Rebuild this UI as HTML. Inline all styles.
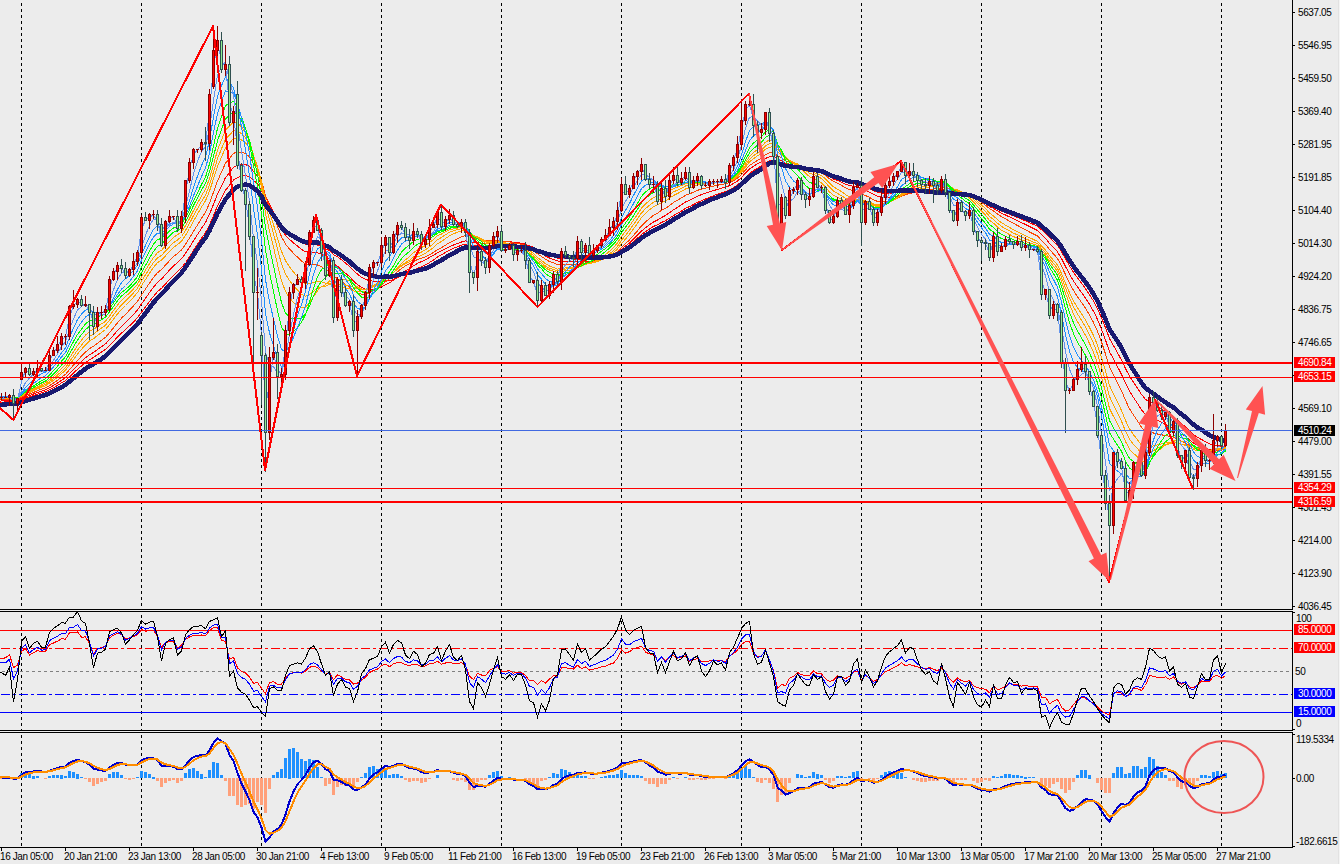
<!DOCTYPE html><html><head><meta charset="utf-8"><style>html,body{margin:0;padding:0;width:1340px;height:864px;overflow:hidden;background:#ECECEC}</style></head><body><svg width="1340" height="864" viewBox="0 0 1340 864" style="position:absolute;left:0;top:0"><rect width="1340" height="864" fill="#ECECEC"/><rect x="1338" y="0" width="1" height="864" fill="#E2E2E2"/><rect x="1339" y="0" width="1" height="864" fill="#F4F4F4"/><g stroke="#000" stroke-width="1" stroke-dasharray="3 3" shape-rendering="crispEdges"><line x1="21.5" y1="3" x2="21.5" y2="847"/><line x1="141.5" y1="3" x2="141.5" y2="847"/><line x1="261.5" y1="3" x2="261.5" y2="847"/><line x1="381.5" y1="3" x2="381.5" y2="847"/><line x1="501.5" y1="3" x2="501.5" y2="847"/><line x1="621.5" y1="3" x2="621.5" y2="847"/><line x1="741.5" y1="3" x2="741.5" y2="847"/><line x1="861.5" y1="3" x2="861.5" y2="847"/><line x1="981.5" y1="3" x2="981.5" y2="847"/><line x1="1101.5" y1="3" x2="1101.5" y2="847"/><line x1="1221.5" y1="3" x2="1221.5" y2="847"/></g><rect x="0" y="610" width="1293" height="1" fill="#ECECEC" shape-rendering="crispEdges"/><rect x="0" y="731" width="1293" height="1" fill="#ECECEC" shape-rendering="crispEdges"/><defs><clipPath id="cm"><rect x="0" y="0" width="1292" height="609"/></clipPath><clipPath id="c2"><rect x="0" y="612" width="1292" height="118"/></clipPath><clipPath id="c3"><rect x="0" y="733" width="1292" height="114"/></clipPath></defs><g clip-path="url(#cm)"><path d="M-2.5,402.8 L1.5,402.3 L5.5,401.9 L9.5,401.5 L13.5,401.4 L17.5,401.1 L21.5,399.6 L25.5,398.1 L29.5,396.8 L33.5,395.5 L37.5,394.1 L41.5,392.8 L45.5,391.6 L49.5,389.7 L53.5,387.7 L57.5,385.5 L61.5,382.9 L65.5,380.5 L69.5,376.8 L73.5,373.1 L77.5,369.3 L81.5,365.9 L85.5,362.6 L89.5,359.7 L93.5,357.5 L97.5,354.7 L101.5,352.1 L105.5,349.4 L109.5,345.5 L113.5,341.4 L117.5,337.1 L121.5,333.1 L125.5,329.6 L129.5,325.8 L133.5,321.9 L137.5,317.7 L141.5,312.1 L145.5,306.9 L149.5,301.5 L153.5,296.3 L157.5,291.7 L161.5,288.3 L165.5,283.9 L169.5,279.5 L173.5,275.2 L177.5,271.7 L181.5,267.8 L185.5,262.5 L189.5,256.6 L193.5,250.4 L197.5,244.4 L201.5,238.4 L205.5,232.6 L209.5,224.9 L213.5,215.5 L217.5,206.0 L221.5,198.1 L225.5,190.2 L229.5,185.3 L233.5,180.1 L237.5,177.5 L241.5,176.2 L245.5,175.7 L249.5,176.7 L253.5,180.3 L257.5,183.8 L261.5,190.2 L265.5,200.0 L269.5,206.3 L273.5,212.3 L277.5,219.4 L281.5,226.3 L285.5,231.2 L289.5,234.4 L293.5,237.1 L297.5,239.7 L301.5,242.3 L305.5,244.2 L309.5,244.6 L313.5,244.6 L317.5,245.0 L321.5,246.4 L325.5,248.7 L329.5,250.4 L333.5,254.5 L337.5,256.8 L341.5,259.7 L345.5,263.1 L349.5,266.2 L353.5,270.5 L357.5,274.1 L361.5,277.2 L365.5,279.5 L369.5,280.5 L373.5,281.2 L377.5,281.9 L381.5,281.6 L385.5,280.9 L389.5,280.7 L393.5,279.4 L397.5,277.6 L401.5,275.8 L405.5,274.2 L409.5,272.6 L413.5,270.5 L417.5,268.4 L421.5,266.8 L425.5,264.9 L429.5,262.5 L433.5,260.0 L437.5,257.0 L441.5,254.8 L445.5,252.5 L449.5,250.1 L453.5,248.3 L457.5,246.8 L461.5,245.2 L465.5,244.1 L469.5,244.9 L473.5,245.9 L477.5,245.8 L481.5,246.1 L485.5,246.8 L489.5,246.4 L493.5,245.6 L497.5,244.5 L501.5,244.3 L505.5,244.1 L509.5,243.8 L513.5,243.9 L517.5,243.9 L521.5,243.9 L525.5,244.4 L529.5,245.9 L533.5,247.4 L537.5,249.8 L541.5,251.5 L545.5,253.7 L549.5,255.4 L553.5,256.6 L557.5,258.1 L561.5,258.2 L565.5,258.5 L569.5,258.9 L573.5,259.3 L577.5,259.0 L581.5,259.1 L585.5,258.8 L589.5,259.0 L593.5,259.0 L597.5,258.7 L601.5,258.2 L605.5,257.5 L609.5,256.4 L613.5,255.0 L617.5,253.2 L621.5,250.2 L625.5,247.7 L629.5,244.9 L633.5,241.7 L637.5,238.2 L641.5,234.6 L645.5,231.6 L649.5,229.0 L653.5,226.4 L657.5,224.7 L661.5,222.5 L665.5,220.7 L669.5,218.2 L673.5,215.6 L677.5,213.3 L681.5,211.0 L685.5,208.4 L689.5,206.6 L693.5,204.5 L697.5,202.4 L701.5,200.7 L705.5,199.0 L709.5,197.3 L713.5,195.7 L717.5,194.2 L721.5,192.8 L725.5,191.6 L729.5,189.7 L733.5,187.6 L737.5,185.0 L741.5,181.5 L745.5,177.4 L749.5,173.5 L753.5,170.6 L757.5,168.2 L761.5,165.7 L765.5,162.7 L769.5,160.7 L773.5,159.8 L777.5,162.0 L781.5,163.1 L785.5,165.0 L789.5,165.8 L793.5,166.6 L797.5,167.0 L801.5,168.1 L805.5,169.3 L809.5,170.5 L813.5,170.7 L817.5,171.4 L821.5,172.0 L825.5,173.7 L829.5,175.9 L833.5,177.8 L837.5,179.0 L841.5,180.3 L845.5,182.1 L849.5,183.4 L853.5,183.9 L857.5,184.3 L861.5,186.4 L865.5,187.4 L869.5,188.8 L873.5,190.8 L877.5,192.2 L881.5,193.0 L885.5,193.2 L889.5,193.2 L893.5,193.0 L897.5,192.6 L901.5,191.8 L905.5,191.6 L909.5,191.3 L913.5,191.0 L917.5,191.0 L921.5,191.1 L925.5,191.1 L929.5,190.9 L933.5,190.8 L937.5,190.9 L941.5,190.4 L945.5,190.5 L949.5,191.3 L953.5,192.4 L957.5,192.8 L961.5,193.6 L965.5,194.5 L969.5,195.2 L973.5,196.8 L977.5,198.8 L981.5,200.8 L985.5,202.8 L989.5,205.4 L993.5,206.9 L997.5,209.1 L1001.5,211.0 L1005.5,212.6 L1009.5,214.2 L1013.5,215.9 L1017.5,217.5 L1021.5,219.3 L1025.5,220.9 L1029.5,222.7 L1033.5,224.4 L1037.5,226.2 L1041.5,229.8 L1045.5,233.2 L1049.5,237.6 L1053.5,241.4 L1057.5,245.5 L1061.5,251.6 L1065.5,258.9 L1069.5,265.9 L1073.5,272.3 L1077.5,277.9 L1081.5,283.2 L1085.5,288.6 L1089.5,294.6 L1093.5,301.1 L1097.5,308.7 L1101.5,317.8 L1105.5,327.8 L1109.5,338.5 L1113.5,345.6 L1117.5,352.8 L1121.5,360.1 L1125.5,368.5 L1129.5,376.2 L1133.5,382.3 L1137.5,388.2 L1141.5,394.4 L1145.5,399.4 L1149.5,401.6 L1153.5,403.9 L1157.5,406.4 L1161.5,409.0 L1165.5,411.2 L1169.5,414.2 L1173.5,416.5 L1177.5,420.1 L1181.5,423.8 L1185.5,426.8 L1189.5,430.7 L1193.5,434.5 L1197.5,437.4 L1201.5,439.5 L1205.5,441.8 L1209.5,443.8 L1213.5,444.8 L1217.5,445.4 L1221.5,446.3 L1225.5,446.3" fill="none" stroke="#FF0000" stroke-width="1" shape-rendering="crispEdges"/><path d="M-2.5,401.4 L1.5,401.0 L5.5,400.6 L9.5,400.2 L13.5,400.2 L17.5,400.0 L21.5,398.4 L25.5,396.7 L29.5,395.4 L33.5,394.0 L37.5,392.4 L41.5,391.1 L45.5,389.8 L49.5,387.7 L53.5,385.5 L57.5,383.1 L61.5,380.3 L65.5,377.7 L69.5,373.5 L73.5,369.5 L77.5,365.3 L81.5,361.5 L85.5,357.8 L89.5,354.7 L93.5,352.4 L97.5,349.5 L101.5,346.7 L105.5,343.9 L109.5,339.7 L113.5,335.2 L117.5,330.5 L121.5,326.3 L125.5,322.5 L129.5,318.6 L133.5,314.4 L137.5,310.0 L141.5,303.9 L145.5,298.3 L149.5,292.6 L153.5,287.1 L157.5,282.4 L161.5,279.0 L165.5,274.6 L169.5,270.1 L173.5,266.0 L177.5,262.6 L181.5,258.8 L185.5,253.4 L189.5,247.3 L193.5,240.8 L197.5,234.6 L201.5,228.4 L205.5,222.5 L209.5,214.3 L213.5,204.3 L217.5,194.1 L221.5,185.8 L225.5,177.6 L229.5,172.6 L233.5,167.4 L237.5,165.2 L241.5,164.4 L245.5,164.5 L249.5,166.5 L253.5,171.4 L257.5,176.3 L261.5,184.5 L265.5,196.5 L269.5,204.5 L273.5,212.1 L277.5,220.8 L281.5,229.2 L285.5,235.3 L289.5,239.3 L293.5,242.9 L297.5,246.1 L301.5,249.4 L305.5,251.7 L309.5,252.2 L313.5,252.2 L317.5,252.7 L321.5,254.3 L325.5,257.0 L329.5,258.9 L333.5,263.6 L337.5,266.3 L341.5,269.5 L345.5,273.2 L349.5,276.5 L353.5,281.1 L357.5,284.7 L361.5,287.5 L365.5,289.3 L369.5,289.6 L373.5,289.2 L377.5,288.7 L381.5,286.9 L385.5,284.6 L389.5,282.9 L393.5,280.2 L397.5,276.9 L401.5,273.8 L405.5,271.1 L409.5,268.7 L413.5,265.8 L417.5,263.3 L421.5,261.6 L425.5,259.8 L429.5,257.5 L433.5,255.3 L437.5,252.6 L441.5,250.8 L445.5,248.8 L449.5,246.6 L453.5,245.0 L457.5,243.5 L461.5,242.0 L465.5,240.9 L469.5,241.9 L473.5,243.0 L477.5,242.8 L481.5,243.1 L485.5,243.8 L489.5,243.4 L493.5,242.6 L497.5,241.6 L501.5,241.6 L505.5,241.7 L509.5,241.7 L513.5,242.3 L517.5,242.7 L521.5,243.2 L525.5,244.2 L529.5,246.3 L533.5,248.3 L537.5,251.3 L541.5,253.4 L545.5,256.0 L549.5,258.0 L553.5,259.4 L557.5,261.0 L561.5,261.1 L565.5,261.3 L569.5,261.7 L573.5,262.0 L577.5,261.4 L581.5,261.5 L585.5,261.1 L589.5,261.2 L593.5,261.0 L597.5,260.5 L601.5,259.6 L605.5,258.5 L609.5,257.0 L613.5,255.2 L617.5,252.9 L621.5,249.2 L625.5,246.1 L629.5,242.9 L633.5,239.1 L637.5,235.2 L641.5,231.0 L645.5,227.8 L649.5,224.8 L653.5,222.0 L657.5,220.1 L661.5,217.5 L665.5,215.5 L669.5,212.7 L673.5,209.8 L677.5,207.3 L681.5,204.8 L685.5,202.0 L689.5,200.2 L693.5,198.2 L697.5,196.1 L701.5,194.6 L705.5,193.3 L709.5,191.9 L713.5,190.6 L717.5,189.4 L721.5,188.2 L725.5,187.3 L729.5,185.6 L733.5,183.5 L737.5,181.0 L741.5,177.4 L745.5,173.1 L749.5,169.0 L753.5,166.2 L757.5,163.9 L761.5,161.5 L765.5,158.5 L769.5,156.6 L773.5,156.1 L777.5,159.1 L781.5,160.6 L785.5,163.1 L789.5,164.2 L793.5,165.2 L797.5,165.8 L801.5,167.0 L805.5,168.6 L809.5,169.9 L813.5,170.2 L817.5,171.1 L821.5,172.0 L825.5,174.1 L829.5,176.7 L833.5,179.0 L837.5,180.4 L841.5,182.1 L845.5,184.1 L849.5,185.7 L853.5,186.3 L857.5,186.8 L861.5,189.2 L865.5,190.5 L869.5,192.1 L873.5,194.4 L877.5,196.1 L881.5,197.0 L885.5,197.2 L889.5,197.2 L893.5,196.9 L897.5,196.2 L901.5,195.0 L905.5,194.4 L909.5,193.5 L913.5,192.8 L917.5,192.3 L921.5,191.8 L925.5,191.4 L929.5,190.7 L933.5,190.3 L937.5,190.1 L941.5,189.5 L945.5,189.5 L949.5,190.4 L953.5,191.8 L957.5,192.2 L961.5,193.1 L965.5,194.2 L969.5,195.0 L973.5,196.8 L977.5,199.0 L981.5,201.3 L985.5,203.6 L989.5,206.5 L993.5,208.4 L997.5,210.9 L1001.5,213.2 L1005.5,215.0 L1009.5,216.9 L1013.5,218.8 L1017.5,220.6 L1021.5,222.6 L1025.5,224.5 L1029.5,226.5 L1033.5,228.5 L1037.5,230.5 L1041.5,234.7 L1045.5,238.4 L1049.5,243.3 L1053.5,247.4 L1057.5,251.8 L1061.5,258.6 L1065.5,266.5 L1069.5,274.1 L1073.5,280.9 L1077.5,286.9 L1081.5,292.4 L1085.5,298.1 L1089.5,304.4 L1093.5,311.3 L1097.5,319.4 L1101.5,329.2 L1105.5,340.1 L1109.5,351.7 L1113.5,359.1 L1117.5,366.7 L1121.5,374.3 L1125.5,383.2 L1129.5,391.2 L1133.5,397.5 L1137.5,403.4 L1141.5,409.8 L1145.5,414.6 L1149.5,416.4 L1153.5,418.1 L1157.5,420.1 L1161.5,422.2 L1165.5,423.9 L1169.5,426.3 L1173.5,427.9 L1177.5,431.0 L1181.5,434.2 L1185.5,436.5 L1189.5,439.9 L1193.5,443.0 L1197.5,445.3 L1201.5,446.5 L1205.5,448.1 L1209.5,449.4 L1213.5,449.5 L1217.5,449.3 L1221.5,449.6 L1225.5,448.9" fill="none" stroke="#FF0000" stroke-width="1" shape-rendering="crispEdges"/><path d="M-2.5,400.0 L1.5,399.7 L5.5,399.4 L9.5,399.0 L13.5,399.2 L17.5,399.0 L21.5,397.3 L25.5,395.4 L29.5,394.0 L33.5,392.4 L37.5,390.7 L41.5,389.2 L45.5,387.8 L49.5,385.6 L53.5,383.1 L57.5,380.4 L61.5,377.3 L65.5,374.3 L69.5,369.7 L73.5,365.1 L77.5,360.3 L81.5,356.2 L85.5,352.1 L89.5,348.7 L93.5,346.3 L97.5,343.2 L101.5,340.3 L105.5,337.3 L109.5,332.7 L113.5,327.8 L117.5,322.8 L121.5,318.2 L125.5,314.3 L129.5,310.2 L133.5,305.9 L137.5,301.3 L141.5,294.9 L145.5,289.0 L149.5,283.1 L153.5,277.4 L157.5,272.7 L161.5,269.5 L165.5,265.1 L169.5,260.7 L173.5,256.6 L177.5,253.5 L181.5,249.9 L185.5,244.3 L189.5,238.0 L193.5,231.3 L197.5,224.9 L201.5,218.3 L205.5,212.2 L209.5,203.3 L213.5,192.2 L217.5,181.0 L221.5,172.0 L225.5,163.3 L229.5,158.5 L233.5,153.4 L237.5,151.9 L241.5,152.2 L245.5,153.5 L249.5,156.8 L253.5,163.6 L257.5,170.4 L261.5,180.9 L265.5,195.9 L269.5,206.1 L273.5,215.6 L277.5,226.4 L281.5,236.7 L285.5,244.1 L289.5,249.0 L293.5,253.3 L297.5,257.2 L301.5,261.1 L305.5,263.8 L309.5,264.5 L313.5,264.5 L317.5,265.0 L321.5,266.7 L325.5,269.6 L329.5,271.3 L333.5,276.3 L337.5,278.6 L341.5,281.4 L345.5,284.5 L349.5,286.9 L353.5,290.5 L357.5,292.9 L361.5,294.2 L365.5,294.3 L369.5,292.7 L373.5,290.6 L377.5,288.5 L381.5,285.2 L385.5,281.6 L389.5,278.9 L393.5,275.4 L397.5,271.7 L401.5,268.4 L405.5,265.9 L409.5,263.8 L413.5,261.5 L417.5,259.5 L421.5,258.3 L425.5,256.8 L429.5,254.7 L433.5,252.5 L437.5,249.6 L441.5,247.6 L445.5,245.2 L449.5,242.6 L453.5,240.6 L457.5,238.8 L461.5,236.8 L465.5,235.6 L469.5,236.9 L473.5,238.6 L477.5,238.8 L481.5,239.5 L485.5,240.9 L489.5,241.0 L493.5,240.6 L497.5,240.1 L501.5,240.8 L505.5,241.5 L509.5,241.9 L513.5,242.9 L517.5,243.6 L521.5,244.3 L525.5,245.6 L529.5,248.1 L533.5,250.5 L537.5,253.9 L541.5,256.4 L545.5,259.3 L549.5,261.5 L553.5,262.9 L557.5,264.8 L561.5,264.7 L565.5,264.8 L569.5,264.9 L573.5,265.1 L577.5,264.1 L581.5,263.8 L585.5,263.0 L589.5,262.7 L593.5,262.1 L597.5,261.1 L601.5,259.9 L605.5,258.4 L609.5,256.6 L613.5,254.4 L617.5,251.6 L621.5,247.3 L625.5,243.7 L629.5,239.9 L633.5,235.4 L637.5,230.8 L641.5,225.8 L645.5,222.0 L649.5,218.6 L653.5,215.3 L657.5,213.2 L661.5,210.4 L665.5,208.4 L669.5,205.5 L673.5,202.5 L677.5,200.2 L681.5,197.9 L685.5,195.3 L689.5,193.9 L693.5,192.2 L697.5,190.3 L701.5,189.2 L705.5,188.2 L709.5,187.1 L713.5,186.1 L717.5,185.2 L721.5,184.4 L725.5,183.8 L729.5,182.4 L733.5,180.6 L737.5,178.1 L741.5,174.4 L745.5,169.9 L749.5,165.6 L753.5,162.7 L757.5,160.4 L761.5,158.0 L765.5,154.6 L769.5,152.7 L773.5,152.2 L777.5,155.8 L781.5,157.8 L785.5,160.8 L789.5,162.2 L793.5,163.6 L797.5,164.5 L801.5,166.2 L805.5,168.2 L809.5,170.0 L813.5,170.5 L817.5,171.7 L821.5,172.9 L825.5,175.5 L829.5,178.7 L833.5,181.5 L837.5,183.2 L841.5,185.3 L845.5,187.8 L849.5,189.7 L853.5,190.5 L857.5,191.2 L861.5,194.0 L865.5,195.5 L869.5,197.3 L873.5,199.8 L877.5,201.4 L881.5,202.0 L885.5,201.6 L889.5,200.9 L893.5,199.8 L897.5,198.3 L901.5,196.2 L905.5,194.8 L909.5,193.3 L913.5,192.1 L917.5,191.3 L921.5,190.7 L925.5,190.2 L929.5,189.4 L933.5,188.9 L937.5,188.8 L941.5,188.0 L945.5,187.9 L949.5,189.0 L953.5,190.6 L957.5,191.1 L961.5,192.2 L965.5,193.5 L969.5,194.5 L973.5,196.8 L977.5,199.6 L981.5,202.4 L985.5,205.2 L989.5,208.7 L993.5,210.9 L997.5,214.0 L1001.5,216.6 L1005.5,218.8 L1009.5,221.1 L1013.5,223.4 L1017.5,225.5 L1021.5,227.8 L1025.5,229.8 L1029.5,232.0 L1033.5,234.0 L1037.5,236.0 L1041.5,240.4 L1045.5,244.3 L1049.5,249.5 L1053.5,253.9 L1057.5,258.5 L1061.5,265.9 L1065.5,274.7 L1069.5,283.0 L1073.5,290.4 L1077.5,296.7 L1081.5,302.4 L1085.5,308.3 L1089.5,315.1 L1093.5,322.5 L1097.5,331.2 L1101.5,342.0 L1105.5,354.0 L1109.5,366.8 L1113.5,374.7 L1117.5,382.7 L1121.5,390.7 L1125.5,400.3 L1129.5,408.8 L1133.5,415.1 L1137.5,421.0 L1141.5,427.2 L1145.5,431.6 L1149.5,432.3 L1153.5,433.0 L1157.5,434.0 L1161.5,434.9 L1165.5,435.3 L1169.5,436.6 L1173.5,437.0 L1177.5,439.2 L1181.5,441.5 L1185.5,442.9 L1189.5,445.6 L1193.5,448.1 L1197.5,449.7 L1201.5,450.2 L1205.5,451.2 L1209.5,452.1 L1213.5,451.5 L1217.5,450.6 L1221.5,450.1 L1225.5,448.7" fill="none" stroke="#FF4500" stroke-width="1" shape-rendering="crispEdges"/><path d="M-2.5,398.8 L1.5,398.5 L5.5,398.3 L9.5,398.0 L13.5,398.3 L17.5,398.2 L21.5,396.2 L25.5,394.1 L29.5,392.5 L33.5,390.7 L37.5,388.8 L41.5,387.2 L45.5,385.7 L49.5,383.1 L53.5,380.3 L57.5,377.1 L61.5,373.6 L65.5,370.2 L69.5,364.8 L73.5,359.5 L77.5,354.0 L81.5,349.3 L85.5,344.8 L89.5,341.1 L93.5,338.7 L97.5,335.5 L101.5,332.5 L105.5,329.5 L109.5,324.5 L113.5,319.3 L117.5,314.0 L121.5,309.3 L125.5,305.5 L129.5,301.5 L133.5,297.2 L137.5,292.6 L141.5,285.7 L145.5,279.5 L149.5,273.2 L153.5,267.4 L157.5,262.7 L161.5,260.0 L165.5,255.8 L169.5,251.5 L173.5,247.5 L177.5,244.7 L181.5,241.3 L185.5,235.4 L189.5,228.5 L193.5,221.1 L197.5,214.1 L201.5,207.1 L205.5,200.7 L209.5,191.1 L213.5,178.9 L217.5,166.6 L221.5,157.1 L225.5,147.7 L229.5,143.3 L233.5,138.5 L237.5,138.1 L241.5,139.9 L245.5,142.8 L249.5,148.2 L253.5,157.7 L257.5,167.0 L261.5,180.7 L265.5,199.7 L269.5,212.6 L273.5,224.8 L277.5,238.4 L281.5,251.4 L285.5,260.7 L289.5,266.8 L293.5,272.1 L297.5,276.6 L301.5,281.0 L305.5,283.7 L309.5,283.6 L313.5,282.4 L317.5,281.6 L321.5,281.9 L325.5,283.3 L329.5,283.1 L333.5,286.4 L337.5,286.4 L341.5,286.9 L345.5,288.0 L349.5,288.5 L353.5,290.8 L357.5,291.8 L361.5,292.0 L365.5,291.1 L369.5,288.6 L373.5,286.2 L377.5,284.0 L381.5,280.9 L385.5,277.5 L389.5,275.6 L393.5,272.6 L397.5,269.1 L401.5,266.0 L405.5,263.7 L409.5,261.8 L413.5,259.2 L417.5,256.9 L421.5,255.3 L425.5,253.3 L429.5,250.4 L433.5,247.5 L437.5,243.8 L441.5,241.4 L445.5,238.6 L449.5,235.7 L453.5,233.8 L457.5,232.2 L461.5,230.7 L465.5,230.1 L469.5,232.7 L473.5,235.8 L477.5,236.8 L481.5,238.6 L485.5,240.9 L489.5,241.5 L493.5,241.5 L497.5,241.1 L501.5,242.1 L505.5,243.0 L509.5,243.5 L513.5,244.6 L517.5,245.5 L521.5,246.2 L525.5,247.7 L529.5,250.7 L533.5,253.5 L537.5,257.6 L541.5,260.4 L545.5,263.7 L549.5,266.0 L553.5,267.4 L557.5,269.1 L561.5,268.4 L565.5,268.0 L569.5,267.6 L573.5,267.2 L577.5,265.6 L581.5,265.0 L585.5,263.7 L589.5,263.3 L593.5,262.6 L597.5,261.4 L601.5,259.8 L605.5,257.9 L609.5,255.4 L613.5,252.6 L617.5,249.0 L621.5,243.5 L625.5,239.1 L629.5,234.3 L633.5,228.9 L637.5,223.3 L641.5,217.6 L645.5,213.4 L649.5,209.8 L653.5,206.6 L657.5,204.9 L661.5,202.5 L665.5,200.9 L669.5,198.3 L673.5,195.5 L677.5,193.5 L681.5,191.4 L685.5,189.0 L689.5,188.0 L693.5,186.6 L697.5,185.1 L701.5,184.5 L705.5,184.1 L709.5,183.5 L713.5,183.1 L717.5,182.9 L721.5,182.6 L725.5,182.6 L729.5,181.3 L733.5,179.6 L737.5,176.9 L741.5,172.6 L745.5,167.2 L749.5,162.0 L753.5,158.6 L757.5,155.9 L761.5,153.1 L765.5,149.2 L769.5,147.1 L773.5,146.9 L777.5,151.8 L781.5,154.6 L785.5,158.6 L789.5,160.7 L793.5,162.7 L797.5,164.0 L801.5,166.3 L805.5,169.0 L809.5,171.3 L813.5,172.2 L817.5,173.9 L821.5,175.6 L825.5,179.0 L829.5,183.2 L833.5,186.8 L837.5,189.1 L841.5,191.6 L845.5,194.6 L849.5,196.7 L853.5,197.2 L857.5,197.3 L861.5,199.9 L865.5,200.8 L869.5,202.0 L873.5,203.9 L877.5,204.8 L881.5,204.5 L885.5,203.3 L889.5,201.9 L893.5,200.2 L897.5,198.2 L901.5,195.5 L905.5,193.9 L909.5,192.0 L913.5,190.5 L917.5,189.5 L921.5,188.7 L925.5,188.0 L929.5,187.0 L933.5,186.4 L937.5,186.3 L941.5,185.4 L945.5,185.6 L949.5,187.1 L953.5,189.4 L957.5,190.3 L961.5,191.8 L965.5,193.5 L969.5,194.9 L973.5,197.8 L977.5,201.4 L981.5,205.0 L985.5,208.6 L989.5,213.1 L993.5,215.9 L997.5,219.6 L1001.5,222.7 L1005.5,225.1 L1009.5,227.4 L1013.5,229.8 L1017.5,231.7 L1021.5,233.9 L1025.5,235.8 L1029.5,237.7 L1033.5,239.5 L1037.5,241.3 L1041.5,246.0 L1045.5,250.1 L1049.5,255.7 L1053.5,260.3 L1057.5,265.1 L1061.5,273.4 L1065.5,283.3 L1069.5,292.7 L1073.5,300.8 L1077.5,307.6 L1081.5,313.7 L1085.5,320.0 L1089.5,327.4 L1093.5,335.4 L1097.5,345.2 L1101.5,357.4 L1105.5,371.0 L1109.5,385.5 L1113.5,393.8 L1117.5,402.2 L1121.5,410.4 L1125.5,420.4 L1129.5,428.9 L1133.5,434.7 L1137.5,439.8 L1141.5,445.3 L1145.5,448.5 L1149.5,447.1 L1153.5,445.8 L1157.5,444.9 L1161.5,444.0 L1165.5,442.6 L1169.5,442.6 L1173.5,441.5 L1177.5,443.0 L1181.5,444.7 L1185.5,445.3 L1189.5,447.6 L1193.5,449.7 L1197.5,450.6 L1201.5,450.2 L1205.5,450.5 L1209.5,450.9 L1213.5,449.8 L1217.5,448.8 L1221.5,448.4 L1225.5,447.0" fill="none" stroke="#FFA500" stroke-width="1" shape-rendering="crispEdges"/><path d="M-2.5,398.1 L1.5,398.0 L5.5,397.8 L9.5,397.5 L13.5,397.9 L17.5,397.9 L21.5,395.8 L25.5,393.4 L29.5,391.7 L33.5,389.8 L37.5,387.8 L41.5,386.0 L45.5,384.4 L49.5,381.6 L53.5,378.5 L57.5,375.2 L61.5,371.3 L65.5,367.7 L69.5,361.7 L73.5,356.0 L77.5,350.1 L81.5,345.1 L85.5,340.3 L89.5,336.5 L93.5,334.2 L97.5,331.0 L101.5,328.1 L105.5,325.2 L109.5,320.2 L113.5,315.0 L117.5,309.6 L121.5,304.8 L125.5,301.0 L129.5,297.1 L133.5,292.8 L137.5,288.2 L141.5,281.1 L145.5,274.8 L149.5,268.4 L153.5,262.5 L157.5,257.9 L161.5,255.4 L165.5,251.1 L169.5,246.8 L173.5,242.7 L177.5,240.0 L181.5,236.5 L185.5,230.4 L189.5,223.3 L193.5,215.6 L197.5,208.6 L201.5,201.5 L205.5,195.1 L209.5,185.0 L213.5,171.9 L217.5,158.7 L221.5,148.8 L225.5,139.2 L229.5,135.1 L233.5,130.6 L237.5,131.0 L241.5,133.7 L245.5,137.6 L249.5,144.2 L253.5,155.5 L257.5,166.5 L261.5,182.6 L265.5,204.6 L269.5,219.5 L273.5,233.6 L277.5,249.2 L281.5,263.9 L285.5,274.1 L289.5,280.6 L293.5,285.8 L297.5,290.1 L301.5,294.2 L305.5,296.1 L309.5,294.6 L313.5,291.3 L317.5,288.4 L321.5,286.7 L325.5,286.4 L329.5,284.3 L333.5,286.6 L337.5,285.2 L341.5,284.7 L345.5,285.0 L349.5,285.0 L353.5,287.4 L357.5,288.6 L361.5,289.4 L365.5,289.3 L369.5,287.3 L373.5,285.3 L377.5,283.7 L381.5,281.0 L385.5,277.7 L389.5,275.9 L393.5,272.6 L397.5,268.8 L401.5,265.3 L405.5,262.6 L409.5,260.2 L413.5,256.9 L417.5,254.0 L421.5,252.0 L425.5,249.7 L429.5,246.7 L433.5,243.6 L437.5,239.8 L441.5,237.4 L445.5,234.8 L449.5,232.2 L453.5,230.7 L457.5,229.7 L461.5,228.6 L465.5,228.5 L469.5,231.9 L473.5,235.6 L477.5,237.0 L481.5,239.2 L485.5,241.9 L489.5,242.6 L493.5,242.5 L497.5,242.0 L501.5,243.1 L505.5,244.0 L509.5,244.6 L513.5,245.8 L517.5,246.7 L521.5,247.6 L525.5,249.2 L529.5,252.5 L533.5,255.4 L537.5,259.7 L541.5,262.6 L545.5,266.0 L549.5,268.2 L553.5,269.4 L557.5,270.9 L561.5,269.8 L565.5,269.1 L569.5,268.7 L573.5,268.3 L577.5,266.5 L581.5,265.7 L585.5,264.3 L589.5,263.7 L593.5,262.6 L597.5,261.1 L601.5,259.1 L605.5,256.8 L609.5,253.9 L613.5,250.6 L617.5,246.4 L621.5,240.3 L625.5,235.4 L629.5,230.2 L633.5,224.5 L637.5,218.8 L641.5,212.9 L645.5,208.7 L649.5,205.3 L653.5,202.2 L657.5,200.8 L661.5,198.5 L665.5,197.1 L669.5,194.6 L673.5,191.9 L677.5,190.1 L681.5,188.2 L685.5,186.0 L689.5,185.4 L693.5,184.4 L697.5,183.3 L701.5,183.1 L705.5,183.1 L709.5,182.9 L713.5,182.8 L717.5,182.7 L721.5,182.5 L725.5,182.6 L729.5,181.2 L733.5,179.2 L737.5,176.2 L741.5,171.2 L745.5,165.2 L749.5,159.4 L753.5,155.8 L757.5,152.9 L761.5,150.1 L765.5,146.0 L769.5,143.9 L773.5,143.9 L777.5,149.6 L781.5,152.9 L785.5,157.7 L789.5,160.2 L793.5,162.6 L797.5,164.3 L801.5,167.1 L805.5,170.3 L809.5,173.2 L813.5,174.4 L817.5,176.5 L821.5,178.5 L825.5,182.4 L829.5,187.2 L833.5,191.1 L837.5,193.4 L841.5,195.7 L845.5,198.4 L849.5,200.0 L853.5,199.9 L857.5,199.4 L861.5,201.7 L865.5,202.0 L869.5,202.7 L873.5,204.6 L877.5,205.6 L881.5,205.3 L885.5,204.0 L889.5,202.3 L893.5,200.3 L897.5,197.9 L901.5,194.9 L905.5,193.0 L909.5,190.9 L913.5,189.1 L917.5,187.8 L921.5,186.9 L925.5,186.2 L929.5,185.4 L933.5,184.9 L937.5,184.9 L941.5,184.1 L945.5,184.5 L949.5,186.3 L953.5,188.9 L957.5,190.0 L961.5,191.9 L965.5,194.0 L969.5,195.8 L973.5,199.3 L977.5,203.5 L981.5,207.6 L985.5,211.6 L989.5,216.5 L993.5,219.4 L997.5,223.2 L1001.5,226.4 L1005.5,228.7 L1009.5,230.9 L1013.5,233.1 L1017.5,234.9 L1021.5,237.0 L1025.5,238.7 L1029.5,240.5 L1033.5,242.1 L1037.5,243.6 L1041.5,248.4 L1045.5,252.6 L1049.5,258.6 L1053.5,263.4 L1057.5,268.4 L1061.5,277.3 L1065.5,287.9 L1069.5,298.0 L1073.5,306.7 L1077.5,313.9 L1081.5,320.4 L1085.5,327.0 L1089.5,334.8 L1093.5,343.3 L1097.5,353.7 L1101.5,366.7 L1105.5,381.2 L1109.5,396.5 L1113.5,404.8 L1117.5,413.1 L1121.5,421.2 L1125.5,431.1 L1129.5,439.3 L1133.5,444.3 L1137.5,448.7 L1141.5,453.6 L1145.5,455.9 L1149.5,453.1 L1153.5,450.5 L1157.5,448.4 L1161.5,446.6 L1165.5,444.5 L1169.5,443.9 L1173.5,442.2 L1177.5,443.1 L1181.5,444.3 L1185.5,444.2 L1189.5,446.2 L1193.5,448.1 L1197.5,449.0 L1201.5,448.7 L1205.5,449.5 L1209.5,450.3 L1213.5,449.5 L1217.5,448.4 L1221.5,448.3 L1225.5,447.1" fill="none" stroke="#FFA500" stroke-width="1" shape-rendering="crispEdges"/><path d="M-2.5,397.6 L1.5,397.5 L5.5,397.4 L9.5,397.1 L13.5,397.7 L17.5,397.8 L21.5,395.4 L25.5,392.8 L29.5,390.9 L33.5,388.8 L37.5,386.6 L41.5,384.7 L45.5,382.9 L49.5,379.8 L53.5,376.5 L57.5,372.8 L61.5,368.6 L65.5,364.6 L69.5,358.1 L73.5,351.8 L77.5,345.4 L81.5,340.1 L85.5,335.2 L89.5,331.4 L93.5,329.4 L97.5,326.4 L101.5,323.8 L105.5,321.3 L109.5,316.1 L113.5,310.6 L117.5,305.1 L121.5,300.3 L125.5,296.7 L129.5,292.9 L133.5,288.8 L137.5,284.3 L141.5,276.8 L145.5,270.2 L149.5,263.6 L153.5,257.5 L157.5,252.7 L161.5,250.3 L165.5,245.9 L169.5,241.4 L173.5,237.3 L177.5,234.9 L181.5,231.8 L185.5,225.7 L189.5,218.5 L193.5,210.6 L197.5,203.3 L201.5,195.9 L205.5,189.2 L209.5,178.5 L213.5,164.4 L217.5,150.3 L221.5,140.0 L225.5,130.0 L229.5,126.2 L233.5,121.8 L237.5,123.0 L241.5,126.9 L245.5,132.4 L249.5,141.0 L253.5,154.9 L257.5,168.4 L261.5,187.5 L265.5,213.4 L269.5,230.9 L273.5,247.0 L277.5,264.5 L281.5,280.6 L285.5,291.5 L289.5,297.9 L293.5,302.5 L297.5,305.6 L301.5,307.8 L305.5,307.3 L309.5,302.7 L313.5,296.6 L317.5,290.8 L321.5,286.8 L325.5,284.8 L329.5,280.9 L333.5,282.4 L337.5,280.1 L341.5,279.2 L345.5,279.8 L349.5,280.6 L353.5,284.4 L357.5,287.0 L361.5,288.8 L365.5,289.8 L369.5,288.5 L373.5,286.9 L377.5,285.3 L381.5,282.3 L385.5,278.6 L389.5,276.5 L393.5,272.6 L397.5,267.8 L401.5,263.2 L405.5,259.7 L409.5,256.6 L413.5,252.8 L417.5,249.6 L421.5,247.6 L425.5,245.4 L429.5,242.4 L433.5,239.4 L437.5,235.8 L441.5,234.0 L445.5,231.9 L449.5,229.8 L453.5,228.8 L457.5,228.1 L461.5,227.3 L465.5,227.5 L469.5,231.6 L473.5,236.0 L477.5,237.7 L481.5,240.2 L485.5,243.2 L489.5,244.0 L493.5,243.8 L497.5,243.2 L501.5,244.4 L505.5,245.5 L509.5,246.1 L513.5,247.5 L517.5,248.4 L521.5,249.1 L525.5,250.7 L529.5,254.1 L533.5,257.1 L537.5,261.6 L541.5,264.4 L545.5,267.9 L549.5,270.0 L553.5,271.1 L557.5,272.8 L561.5,271.6 L565.5,270.8 L569.5,270.2 L573.5,269.7 L577.5,267.5 L581.5,266.2 L585.5,264.3 L589.5,263.4 L593.5,261.9 L597.5,260.0 L601.5,257.5 L605.5,254.7 L609.5,251.2 L613.5,247.5 L617.5,243.0 L621.5,236.4 L625.5,231.3 L629.5,226.0 L633.5,220.1 L637.5,214.2 L641.5,208.1 L645.5,203.9 L649.5,200.5 L653.5,197.5 L657.5,196.4 L661.5,194.3 L665.5,193.2 L669.5,190.9 L673.5,188.5 L677.5,187.0 L681.5,185.5 L685.5,183.7 L689.5,183.6 L693.5,183.1 L697.5,182.4 L701.5,182.7 L705.5,182.9 L709.5,182.9 L713.5,182.9 L717.5,182.8 L721.5,182.6 L725.5,182.5 L729.5,180.8 L733.5,178.4 L737.5,174.9 L741.5,169.4 L745.5,162.7 L749.5,156.5 L753.5,152.6 L757.5,149.6 L761.5,146.6 L765.5,142.1 L769.5,140.0 L773.5,140.3 L777.5,147.2 L781.5,151.3 L785.5,157.1 L789.5,160.3 L793.5,163.4 L797.5,165.6 L801.5,169.1 L805.5,173.1 L809.5,176.7 L813.5,178.2 L817.5,180.7 L821.5,182.9 L825.5,187.1 L829.5,191.9 L833.5,195.5 L837.5,197.2 L841.5,199.1 L845.5,201.4 L849.5,202.4 L853.5,201.3 L857.5,200.0 L861.5,202.3 L865.5,202.5 L869.5,203.5 L873.5,205.7 L877.5,206.7 L881.5,206.2 L885.5,204.5 L889.5,202.5 L893.5,200.1 L897.5,197.3 L901.5,193.6 L905.5,191.3 L909.5,188.8 L913.5,186.9 L917.5,185.7 L921.5,185.0 L925.5,184.4 L929.5,183.6 L933.5,183.4 L937.5,183.5 L941.5,182.7 L945.5,183.2 L949.5,185.6 L953.5,188.8 L957.5,190.4 L961.5,192.9 L965.5,195.7 L969.5,197.8 L973.5,201.9 L977.5,206.5 L981.5,211.0 L985.5,215.2 L989.5,220.4 L993.5,223.2 L997.5,227.1 L1001.5,230.2 L1005.5,232.4 L1009.5,234.5 L1013.5,236.6 L1017.5,238.1 L1021.5,240.0 L1025.5,241.3 L1029.5,242.8 L1033.5,244.1 L1037.5,245.4 L1041.5,250.6 L1045.5,254.9 L1049.5,261.4 L1053.5,266.3 L1057.5,271.6 L1061.5,281.4 L1065.5,293.2 L1069.5,304.3 L1073.5,313.8 L1077.5,321.6 L1081.5,328.4 L1085.5,335.3 L1089.5,343.4 L1093.5,352.3 L1097.5,363.2 L1101.5,376.9 L1105.5,392.2 L1109.5,408.4 L1113.5,416.4 L1117.5,424.2 L1121.5,431.7 L1125.5,441.4 L1129.5,449.2 L1133.5,453.4 L1137.5,456.9 L1141.5,460.9 L1145.5,462.2 L1149.5,458.0 L1153.5,454.2 L1157.5,451.1 L1161.5,448.3 L1165.5,444.9 L1169.5,443.2 L1173.5,440.3 L1177.5,440.5 L1181.5,441.3 L1185.5,441.1 L1189.5,443.6 L1193.5,446.5 L1197.5,448.0 L1201.5,448.1 L1205.5,449.2 L1209.5,450.5 L1213.5,450.0 L1217.5,449.3 L1221.5,449.5 L1225.5,448.4" fill="none" stroke="#FFA500" stroke-width="1" shape-rendering="crispEdges"/><path d="M-2.5,397.1 L1.5,397.0 L5.5,397.0 L9.5,396.9 L13.5,397.6 L17.5,397.7 L21.5,395.0 L25.5,392.0 L29.5,389.9 L33.5,387.6 L37.5,385.1 L41.5,383.0 L45.5,381.1 L49.5,377.7 L53.5,374.0 L57.5,369.9 L61.5,365.2 L65.5,360.9 L69.5,353.7 L73.5,346.9 L77.5,340.1 L81.5,334.6 L85.5,329.7 L89.5,326.2 L93.5,324.7 L97.5,321.9 L101.5,319.6 L105.5,317.2 L109.5,312.0 L113.5,306.4 L117.5,300.8 L121.5,296.1 L125.5,292.8 L129.5,289.2 L133.5,285.2 L137.5,280.7 L141.5,272.6 L145.5,265.4 L149.5,258.1 L153.5,251.4 L157.5,246.4 L161.5,244.3 L165.5,240.0 L169.5,235.8 L173.5,232.2 L177.5,230.6 L181.5,228.0 L185.5,221.7 L189.5,214.0 L193.5,205.5 L197.5,197.8 L201.5,190.2 L205.5,183.4 L209.5,171.9 L213.5,156.4 L217.5,140.8 L221.5,129.6 L225.5,118.7 L229.5,115.4 L233.5,111.7 L237.5,114.6 L241.5,120.7 L245.5,128.5 L249.5,140.0 L253.5,157.6 L257.5,174.5 L261.5,197.5 L265.5,227.8 L269.5,247.8 L273.5,265.9 L277.5,285.3 L281.5,302.6 L285.5,312.9 L289.5,317.2 L293.5,319.0 L297.5,318.9 L301.5,318.0 L305.5,314.1 L309.5,305.9 L313.5,296.2 L317.5,287.4 L321.5,281.2 L325.5,277.7 L329.5,272.7 L333.5,274.7 L337.5,273.1 L341.5,273.6 L345.5,275.8 L349.5,278.1 L353.5,284.1 L357.5,288.5 L361.5,291.6 L365.5,293.1 L369.5,291.7 L373.5,289.8 L377.5,288.0 L381.5,284.1 L385.5,279.1 L389.5,275.7 L393.5,270.4 L397.5,264.3 L401.5,258.7 L405.5,254.7 L409.5,251.4 L413.5,247.4 L417.5,244.2 L421.5,242.6 L425.5,241.0 L429.5,238.6 L433.5,236.3 L437.5,233.1 L441.5,231.9 L445.5,230.1 L449.5,228.2 L453.5,227.4 L457.5,227.0 L461.5,226.2 L465.5,226.7 L469.5,231.6 L473.5,236.7 L477.5,238.7 L481.5,241.6 L485.5,245.1 L489.5,245.9 L493.5,245.8 L497.5,245.1 L501.5,246.4 L505.5,247.5 L509.5,248.0 L513.5,249.2 L517.5,249.9 L521.5,250.2 L525.5,251.6 L529.5,255.1 L533.5,258.1 L537.5,262.9 L541.5,265.9 L545.5,269.9 L549.5,272.5 L553.5,273.8 L557.5,275.8 L561.5,274.2 L565.5,273.0 L569.5,271.8 L573.5,270.8 L577.5,267.7 L581.5,265.9 L585.5,263.4 L589.5,262.0 L593.5,260.0 L597.5,257.5 L601.5,254.6 L605.5,251.5 L609.5,248.0 L613.5,244.1 L617.5,239.5 L621.5,232.6 L625.5,227.3 L629.5,221.9 L633.5,215.6 L637.5,209.3 L641.5,202.7 L645.5,198.4 L649.5,195.1 L653.5,192.3 L657.5,191.7 L661.5,190.0 L665.5,189.6 L669.5,187.8 L673.5,185.8 L677.5,184.9 L681.5,184.0 L685.5,182.6 L689.5,183.1 L693.5,182.9 L697.5,182.3 L701.5,182.7 L705.5,183.1 L709.5,183.0 L713.5,182.8 L717.5,182.5 L721.5,182.1 L725.5,182.0 L729.5,180.2 L733.5,177.6 L737.5,173.8 L741.5,167.6 L745.5,159.9 L749.5,152.8 L753.5,148.5 L757.5,145.3 L761.5,142.1 L765.5,137.4 L769.5,135.4 L773.5,136.3 L777.5,144.9 L781.5,150.3 L785.5,157.6 L789.5,161.8 L793.5,165.9 L797.5,168.9 L801.5,173.4 L805.5,178.2 L809.5,182.3 L813.5,183.7 L817.5,185.9 L821.5,187.5 L825.5,191.2 L829.5,195.8 L833.5,199.1 L837.5,199.9 L841.5,200.9 L845.5,202.5 L849.5,203.3 L853.5,201.9 L857.5,200.5 L861.5,203.3 L865.5,203.5 L869.5,204.5 L873.5,206.8 L877.5,207.8 L881.5,207.1 L885.5,204.9 L889.5,202.3 L893.5,199.1 L897.5,195.6 L901.5,191.5 L905.5,189.1 L909.5,186.5 L913.5,184.6 L917.5,183.4 L921.5,182.9 L925.5,182.5 L929.5,181.6 L933.5,181.5 L937.5,182.0 L941.5,181.4 L945.5,182.5 L949.5,185.8 L953.5,190.1 L957.5,192.2 L961.5,195.1 L965.5,198.3 L969.5,200.6 L973.5,204.9 L977.5,209.9 L981.5,214.6 L985.5,219.0 L989.5,224.5 L993.5,227.3 L997.5,231.4 L1001.5,234.4 L1005.5,236.3 L1009.5,238.1 L1013.5,239.8 L1017.5,240.8 L1021.5,242.3 L1025.5,243.4 L1029.5,244.7 L1033.5,245.7 L1037.5,246.7 L1041.5,252.3 L1045.5,256.8 L1049.5,264.0 L1053.5,269.4 L1057.5,275.3 L1061.5,286.4 L1065.5,299.8 L1069.5,312.3 L1073.5,322.7 L1077.5,331.0 L1081.5,337.9 L1085.5,344.8 L1089.5,353.1 L1093.5,362.1 L1097.5,373.3 L1101.5,387.7 L1105.5,403.7 L1109.5,420.5 L1113.5,427.8 L1117.5,434.9 L1121.5,441.9 L1125.5,451.3 L1129.5,458.5 L1133.5,461.6 L1137.5,464.3 L1141.5,468.0 L1145.5,468.5 L1149.5,462.3 L1153.5,456.5 L1157.5,451.4 L1161.5,446.8 L1165.5,441.7 L1169.5,438.9 L1173.5,435.3 L1177.5,435.9 L1181.5,437.8 L1185.5,438.3 L1189.5,441.8 L1193.5,445.4 L1197.5,447.7 L1201.5,448.5 L1205.5,450.5 L1209.5,452.5 L1213.5,452.4 L1217.5,451.9 L1221.5,452.1 L1225.5,450.4" fill="none" stroke="#00FF00" stroke-width="1" shape-rendering="crispEdges"/><path d="M-2.5,396.6 L1.5,396.7 L5.5,396.8 L9.5,396.7 L13.5,397.7 L17.5,397.9 L21.5,394.7 L25.5,391.1 L29.5,388.7 L33.5,386.0 L37.5,383.2 L41.5,380.8 L45.5,378.7 L49.5,374.9 L53.5,370.7 L57.5,366.2 L61.5,361.2 L65.5,356.7 L69.5,348.8 L73.5,341.5 L77.5,334.5 L81.5,329.0 L85.5,323.9 L89.5,320.6 L93.5,319.7 L97.5,317.3 L101.5,315.5 L105.5,313.8 L109.5,308.6 L113.5,303.0 L117.5,297.2 L121.5,292.6 L125.5,289.5 L129.5,286.0 L133.5,281.6 L137.5,276.5 L141.5,267.2 L145.5,259.1 L149.5,251.1 L153.5,244.2 L157.5,239.5 L161.5,238.5 L165.5,234.9 L169.5,231.1 L173.5,227.9 L177.5,226.8 L181.5,224.4 L185.5,217.8 L189.5,209.7 L193.5,200.7 L197.5,192.8 L201.5,184.5 L205.5,177.2 L209.5,163.9 L213.5,146.0 L217.5,128.3 L221.5,116.5 L225.5,105.5 L229.5,103.7 L233.5,101.2 L237.5,107.1 L241.5,116.8 L245.5,128.3 L249.5,143.7 L253.5,165.7 L257.5,186.3 L261.5,213.9 L265.5,249.8 L269.5,272.4 L273.5,291.4 L277.5,310.7 L281.5,326.8 L285.5,334.0 L289.5,334.2 L293.5,331.6 L297.5,327.3 L301.5,322.4 L305.5,314.5 L309.5,302.0 L313.5,288.4 L317.5,276.9 L321.5,269.5 L325.5,266.9 L329.5,263.1 L333.5,267.7 L337.5,267.9 L341.5,270.7 L345.5,275.5 L349.5,279.8 L353.5,287.7 L357.5,293.2 L361.5,297.0 L365.5,298.7 L369.5,296.4 L373.5,293.1 L377.5,289.4 L381.5,283.4 L385.5,276.6 L389.5,272.0 L393.5,265.6 L397.5,258.5 L401.5,252.2 L405.5,248.1 L409.5,244.9 L413.5,241.4 L417.5,239.1 L421.5,238.9 L425.5,238.4 L429.5,236.6 L433.5,234.7 L437.5,231.5 L441.5,230.6 L445.5,228.8 L449.5,226.8 L453.5,226.2 L457.5,225.9 L461.5,225.0 L465.5,225.7 L469.5,231.7 L473.5,238.0 L477.5,240.4 L481.5,244.0 L485.5,248.3 L489.5,249.3 L493.5,248.8 L497.5,247.5 L501.5,248.7 L505.5,249.4 L509.5,249.3 L513.5,250.2 L517.5,250.3 L521.5,250.1 L525.5,251.1 L529.5,255.1 L533.5,258.8 L537.5,264.9 L541.5,268.7 L545.5,273.6 L549.5,276.5 L553.5,277.6 L557.5,279.3 L561.5,276.7 L565.5,274.6 L569.5,272.7 L573.5,270.8 L577.5,266.7 L581.5,264.0 L585.5,260.6 L589.5,258.8 L593.5,256.6 L597.5,254.2 L601.5,251.3 L605.5,248.5 L609.5,245.1 L613.5,241.3 L617.5,236.6 L621.5,228.9 L625.5,223.1 L629.5,217.2 L633.5,210.3 L637.5,203.4 L641.5,196.3 L645.5,192.0 L649.5,189.0 L653.5,186.8 L657.5,187.3 L661.5,186.5 L665.5,187.2 L669.5,186.0 L673.5,184.6 L677.5,184.5 L681.5,183.8 L685.5,182.5 L689.5,183.3 L693.5,183.1 L697.5,182.3 L701.5,182.6 L705.5,182.8 L709.5,182.4 L713.5,182.1 L717.5,182.0 L721.5,181.7 L725.5,182.0 L729.5,179.9 L733.5,176.9 L737.5,172.4 L741.5,165.0 L745.5,156.0 L749.5,147.8 L753.5,143.1 L757.5,139.8 L761.5,136.6 L765.5,131.7 L769.5,130.2 L773.5,132.3 L777.5,143.7 L781.5,151.0 L785.5,160.6 L789.5,166.4 L793.5,171.8 L797.5,175.5 L801.5,180.5 L805.5,185.3 L809.5,188.8 L813.5,189.0 L817.5,190.2 L821.5,190.9 L825.5,193.9 L829.5,197.8 L833.5,200.2 L837.5,200.6 L841.5,201.7 L845.5,204.0 L849.5,204.9 L853.5,203.3 L857.5,201.3 L861.5,204.3 L865.5,204.3 L869.5,205.4 L873.5,207.8 L877.5,208.6 L881.5,207.2 L885.5,204.2 L889.5,201.1 L893.5,197.7 L897.5,193.8 L901.5,189.1 L905.5,186.6 L909.5,183.8 L913.5,181.7 L917.5,180.4 L921.5,180.0 L925.5,179.9 L929.5,179.5 L933.5,180.0 L937.5,181.5 L941.5,181.5 L945.5,183.3 L949.5,187.5 L953.5,192.6 L957.5,194.9 L961.5,198.0 L965.5,201.3 L969.5,203.5 L973.5,208.1 L977.5,213.5 L981.5,218.6 L985.5,223.3 L989.5,229.3 L993.5,231.8 L997.5,235.9 L1001.5,238.6 L1005.5,239.8 L1009.5,241.1 L1013.5,242.5 L1017.5,243.2 L1021.5,244.3 L1025.5,244.9 L1029.5,245.7 L1033.5,246.3 L1037.5,247.1 L1041.5,253.6 L1045.5,258.9 L1049.5,267.3 L1053.5,273.6 L1057.5,280.4 L1061.5,293.2 L1065.5,308.6 L1069.5,322.6 L1073.5,333.7 L1077.5,342.2 L1081.5,348.8 L1085.5,355.3 L1089.5,363.2 L1093.5,371.8 L1097.5,382.8 L1101.5,397.8 L1105.5,414.8 L1109.5,432.8 L1113.5,439.1 L1117.5,445.2 L1121.5,451.3 L1125.5,460.9 L1129.5,468.2 L1133.5,470.6 L1137.5,472.2 L1141.5,474.6 L1145.5,472.9 L1149.5,463.3 L1153.5,454.5 L1157.5,447.0 L1161.5,440.9 L1165.5,435.2 L1169.5,433.2 L1173.5,429.9 L1177.5,431.5 L1181.5,434.2 L1185.5,435.7 L1189.5,441.1 L1193.5,446.5 L1197.5,450.0 L1201.5,451.7 L1205.5,454.6 L1209.5,457.0 L1213.5,456.2 L1217.5,454.5 L1221.5,453.9 L1225.5,450.9" fill="none" stroke="#00FF00" stroke-width="1" shape-rendering="crispEdges"/><path d="M-2.5,396.4 L1.5,396.6 L5.5,396.8 L9.5,396.7 L13.5,398.0 L17.5,398.3 L21.5,394.3 L25.5,389.9 L29.5,386.9 L33.5,383.7 L37.5,380.4 L41.5,377.8 L45.5,375.6 L49.5,371.3 L53.5,366.9 L57.5,362.1 L61.5,356.9 L65.5,352.6 L69.5,343.9 L73.5,335.8 L77.5,327.9 L81.5,322.1 L85.5,317.1 L89.5,314.4 L93.5,314.9 L97.5,313.6 L101.5,312.8 L105.5,312.0 L109.5,306.6 L113.5,300.7 L117.5,294.4 L121.5,289.1 L125.5,285.5 L129.5,281.4 L133.5,276.4 L137.5,270.7 L141.5,260.3 L145.5,251.9 L149.5,243.8 L153.5,237.2 L157.5,233.2 L161.5,233.5 L165.5,230.0 L169.5,226.5 L173.5,223.8 L177.5,223.9 L181.5,222.5 L185.5,215.7 L189.5,206.4 L193.5,195.8 L197.5,186.3 L201.5,176.5 L205.5,168.2 L209.5,153.2 L213.5,132.8 L217.5,113.3 L221.5,101.3 L225.5,90.8 L229.5,92.3 L233.5,92.9 L237.5,103.2 L241.5,117.5 L245.5,133.4 L249.5,153.8 L253.5,182.1 L257.5,207.4 L261.5,239.5 L265.5,279.7 L269.5,301.9 L273.5,318.8 L277.5,336.2 L281.5,349.3 L285.5,351.8 L289.5,346.0 L293.5,337.4 L297.5,327.3 L301.5,317.9 L305.5,305.7 L309.5,289.4 L313.5,274.3 L317.5,262.8 L321.5,256.9 L325.5,256.7 L329.5,255.5 L333.5,264.8 L337.5,267.5 L341.5,272.3 L345.5,279.2 L349.5,285.0 L353.5,295.1 L357.5,301.4 L361.5,304.4 L365.5,304.1 L369.5,299.0 L373.5,293.2 L377.5,287.4 L381.5,279.6 L385.5,271.0 L389.5,265.7 L393.5,258.2 L397.5,250.2 L401.5,244.1 L405.5,241.1 L409.5,239.6 L413.5,237.3 L417.5,236.2 L421.5,237.1 L425.5,237.4 L429.5,235.8 L433.5,233.9 L437.5,230.5 L441.5,229.6 L445.5,227.6 L449.5,225.1 L453.5,224.4 L457.5,224.2 L461.5,223.5 L465.5,224.6 L469.5,232.6 L473.5,240.9 L477.5,244.1 L481.5,248.4 L485.5,253.2 L489.5,253.6 L493.5,252.2 L497.5,249.6 L501.5,250.1 L505.5,250.0 L509.5,248.9 L513.5,249.0 L517.5,248.8 L521.5,249.0 L525.5,250.8 L529.5,256.4 L533.5,261.3 L537.5,269.1 L541.5,273.4 L545.5,278.6 L549.5,281.2 L553.5,281.7 L557.5,282.8 L561.5,278.6 L565.5,275.0 L569.5,271.7 L573.5,268.5 L577.5,262.9 L581.5,259.8 L585.5,256.2 L589.5,254.8 L593.5,253.3 L597.5,251.4 L601.5,249.0 L605.5,246.5 L609.5,242.9 L613.5,238.8 L617.5,233.4 L621.5,224.3 L625.5,217.8 L629.5,211.2 L633.5,203.5 L637.5,196.1 L641.5,188.7 L645.5,185.1 L649.5,183.2 L653.5,182.0 L657.5,184.4 L661.5,184.9 L665.5,187.1 L669.5,186.4 L673.5,185.1 L677.5,185.2 L681.5,184.5 L685.5,182.7 L689.5,183.2 L693.5,182.5 L697.5,181.2 L701.5,181.5 L705.5,182.0 L709.5,182.0 L713.5,182.1 L717.5,182.3 L721.5,182.0 L725.5,182.2 L729.5,179.6 L733.5,175.7 L737.5,170.2 L741.5,161.1 L745.5,150.3 L749.5,140.7 L753.5,135.8 L757.5,132.9 L761.5,130.2 L765.5,125.6 L769.5,125.4 L773.5,129.8 L777.5,145.7 L781.5,156.0 L785.5,168.6 L789.5,175.6 L793.5,181.0 L797.5,183.7 L801.5,187.9 L805.5,192.0 L809.5,194.6 L813.5,192.5 L817.5,191.6 L821.5,190.2 L825.5,193.3 L829.5,198.1 L833.5,201.8 L837.5,202.5 L841.5,203.8 L845.5,206.3 L849.5,206.9 L853.5,204.5 L857.5,201.8 L861.5,205.2 L865.5,204.6 L869.5,205.1 L873.5,207.8 L877.5,208.8 L881.5,207.3 L885.5,203.9 L889.5,200.2 L893.5,196.1 L897.5,191.6 L901.5,185.8 L905.5,182.6 L909.5,179.4 L913.5,177.4 L917.5,176.7 L921.5,177.3 L925.5,178.4 L929.5,179.1 L933.5,180.6 L937.5,182.8 L941.5,182.9 L945.5,185.1 L949.5,189.8 L953.5,195.7 L957.5,197.9 L961.5,201.1 L965.5,204.5 L969.5,206.6 L973.5,211.9 L977.5,217.9 L981.5,223.3 L985.5,228.2 L989.5,234.4 L993.5,236.2 L997.5,240.0 L1001.5,242.6 L1005.5,243.3 L1009.5,243.9 L1013.5,244.6 L1017.5,244.3 L1021.5,244.9 L1025.5,245.0 L1029.5,245.8 L1033.5,246.4 L1037.5,247.5 L1041.5,255.6 L1045.5,262.1 L1049.5,272.4 L1053.5,279.6 L1057.5,287.3 L1061.5,302.2 L1065.5,320.0 L1069.5,335.6 L1073.5,347.2 L1077.5,355.1 L1081.5,360.4 L1085.5,365.1 L1089.5,372.0 L1093.5,379.9 L1097.5,391.2 L1101.5,407.2 L1105.5,425.4 L1109.5,445.2 L1113.5,450.7 L1117.5,456.7 L1121.5,462.7 L1125.5,472.6 L1129.5,478.7 L1133.5,478.3 L1137.5,476.9 L1141.5,476.8 L1145.5,472.2 L1149.5,458.8 L1153.5,447.9 L1157.5,440.1 L1161.5,434.0 L1165.5,427.9 L1169.5,426.0 L1173.5,423.3 L1177.5,427.3 L1181.5,432.6 L1185.5,435.9 L1189.5,444.0 L1193.5,452.0 L1197.5,456.5 L1201.5,457.6 L1205.5,459.7 L1209.5,461.2 L1213.5,458.7 L1217.5,455.3 L1221.5,453.2 L1225.5,448.8" fill="none" stroke="#1E90FF" stroke-width="1" shape-rendering="crispEdges"/><path d="M-2.5,396.3 L1.5,396.7 L5.5,397.1 L9.5,397.0 L13.5,398.6 L17.5,398.9 L21.5,393.3 L25.5,387.5 L29.5,383.7 L33.5,379.9 L37.5,376.2 L41.5,373.8 L45.5,372.0 L49.5,367.8 L53.5,363.7 L57.5,358.8 L61.5,352.9 L65.5,348.0 L69.5,337.4 L73.5,328.1 L77.5,319.5 L81.5,314.2 L85.5,310.1 L89.5,309.1 L93.5,312.0 L97.5,312.1 L101.5,312.9 L105.5,312.9 L109.5,306.0 L113.5,297.9 L117.5,289.4 L121.5,282.7 L125.5,278.8 L129.5,274.9 L133.5,270.5 L137.5,265.4 L141.5,254.2 L145.5,245.4 L149.5,236.6 L153.5,229.3 L157.5,225.7 L161.5,228.2 L165.5,226.0 L169.5,223.8 L173.5,222.6 L177.5,224.1 L181.5,222.7 L185.5,213.2 L189.5,200.8 L193.5,187.1 L197.5,176.1 L201.5,165.5 L205.5,157.2 L209.5,140.1 L213.5,116.9 L217.5,96.1 L221.5,85.6 L225.5,76.6 L229.5,82.9 L233.5,87.4 L237.5,104.9 L241.5,127.2 L245.5,150.0 L249.5,175.7 L253.5,208.3 L257.5,234.8 L261.5,268.9 L265.5,313.6 L269.5,332.8 L273.5,345.5 L277.5,359.1 L281.5,367.4 L285.5,362.1 L289.5,347.3 L293.5,330.8 L297.5,315.1 L301.5,304.3 L305.5,291.6 L309.5,274.2 L313.5,258.2 L317.5,248.7 L321.5,246.8 L325.5,251.2 L329.5,252.5 L333.5,266.9 L337.5,272.0 L341.5,279.5 L345.5,288.3 L349.5,293.8 L353.5,303.8 L357.5,308.4 L361.5,309.6 L365.5,306.5 L369.5,298.6 L373.5,290.0 L377.5,282.1 L381.5,271.7 L385.5,261.1 L389.5,256.4 L393.5,249.4 L397.5,242.4 L401.5,237.8 L405.5,236.4 L409.5,236.5 L413.5,235.1 L417.5,234.8 L421.5,236.8 L425.5,237.9 L429.5,236.2 L433.5,233.8 L437.5,228.8 L441.5,227.6 L445.5,225.2 L449.5,222.3 L453.5,221.9 L457.5,222.6 L461.5,222.6 L465.5,225.1 L469.5,236.2 L473.5,246.8 L477.5,250.1 L481.5,254.6 L485.5,259.4 L489.5,258.1 L493.5,254.2 L497.5,248.9 L501.5,247.8 L505.5,247.1 L509.5,246.3 L513.5,247.7 L517.5,248.3 L521.5,249.4 L525.5,252.6 L529.5,260.0 L533.5,265.6 L537.5,274.8 L541.5,279.2 L545.5,284.7 L549.5,286.6 L553.5,285.4 L557.5,285.1 L561.5,277.5 L565.5,271.7 L569.5,267.0 L573.5,263.7 L577.5,257.4 L581.5,255.0 L585.5,252.0 L589.5,252.0 L593.5,251.6 L597.5,250.1 L601.5,247.6 L605.5,244.7 L609.5,240.6 L613.5,235.6 L617.5,229.1 L621.5,217.7 L625.5,210.5 L629.5,203.5 L633.5,195.4 L637.5,188.0 L641.5,180.8 L645.5,178.7 L649.5,178.9 L653.5,179.8 L657.5,184.4 L661.5,186.0 L665.5,189.4 L669.5,188.6 L673.5,186.5 L677.5,185.7 L681.5,183.8 L685.5,180.8 L689.5,181.5 L693.5,181.0 L697.5,179.8 L701.5,181.2 L705.5,182.5 L709.5,182.6 L713.5,182.7 L717.5,182.7 L721.5,182.0 L725.5,182.2 L729.5,178.6 L733.5,173.6 L737.5,166.4 L741.5,155.0 L745.5,141.7 L749.5,130.6 L753.5,126.3 L757.5,125.1 L761.5,124.5 L765.5,121.2 L769.5,123.8 L773.5,131.9 L777.5,154.0 L781.5,166.8 L785.5,181.0 L789.5,187.2 L793.5,191.5 L797.5,192.2 L801.5,194.1 L805.5,195.4 L809.5,194.8 L813.5,190.6 L817.5,189.4 L821.5,189.0 L825.5,193.8 L829.5,200.6 L833.5,205.0 L837.5,205.2 L841.5,206.5 L845.5,209.5 L849.5,209.5 L853.5,204.9 L857.5,200.0 L861.5,203.9 L865.5,203.2 L869.5,204.7 L873.5,208.8 L877.5,210.2 L881.5,208.3 L885.5,204.0 L889.5,198.9 L893.5,192.8 L897.5,186.8 L901.5,179.6 L905.5,176.7 L909.5,174.2 L913.5,173.7 L917.5,174.9 L921.5,177.1 L925.5,179.5 L929.5,180.8 L933.5,182.6 L937.5,185.0 L941.5,184.4 L945.5,186.6 L949.5,192.2 L953.5,199.3 L957.5,201.4 L961.5,204.9 L965.5,208.6 L969.5,210.3 L973.5,216.1 L977.5,222.4 L981.5,227.9 L985.5,232.7 L989.5,240.0 L993.5,241.1 L997.5,244.8 L1001.5,246.4 L1005.5,245.5 L1009.5,244.8 L1013.5,244.7 L1017.5,243.9 L1021.5,244.4 L1025.5,244.9 L1029.5,245.9 L1033.5,247.0 L1037.5,248.5 L1041.5,259.2 L1045.5,267.3 L1049.5,279.9 L1053.5,288.1 L1057.5,296.4 L1061.5,314.0 L1065.5,334.7 L1069.5,351.4 L1073.5,361.9 L1077.5,367.7 L1081.5,370.2 L1085.5,373.0 L1089.5,378.3 L1093.5,384.7 L1097.5,396.4 L1101.5,415.7 L1105.5,438.9 L1109.5,463.5 L1113.5,467.5 L1117.5,471.1 L1121.5,473.8 L1125.5,481.4 L1129.5,484.2 L1133.5,479.3 L1137.5,474.7 L1141.5,474.2 L1145.5,469.9 L1149.5,453.4 L1153.5,439.8 L1157.5,429.8 L1161.5,423.6 L1165.5,418.6 L1169.5,419.4 L1173.5,418.7 L1177.5,426.9 L1181.5,436.7 L1185.5,442.0 L1189.5,451.9 L1193.5,460.2 L1197.5,463.9 L1201.5,462.8 L1205.5,463.4 L1209.5,462.9 L1213.5,457.9 L1217.5,452.6 L1221.5,449.6 L1225.5,444.2" fill="none" stroke="#1E90FF" stroke-width="1" shape-rendering="crispEdges"/><path d="M-2.5,396.7 L1.5,397.2 L5.5,397.7 L9.5,397.2 L13.5,399.5 L17.5,399.5 L21.5,390.9 L25.5,382.5 L29.5,378.1 L33.5,374.1 L37.5,371.3 L41.5,371.1 L45.5,371.0 L49.5,365.8 L53.5,360.2 L57.5,354.0 L61.5,346.7 L65.5,341.7 L69.5,329.0 L73.5,318.9 L77.5,310.1 L81.5,306.4 L85.5,304.4 L89.5,307.2 L93.5,314.3 L97.5,315.2 L101.5,315.3 L105.5,313.9 L109.5,302.1 L113.5,289.9 L117.5,279.4 L121.5,273.0 L125.5,271.9 L129.5,271.0 L133.5,268.1 L137.5,262.9 L141.5,246.9 L145.5,235.3 L149.5,225.4 L153.5,219.1 L157.5,219.3 L161.5,228.4 L165.5,227.6 L169.5,225.1 L173.5,222.4 L177.5,223.6 L181.5,220.5 L185.5,207.4 L189.5,191.0 L193.5,173.9 L197.5,161.2 L201.5,151.5 L205.5,147.0 L209.5,128.7 L213.5,100.2 L217.5,75.0 L221.5,66.7 L225.5,61.7 L229.5,81.2 L233.5,95.2 L237.5,123.1 L241.5,151.1 L245.5,175.6 L249.5,201.5 L253.5,238.4 L257.5,263.3 L261.5,300.7 L265.5,352.7 L269.5,364.6 L273.5,366.7 L277.5,372.9 L281.5,372.7 L285.5,356.7 L289.5,334.7 L293.5,314.5 L297.5,297.1 L301.5,287.1 L305.5,277.3 L309.5,261.3 L313.5,245.2 L317.5,236.7 L321.5,238.9 L325.5,250.7 L329.5,256.7 L333.5,279.9 L337.5,284.0 L341.5,289.1 L345.5,295.9 L349.5,299.4 L353.5,309.8 L357.5,314.7 L361.5,313.4 L365.5,306.9 L369.5,293.0 L373.5,279.7 L377.5,270.9 L381.5,260.0 L385.5,250.5 L389.5,249.6 L393.5,243.7 L397.5,236.7 L401.5,232.9 L405.5,233.5 L409.5,235.2 L413.5,234.7 L417.5,235.3 L421.5,238.7 L425.5,239.3 L429.5,235.8 L433.5,232.1 L437.5,224.9 L441.5,223.9 L445.5,221.7 L449.5,219.5 L453.5,221.1 L457.5,223.3 L461.5,223.3 L465.5,226.9 L469.5,243.0 L473.5,256.9 L477.5,258.7 L481.5,261.7 L485.5,264.6 L489.5,257.8 L493.5,249.8 L497.5,242.9 L501.5,243.6 L505.5,244.7 L509.5,245.6 L513.5,249.5 L517.5,250.9 L521.5,251.1 L525.5,254.5 L529.5,264.6 L533.5,271.5 L537.5,283.4 L541.5,286.9 L545.5,291.5 L549.5,290.0 L553.5,285.1 L557.5,282.9 L561.5,271.9 L565.5,264.6 L569.5,260.6 L573.5,258.7 L577.5,252.3 L581.5,252.1 L585.5,249.6 L589.5,251.1 L593.5,251.0 L597.5,249.8 L601.5,246.3 L605.5,242.4 L609.5,236.5 L613.5,230.4 L617.5,222.6 L621.5,208.5 L625.5,201.3 L629.5,194.9 L633.5,187.1 L637.5,180.7 L641.5,174.5 L645.5,174.6 L649.5,177.4 L653.5,180.5 L657.5,188.7 L661.5,190.5 L665.5,193.5 L669.5,189.9 L673.5,185.0 L677.5,183.0 L681.5,180.9 L685.5,177.5 L689.5,180.7 L693.5,181.1 L697.5,179.9 L701.5,182.0 L705.5,183.7 L709.5,183.1 L713.5,183.0 L717.5,182.8 L721.5,181.6 L725.5,181.8 L729.5,176.5 L733.5,169.7 L737.5,160.1 L741.5,144.9 L745.5,128.4 L749.5,117.1 L753.5,116.8 L757.5,121.0 L761.5,125.0 L765.5,122.7 L769.5,126.9 L773.5,136.9 L777.5,167.4 L781.5,182.8 L785.5,199.7 L789.5,201.3 L793.5,198.9 L797.5,191.2 L801.5,191.1 L805.5,192.9 L809.5,194.8 L813.5,189.6 L817.5,188.9 L821.5,187.8 L825.5,194.8 L829.5,205.1 L833.5,211.6 L837.5,210.1 L841.5,209.5 L845.5,210.6 L849.5,208.5 L853.5,201.5 L857.5,195.7 L861.5,203.3 L865.5,202.8 L869.5,205.8 L873.5,212.9 L877.5,214.3 L881.5,208.9 L885.5,201.1 L889.5,193.1 L893.5,185.3 L897.5,178.9 L901.5,172.3 L905.5,172.3 L909.5,171.6 L913.5,172.9 L917.5,176.0 L921.5,179.8 L925.5,182.5 L929.5,183.1 L933.5,184.5 L937.5,186.8 L941.5,184.8 L945.5,187.5 L949.5,195.7 L953.5,205.3 L957.5,206.5 L961.5,210.0 L965.5,212.7 L969.5,212.1 L973.5,218.6 L977.5,227.3 L981.5,234.2 L985.5,239.3 L989.5,247.3 L993.5,245.1 L997.5,247.5 L1001.5,247.6 L1005.5,245.1 L1009.5,243.5 L1013.5,243.9 L1017.5,242.9 L1021.5,244.5 L1025.5,245.3 L1029.5,247.1 L1033.5,248.4 L1037.5,250.0 L1041.5,265.3 L1045.5,275.7 L1049.5,291.9 L1053.5,300.1 L1057.5,307.2 L1061.5,326.9 L1065.5,351.5 L1069.5,369.3 L1073.5,378.4 L1077.5,379.2 L1081.5,374.5 L1085.5,372.1 L1089.5,377.5 L1093.5,387.9 L1097.5,406.2 L1101.5,433.4 L1105.5,462.5 L1109.5,490.2 L1113.5,484.6 L1117.5,478.9 L1121.5,473.9 L1125.5,479.9 L1129.5,482.9 L1133.5,478.8 L1137.5,474.1 L1141.5,473.6 L1145.5,465.0 L1149.5,441.3 L1153.5,425.4 L1157.5,416.2 L1161.5,412.5 L1165.5,411.3 L1169.5,419.5 L1173.5,421.7 L1177.5,434.0 L1181.5,445.6 L1185.5,450.1 L1189.5,461.1 L1193.5,469.5 L1197.5,469.7 L1201.5,464.2 L1205.5,462.9 L1209.5,460.9 L1213.5,453.3 L1217.5,447.0 L1221.5,445.6 L1225.5,439.5" fill="none" stroke="#6495ED" stroke-width="1" shape-rendering="crispEdges"/><path d="M-2.5,397.4 L1.5,398.1 L5.5,398.0 L9.5,396.7 L13.5,401.3 L17.5,400.7 L21.5,381.7 L25.5,370.3 L29.5,373.0 L33.5,373.0 L37.5,370.0 L41.5,370.3 L45.5,371.0 L49.5,361.0 L53.5,352.7 L57.5,347.0 L61.5,339.7 L65.5,337.0 L69.5,317.0 L73.5,305.7 L77.5,301.7 L81.5,304.0 L85.5,305.3 L89.5,310.3 L93.5,322.3 L97.5,317.7 L101.5,313.0 L105.5,311.0 L109.5,290.0 L113.5,274.7 L117.5,268.0 L121.5,268.0 L125.5,273.7 L129.5,272.0 L133.5,264.7 L137.5,256.0 L141.5,229.7 L145.5,220.0 L149.5,217.0 L153.5,215.0 L157.5,221.7 L161.5,239.0 L165.5,230.0 L169.5,218.7 L173.5,217.0 L177.5,225.0 L181.5,221.0 L185.5,193.0 L189.5,169.0 L193.5,154.3 L197.5,150.0 L201.5,145.3 L205.5,143.7 L209.5,111.3 L213.5,65.7 L217.5,44.3 L221.5,60.3 L225.5,66.7 L229.5,103.7 L233.5,115.7 L237.5,148.0 L241.5,182.7 L245.5,200.3 L249.5,226.3 L253.5,274.3 L257.5,293.0 L261.5,335.0 L265.5,407.3 L269.5,383.0 L273.5,354.7 L277.5,369.0 L281.5,375.7 L285.5,345.7 L289.5,305.7 L293.5,287.7 L297.5,281.7 L301.5,282.0 L305.5,271.0 L309.5,243.7 L313.5,225.0 L317.5,227.7 L321.5,245.7 L325.5,268.3 L329.5,266.0 L333.5,299.0 L337.5,292.7 L341.5,288.7 L345.5,301.7 L349.5,303.3 L353.5,321.3 L357.5,321.7 L361.5,309.7 L365.5,297.3 L369.5,276.3 L373.5,264.7 L377.5,263.0 L381.5,251.7 L385.5,240.7 L389.5,248.0 L393.5,241.0 L397.5,229.0 L401.5,227.3 L405.5,234.7 L409.5,240.0 L413.5,235.0 L417.5,234.0 L421.5,241.7 L425.5,241.7 L429.5,232.0 L433.5,226.0 L437.5,217.0 L441.5,222.3 L445.5,222.3 L449.5,217.3 L453.5,222.0 L457.5,226.3 L461.5,224.3 L465.5,229.7 L469.5,259.7 L473.5,276.3 L477.5,260.7 L481.5,258.0 L485.5,265.7 L489.5,253.3 L493.5,240.0 L497.5,233.7 L501.5,244.7 L505.5,250.3 L509.5,247.3 L513.5,252.0 L517.5,252.3 L521.5,251.0 L525.5,257.7 L529.5,275.7 L533.5,281.7 L537.5,294.3 L541.5,291.0 L545.5,292.7 L549.5,288.7 L553.5,278.3 L557.5,279.7 L561.5,262.0 L565.5,254.7 L569.5,257.3 L573.5,258.7 L577.5,247.7 L581.5,249.3 L585.5,248.3 L589.5,252.7 L593.5,252.7 L597.5,247.7 L601.5,242.0 L605.5,237.3 L609.5,230.7 L613.5,224.0 L617.5,214.7 L621.5,193.7 L625.5,191.7 L629.5,191.0 L633.5,181.0 L637.5,173.7 L641.5,167.3 L645.5,175.0 L649.5,183.3 L653.5,185.0 L657.5,196.3 L661.5,193.3 L665.5,194.3 L669.5,186.3 L673.5,177.7 L677.5,180.7 L681.5,180.3 L685.5,175.0 L689.5,183.0 L693.5,183.3 L697.5,178.3 L701.5,183.0 L705.5,186.0 L709.5,183.3 L713.5,182.0 L717.5,182.0 L721.5,180.7 L725.5,182.0 L729.5,171.7 L733.5,160.7 L737.5,149.3 L741.5,129.0 L745.5,110.3 L749.5,105.0 L753.5,119.0 L757.5,130.7 L761.5,131.0 L765.5,118.7 L769.5,127.0 L773.5,149.3 L777.5,202.3 L781.5,207.0 L785.5,210.0 L789.5,199.3 L793.5,190.3 L797.5,184.0 L801.5,190.3 L805.5,198.3 L809.5,198.0 L813.5,183.7 L817.5,184.3 L821.5,188.0 L825.5,203.3 L829.5,219.0 L833.5,219.0 L837.5,206.3 L841.5,204.3 L845.5,212.0 L849.5,209.0 L853.5,194.0 L857.5,186.7 L861.5,210.7 L865.5,209.0 L869.5,207.3 L873.5,218.7 L877.5,216.3 L881.5,203.0 L885.5,190.0 L889.5,183.3 L893.5,178.7 L897.5,173.7 L901.5,166.0 L905.5,171.7 L909.5,173.3 L913.5,174.7 L917.5,179.3 L921.5,183.7 L925.5,185.7 L929.5,183.3 L933.5,184.7 L937.5,189.3 L941.5,183.7 L945.5,188.7 L949.5,205.0 L953.5,217.7 L957.5,209.0 L961.5,209.0 L965.5,214.7 L969.5,212.7 L973.5,225.0 L977.5,238.0 L981.5,242.3 L985.5,243.7 L989.5,253.3 L993.5,244.0 L997.5,247.0 L1001.5,248.7 L1005.5,242.3 L1009.5,241.3 L1013.5,244.0 L1017.5,243.0 L1021.5,246.0 L1025.5,246.7 L1029.5,248.7 L1033.5,250.0 L1037.5,251.3 L1041.5,280.7 L1045.5,291.7 L1049.5,307.3 L1053.5,308.7 L1057.5,310.3 L1061.5,346.3 L1065.5,381.7 L1069.5,391.0 L1073.5,383.7 L1077.5,373.3 L1081.5,366.7 L1085.5,369.7 L1089.5,385.3 L1093.5,402.0 L1097.5,426.3 L1101.5,462.7 L1105.5,494.7 L1109.5,518.7 L1113.5,477.3 L1117.5,459.0 L1121.5,466.7 L1125.5,490.3 L1129.5,494.3 L1133.5,472.3 L1137.5,463.0 L1141.5,471.7 L1145.5,460.7 L1149.5,416.3 L1153.5,401.3 L1157.5,408.3 L1161.5,415.0 L1165.5,414.3 L1169.5,426.3 L1173.5,425.7 L1177.5,444.7 L1181.5,460.7 L1185.5,455.0 L1189.5,469.0 L1193.5,478.7 L1197.5,470.3 L1201.5,456.0 L1205.5,457.7 L1209.5,461.0 L1213.5,447.7 L1217.5,438.3 L1221.5,443.0 L1225.5,436.0" fill="none" stroke="#6495ED" stroke-width="1" shape-rendering="crispEdges"/><path d="M-2.5,405.3 L1.5,404.8 L5.5,404.4 L9.5,404.0 L13.5,403.9 L17.5,403.6 L21.5,402.3 L25.5,400.9 L29.5,399.7 L33.5,398.5 L37.5,397.2 L41.5,396.1 L45.5,394.9 L49.5,393.3 L53.5,391.4 L57.5,389.4 L61.5,387.1 L65.5,384.9 L69.5,381.6 L73.5,378.3 L77.5,374.9 L81.5,371.8 L85.5,368.7 L89.5,366.1 L93.5,364.0 L97.5,361.5 L101.5,359.0 L105.5,356.1 L109.5,352.2 L113.5,348.0 L117.5,343.7 L121.5,339.7 L125.5,336.0 L129.5,332.2 L133.5,328.2 L137.5,323.9 L141.5,318.4 L145.5,313.2 L149.5,307.8 L153.5,302.6 L157.5,298.0 L161.5,294.3 L165.5,289.7 L169.5,285.2 L173.5,280.7 L177.5,276.9 L181.5,272.7 L185.5,267.3 L189.5,261.3 L193.5,255.0 L197.5,248.9 L201.5,242.9 L205.5,237.6 L209.5,230.6 L213.5,222.0 L217.5,213.4 L221.5,206.2 L225.5,199.0 L229.5,194.3 L233.5,189.4 L237.5,186.8 L241.5,185.4 L245.5,184.6 L249.5,185.2 L253.5,188.1 L257.5,190.9 L261.5,196.4 L265.5,204.8 L269.5,210.1 L273.5,215.3 L277.5,221.4 L281.5,227.3 L285.5,231.4 L289.5,234.1 L293.5,236.4 L297.5,238.6 L301.5,240.8 L305.5,242.2 L309.5,242.5 L313.5,242.3 L317.5,242.5 L321.5,243.6 L325.5,245.6 L329.5,247.1 L333.5,250.8 L337.5,252.9 L341.5,255.6 L345.5,258.6 L349.5,261.5 L353.5,265.4 L357.5,268.7 L361.5,271.5 L365.5,273.8 L369.5,275.0 L373.5,275.9 L377.5,276.9 L381.5,277.0 L385.5,276.6 L389.5,276.8 L393.5,276.2 L397.5,275.1 L401.5,274.1 L405.5,273.4 L409.5,272.8 L413.5,271.7 L417.5,270.6 L421.5,269.7 L425.5,268.5 L429.5,266.7 L433.5,264.7 L437.5,262.1 L441.5,260.1 L445.5,257.7 L449.5,255.2 L453.5,253.1 L457.5,251.0 L461.5,248.9 L465.5,247.3 L469.5,247.6 L473.5,248.1 L477.5,247.7 L481.5,247.7 L485.5,248.1 L489.5,247.7 L493.5,247.0 L497.5,246.1 L501.5,246.1 L505.5,246.2 L509.5,246.3 L513.5,246.6 L517.5,246.8 L521.5,247.0 L525.5,247.5 L529.5,248.5 L533.5,249.3 L537.5,251.0 L541.5,252.0 L545.5,253.5 L549.5,254.5 L553.5,255.1 L557.5,256.1 L561.5,256.0 L565.5,256.3 L569.5,256.8 L573.5,257.2 L577.5,257.0 L581.5,257.3 L585.5,257.2 L589.5,257.6 L593.5,257.7 L597.5,257.7 L601.5,257.4 L605.5,257.1 L609.5,256.5 L613.5,255.6 L617.5,254.3 L621.5,252.0 L625.5,249.7 L629.5,247.3 L633.5,244.4 L637.5,241.4 L641.5,238.1 L645.5,235.4 L649.5,233.0 L653.5,230.6 L657.5,228.9 L661.5,226.6 L665.5,224.7 L669.5,222.2 L673.5,219.5 L677.5,217.2 L681.5,214.8 L685.5,212.2 L689.5,210.3 L693.5,208.1 L697.5,205.8 L701.5,204.0 L705.5,202.2 L709.5,200.2 L713.5,198.7 L717.5,197.2 L721.5,195.7 L725.5,194.3 L729.5,192.4 L733.5,190.2 L737.5,187.7 L741.5,184.3 L745.5,180.4 L749.5,176.6 L753.5,173.9 L757.5,171.5 L761.5,169.0 L765.5,165.7 L769.5,163.3 L773.5,162.1 L777.5,163.8 L781.5,164.5 L785.5,165.9 L789.5,166.3 L793.5,166.8 L797.5,167.0 L801.5,167.7 L805.5,168.7 L809.5,169.6 L813.5,169.8 L817.5,170.4 L821.5,171.1 L825.5,172.6 L829.5,174.7 L833.5,176.4 L837.5,177.5 L841.5,178.8 L845.5,180.4 L849.5,181.6 L853.5,182.1 L857.5,182.5 L861.5,184.3 L865.5,185.3 L869.5,186.5 L873.5,188.3 L877.5,189.6 L881.5,190.3 L885.5,190.7 L889.5,191.0 L893.5,191.0 L897.5,190.9 L901.5,190.4 L905.5,190.4 L909.5,190.3 L913.5,190.3 L917.5,190.6 L921.5,191.0 L925.5,191.4 L929.5,191.7 L933.5,192.1 L937.5,192.7 L941.5,192.6 L945.5,192.5 L949.5,193.0 L953.5,193.8 L957.5,193.9 L961.5,194.3 L965.5,194.7 L969.5,194.9 L973.5,196.3 L977.5,198.0 L981.5,199.8 L985.5,201.6 L989.5,203.9 L993.5,205.3 L997.5,207.3 L1001.5,209.1 L1005.5,210.5 L1009.5,212.0 L1013.5,213.5 L1017.5,214.9 L1021.5,216.5 L1025.5,217.9 L1029.5,219.5 L1033.5,221.1 L1037.5,222.7 L1041.5,226.2 L1045.5,229.4 L1049.5,233.6 L1053.5,237.3 L1057.5,241.2 L1061.5,246.9 L1065.5,253.7 L1069.5,260.2 L1073.5,266.3 L1077.5,271.8 L1081.5,276.9 L1085.5,282.0 L1089.5,287.8 L1093.5,294.0 L1097.5,301.2 L1101.5,309.8 L1105.5,319.1 L1109.5,329.1 L1113.5,335.2 L1117.5,341.2 L1121.5,347.7 L1125.5,356.1 L1129.5,363.8 L1133.5,370.2 L1137.5,376.4 L1141.5,382.8 L1145.5,388.1 L1149.5,390.9 L1153.5,393.6 L1157.5,396.6 L1161.5,399.6 L1165.5,402.3 L1169.5,405.3 L1173.5,407.5 L1177.5,410.9 L1181.5,414.4 L1185.5,417.2 L1189.5,421.0 L1193.5,424.6 L1197.5,427.5 L1201.5,429.7 L1205.5,432.5 L1209.5,435.2 L1213.5,437.0 L1217.5,438.4 L1221.5,440.1 L1225.5,441.0" fill="none" stroke="#191970" stroke-width="4.5" stroke-linejoin="round" shape-rendering="crispEdges"/><g shape-rendering="crispEdges"><rect x="1" y="393" width="1" height="7" fill="#8B0000"/><rect x="0" y="397" width="3" height="1" fill="#8B0000"/><rect x="5" y="392" width="1" height="6" fill="#8B0000"/><rect x="4" y="397" width="3" height="1" fill="#8B0000"/><rect x="9" y="394" width="1" height="12" fill="#8B0000"/><rect x="8" y="395" width="3" height="3" fill="#8B0000"/><rect x="9" y="396" width="1" height="1" fill="#FF0000"/><rect x="13" y="389" width="1" height="30" fill="#2F4F4F"/><rect x="12" y="395" width="3" height="9" fill="#2F4F4F"/><rect x="13" y="396" width="1" height="7" fill="#90EE90"/><rect x="17" y="398" width="1" height="14" fill="#8B0000"/><rect x="16" y="398" width="3" height="6" fill="#8B0000"/><rect x="17" y="399" width="1" height="4" fill="#FF0000"/><rect x="21" y="364" width="1" height="16" fill="#8B0000"/><rect x="20" y="372" width="3" height="8" fill="#8B0000"/><rect x="21" y="373" width="1" height="6" fill="#FF0000"/><rect x="25" y="367" width="1" height="11" fill="#8B0000"/><rect x="24" y="368" width="3" height="5" fill="#8B0000"/><rect x="25" y="369" width="1" height="3" fill="#FF0000"/><rect x="29" y="363" width="1" height="13" fill="#2F4F4F"/><rect x="28" y="368" width="3" height="7" fill="#2F4F4F"/><rect x="29" y="369" width="1" height="5" fill="#90EE90"/><rect x="33" y="368" width="1" height="8" fill="#8B0000"/><rect x="32" y="371" width="3" height="4" fill="#8B0000"/><rect x="33" y="372" width="1" height="2" fill="#FF0000"/><rect x="37" y="360" width="1" height="17" fill="#8B0000"/><rect x="36" y="368" width="3" height="4" fill="#8B0000"/><rect x="37" y="369" width="1" height="2" fill="#FF0000"/><rect x="41" y="368" width="1" height="4" fill="#2F4F4F"/><rect x="40" y="368" width="3" height="3" fill="#2F4F4F"/><rect x="41" y="369" width="1" height="1" fill="#90EE90"/><rect x="45" y="367" width="1" height="4" fill="#8B0000"/><rect x="44" y="370" width="3" height="1" fill="#8B0000"/><rect x="49" y="350" width="1" height="21" fill="#8B0000"/><rect x="48" y="355" width="3" height="16" fill="#8B0000"/><rect x="49" y="356" width="1" height="14" fill="#FF0000"/><rect x="53" y="347" width="1" height="9" fill="#8B0000"/><rect x="52" y="350" width="3" height="6" fill="#8B0000"/><rect x="53" y="351" width="1" height="4" fill="#FF0000"/><rect x="57" y="336" width="1" height="17" fill="#8B0000"/><rect x="56" y="344" width="3" height="7" fill="#8B0000"/><rect x="57" y="345" width="1" height="5" fill="#FF0000"/><rect x="61" y="333" width="1" height="17" fill="#8B0000"/><rect x="60" y="336" width="3" height="9" fill="#8B0000"/><rect x="61" y="337" width="1" height="7" fill="#FF0000"/><rect x="65" y="334" width="1" height="11" fill="#8B0000"/><rect x="64" y="336" width="3" height="1" fill="#8B0000"/><rect x="69" y="305" width="1" height="35" fill="#8B0000"/><rect x="68" y="306" width="3" height="31" fill="#8B0000"/><rect x="69" y="307" width="1" height="29" fill="#FF0000"/><rect x="73" y="290" width="1" height="19" fill="#8B0000"/><rect x="72" y="304" width="3" height="3" fill="#8B0000"/><rect x="73" y="305" width="1" height="1" fill="#FF0000"/><rect x="77" y="298" width="1" height="10" fill="#8B0000"/><rect x="76" y="299" width="3" height="6" fill="#8B0000"/><rect x="77" y="300" width="1" height="4" fill="#FF0000"/><rect x="81" y="295" width="1" height="12" fill="#2F4F4F"/><rect x="80" y="299" width="3" height="7" fill="#2F4F4F"/><rect x="81" y="300" width="1" height="5" fill="#90EE90"/><rect x="85" y="296" width="1" height="11" fill="#8B0000"/><rect x="84" y="304" width="3" height="2" fill="#8B0000"/><rect x="89" y="304" width="1" height="36" fill="#2F4F4F"/><rect x="88" y="304" width="3" height="9" fill="#2F4F4F"/><rect x="89" y="305" width="1" height="7" fill="#90EE90"/><rect x="93" y="306" width="1" height="29" fill="#2F4F4F"/><rect x="92" y="312" width="3" height="15" fill="#2F4F4F"/><rect x="93" y="313" width="1" height="13" fill="#90EE90"/><rect x="97" y="307" width="1" height="24" fill="#8B0000"/><rect x="96" y="312" width="3" height="15" fill="#8B0000"/><rect x="97" y="313" width="1" height="13" fill="#FF0000"/><rect x="101" y="306" width="1" height="13" fill="#8B0000"/><rect x="100" y="312" width="3" height="1" fill="#8B0000"/><rect x="105" y="305" width="1" height="11" fill="#8B0000"/><rect x="104" y="309" width="3" height="4" fill="#8B0000"/><rect x="105" y="310" width="1" height="2" fill="#FF0000"/><rect x="109" y="276" width="1" height="36" fill="#8B0000"/><rect x="108" y="279" width="3" height="31" fill="#8B0000"/><rect x="109" y="280" width="1" height="29" fill="#FF0000"/><rect x="113" y="268" width="1" height="13" fill="#8B0000"/><rect x="112" y="271" width="3" height="9" fill="#8B0000"/><rect x="113" y="272" width="1" height="7" fill="#FF0000"/><rect x="117" y="262" width="1" height="18" fill="#8B0000"/><rect x="116" y="265" width="3" height="7" fill="#8B0000"/><rect x="117" y="266" width="1" height="5" fill="#FF0000"/><rect x="121" y="259" width="1" height="14" fill="#2F4F4F"/><rect x="120" y="265" width="3" height="4" fill="#2F4F4F"/><rect x="121" y="266" width="1" height="2" fill="#90EE90"/><rect x="125" y="262" width="1" height="17" fill="#2F4F4F"/><rect x="124" y="268" width="3" height="8" fill="#2F4F4F"/><rect x="125" y="269" width="1" height="6" fill="#90EE90"/><rect x="129" y="268" width="1" height="9" fill="#8B0000"/><rect x="128" y="269" width="3" height="7" fill="#8B0000"/><rect x="129" y="270" width="1" height="5" fill="#FF0000"/><rect x="133" y="253" width="1" height="22" fill="#8B0000"/><rect x="132" y="261" width="3" height="9" fill="#8B0000"/><rect x="133" y="262" width="1" height="7" fill="#FF0000"/><rect x="137" y="250" width="1" height="16" fill="#8B0000"/><rect x="136" y="252" width="3" height="10" fill="#8B0000"/><rect x="137" y="253" width="1" height="8" fill="#FF0000"/><rect x="141" y="215" width="1" height="44" fill="#8B0000"/><rect x="140" y="217" width="3" height="36" fill="#8B0000"/><rect x="141" y="218" width="1" height="34" fill="#FF0000"/><rect x="145" y="212" width="1" height="9" fill="#2F4F4F"/><rect x="144" y="217" width="3" height="4" fill="#2F4F4F"/><rect x="145" y="218" width="1" height="2" fill="#90EE90"/><rect x="149" y="213" width="1" height="16" fill="#8B0000"/><rect x="148" y="214" width="3" height="7" fill="#8B0000"/><rect x="149" y="215" width="1" height="5" fill="#FF0000"/><rect x="153" y="210" width="1" height="9" fill="#8B0000"/><rect x="152" y="214" width="3" height="1" fill="#8B0000"/><rect x="157" y="210" width="1" height="21" fill="#2F4F4F"/><rect x="156" y="214" width="3" height="11" fill="#2F4F4F"/><rect x="157" y="215" width="1" height="9" fill="#90EE90"/><rect x="161" y="218" width="1" height="29" fill="#2F4F4F"/><rect x="160" y="224" width="3" height="22" fill="#2F4F4F"/><rect x="161" y="225" width="1" height="20" fill="#90EE90"/><rect x="165" y="220" width="1" height="29" fill="#8B0000"/><rect x="164" y="221" width="3" height="25" fill="#8B0000"/><rect x="165" y="222" width="1" height="23" fill="#FF0000"/><rect x="169" y="210" width="1" height="13" fill="#8B0000"/><rect x="168" y="216" width="3" height="6" fill="#8B0000"/><rect x="169" y="217" width="1" height="4" fill="#FF0000"/><rect x="173" y="216" width="1" height="4" fill="#8B0000"/><rect x="172" y="216" width="3" height="1" fill="#8B0000"/><rect x="177" y="210" width="1" height="22" fill="#2F4F4F"/><rect x="176" y="216" width="3" height="13" fill="#2F4F4F"/><rect x="177" y="217" width="1" height="11" fill="#90EE90"/><rect x="181" y="211" width="1" height="22" fill="#8B0000"/><rect x="180" y="216" width="3" height="13" fill="#8B0000"/><rect x="181" y="217" width="1" height="11" fill="#FF0000"/><rect x="185" y="180" width="1" height="43" fill="#8B0000"/><rect x="184" y="180" width="3" height="37" fill="#8B0000"/><rect x="185" y="181" width="1" height="35" fill="#FF0000"/><rect x="189" y="158" width="1" height="25" fill="#8B0000"/><rect x="188" y="162" width="3" height="19" fill="#8B0000"/><rect x="189" y="163" width="1" height="17" fill="#FF0000"/><rect x="193" y="148" width="1" height="21" fill="#8B0000"/><rect x="192" y="149" width="3" height="14" fill="#8B0000"/><rect x="193" y="150" width="1" height="12" fill="#FF0000"/><rect x="197" y="149" width="1" height="4" fill="#8B0000"/><rect x="196" y="149" width="3" height="1" fill="#8B0000"/><rect x="201" y="139" width="1" height="13" fill="#8B0000"/><rect x="200" y="142" width="3" height="8" fill="#8B0000"/><rect x="201" y="143" width="1" height="6" fill="#FF0000"/><rect x="205" y="127" width="1" height="34" fill="#2F4F4F"/><rect x="204" y="142" width="3" height="2" fill="#2F4F4F"/><rect x="209" y="89" width="1" height="61" fill="#8B0000"/><rect x="208" y="94" width="3" height="50" fill="#8B0000"/><rect x="209" y="95" width="1" height="48" fill="#FF0000"/><rect x="213" y="26" width="1" height="63" fill="#8B0000"/><rect x="212" y="50" width="3" height="37" fill="#8B0000"/><rect x="213" y="51" width="1" height="35" fill="#FF0000"/><rect x="217" y="26" width="1" height="30" fill="#8B0000"/><rect x="216" y="40" width="3" height="11" fill="#8B0000"/><rect x="217" y="41" width="1" height="9" fill="#FF0000"/><rect x="221" y="32" width="1" height="41" fill="#2F4F4F"/><rect x="220" y="40" width="3" height="30" fill="#2F4F4F"/><rect x="221" y="41" width="1" height="28" fill="#90EE90"/><rect x="225" y="45" width="1" height="31" fill="#8B0000"/><rect x="224" y="64" width="3" height="6" fill="#8B0000"/><rect x="225" y="65" width="1" height="4" fill="#FF0000"/><rect x="229" y="56" width="1" height="70" fill="#2F4F4F"/><rect x="228" y="64" width="3" height="59" fill="#2F4F4F"/><rect x="229" y="65" width="1" height="57" fill="#90EE90"/><rect x="233" y="106" width="1" height="39" fill="#8B0000"/><rect x="232" y="111" width="3" height="12" fill="#8B0000"/><rect x="233" y="112" width="1" height="10" fill="#FF0000"/><rect x="237" y="81" width="1" height="88" fill="#2F4F4F"/><rect x="236" y="94" width="3" height="72" fill="#2F4F4F"/><rect x="237" y="95" width="1" height="70" fill="#90EE90"/><rect x="241" y="163" width="1" height="29" fill="#2F4F4F"/><rect x="240" y="165" width="3" height="26" fill="#2F4F4F"/><rect x="241" y="166" width="1" height="24" fill="#90EE90"/><rect x="245" y="188" width="1" height="83" fill="#2F4F4F"/><rect x="244" y="190" width="3" height="15" fill="#2F4F4F"/><rect x="245" y="191" width="1" height="13" fill="#90EE90"/><rect x="249" y="201" width="1" height="39" fill="#2F4F4F"/><rect x="248" y="204" width="3" height="33" fill="#2F4F4F"/><rect x="249" y="205" width="1" height="31" fill="#90EE90"/><rect x="253" y="236" width="1" height="133" fill="#2F4F4F"/><rect x="252" y="236" width="3" height="57" fill="#2F4F4F"/><rect x="253" y="237" width="1" height="55" fill="#90EE90"/><rect x="257" y="268" width="1" height="52" fill="#8B0000"/><rect x="256" y="292" width="3" height="1" fill="#8B0000"/><rect x="261" y="332" width="1" height="73" fill="#2F4F4F"/><rect x="260" y="335" width="3" height="21" fill="#2F4F4F"/><rect x="261" y="336" width="1" height="19" fill="#90EE90"/><rect x="265" y="353" width="1" height="119" fill="#2F4F4F"/><rect x="264" y="355" width="3" height="78" fill="#2F4F4F"/><rect x="265" y="356" width="1" height="76" fill="#90EE90"/><rect x="269" y="347" width="1" height="93" fill="#8B0000"/><rect x="268" y="357" width="3" height="76" fill="#8B0000"/><rect x="269" y="358" width="1" height="74" fill="#FF0000"/><rect x="273" y="318" width="1" height="42" fill="#8B0000"/><rect x="272" y="352" width="3" height="6" fill="#8B0000"/><rect x="273" y="353" width="1" height="4" fill="#FF0000"/><rect x="277" y="344" width="1" height="55" fill="#2F4F4F"/><rect x="276" y="352" width="3" height="25" fill="#2F4F4F"/><rect x="277" y="353" width="1" height="23" fill="#90EE90"/><rect x="281" y="368" width="1" height="17" fill="#8B0000"/><rect x="280" y="374" width="3" height="3" fill="#8B0000"/><rect x="281" y="375" width="1" height="1" fill="#FF0000"/><rect x="285" y="325" width="1" height="55" fill="#8B0000"/><rect x="284" y="330" width="3" height="45" fill="#8B0000"/><rect x="285" y="331" width="1" height="43" fill="#FF0000"/><rect x="289" y="287" width="1" height="49" fill="#8B0000"/><rect x="288" y="292" width="3" height="39" fill="#8B0000"/><rect x="289" y="293" width="1" height="37" fill="#FF0000"/><rect x="293" y="283" width="1" height="16" fill="#8B0000"/><rect x="292" y="284" width="3" height="9" fill="#8B0000"/><rect x="293" y="285" width="1" height="7" fill="#FF0000"/><rect x="297" y="274" width="1" height="11" fill="#8B0000"/><rect x="296" y="279" width="3" height="6" fill="#8B0000"/><rect x="297" y="280" width="1" height="4" fill="#FF0000"/><rect x="301" y="276" width="1" height="8" fill="#2F4F4F"/><rect x="300" y="279" width="3" height="4" fill="#2F4F4F"/><rect x="301" y="280" width="1" height="2" fill="#90EE90"/><rect x="305" y="261" width="1" height="28" fill="#8B0000"/><rect x="304" y="264" width="3" height="19" fill="#8B0000"/><rect x="305" y="265" width="1" height="17" fill="#FF0000"/><rect x="309" y="230" width="1" height="36" fill="#8B0000"/><rect x="308" y="232" width="3" height="33" fill="#8B0000"/><rect x="309" y="233" width="1" height="31" fill="#FF0000"/><rect x="313" y="216" width="1" height="17" fill="#8B0000"/><rect x="312" y="220" width="3" height="13" fill="#8B0000"/><rect x="313" y="221" width="1" height="11" fill="#FF0000"/><rect x="317" y="219" width="1" height="12" fill="#2F4F4F"/><rect x="316" y="220" width="3" height="11" fill="#2F4F4F"/><rect x="317" y="221" width="1" height="9" fill="#90EE90"/><rect x="321" y="228" width="1" height="33" fill="#2F4F4F"/><rect x="320" y="230" width="3" height="23" fill="#2F4F4F"/><rect x="321" y="231" width="1" height="21" fill="#90EE90"/><rect x="325" y="251" width="1" height="29" fill="#2F4F4F"/><rect x="324" y="252" width="3" height="24" fill="#2F4F4F"/><rect x="325" y="253" width="1" height="22" fill="#90EE90"/><rect x="329" y="260" width="1" height="17" fill="#8B0000"/><rect x="328" y="260" width="3" height="16" fill="#8B0000"/><rect x="329" y="261" width="1" height="14" fill="#FF0000"/><rect x="333" y="257" width="1" height="66" fill="#2F4F4F"/><rect x="332" y="260" width="3" height="58" fill="#2F4F4F"/><rect x="333" y="261" width="1" height="56" fill="#90EE90"/><rect x="337" y="277" width="1" height="44" fill="#8B0000"/><rect x="336" y="279" width="3" height="39" fill="#8B0000"/><rect x="337" y="280" width="1" height="37" fill="#FF0000"/><rect x="341" y="275" width="1" height="22" fill="#2F4F4F"/><rect x="340" y="279" width="3" height="14" fill="#2F4F4F"/><rect x="341" y="280" width="1" height="12" fill="#90EE90"/><rect x="345" y="286" width="1" height="21" fill="#2F4F4F"/><rect x="344" y="292" width="3" height="14" fill="#2F4F4F"/><rect x="345" y="293" width="1" height="12" fill="#90EE90"/><rect x="349" y="300" width="1" height="12" fill="#8B0000"/><rect x="348" y="301" width="3" height="5" fill="#8B0000"/><rect x="349" y="302" width="1" height="3" fill="#FF0000"/><rect x="353" y="295" width="1" height="42" fill="#2F4F4F"/><rect x="352" y="301" width="3" height="30" fill="#2F4F4F"/><rect x="353" y="302" width="1" height="28" fill="#90EE90"/><rect x="357" y="310" width="1" height="67" fill="#8B0000"/><rect x="356" y="316" width="3" height="15" fill="#8B0000"/><rect x="357" y="317" width="1" height="13" fill="#FF0000"/><rect x="361" y="304" width="1" height="15" fill="#8B0000"/><rect x="360" y="305" width="3" height="12" fill="#8B0000"/><rect x="361" y="306" width="1" height="10" fill="#FF0000"/><rect x="365" y="291" width="1" height="19" fill="#8B0000"/><rect x="364" y="292" width="3" height="14" fill="#8B0000"/><rect x="365" y="293" width="1" height="12" fill="#FF0000"/><rect x="369" y="264" width="1" height="35" fill="#8B0000"/><rect x="368" y="267" width="3" height="26" fill="#8B0000"/><rect x="369" y="268" width="1" height="24" fill="#FF0000"/><rect x="373" y="260" width="1" height="16" fill="#8B0000"/><rect x="372" y="262" width="3" height="6" fill="#8B0000"/><rect x="373" y="263" width="1" height="4" fill="#FF0000"/><rect x="377" y="262" width="1" height="4" fill="#8B0000"/><rect x="376" y="262" width="3" height="1" fill="#8B0000"/><rect x="381" y="237" width="1" height="30" fill="#8B0000"/><rect x="380" y="245" width="3" height="18" fill="#8B0000"/><rect x="381" y="246" width="1" height="16" fill="#FF0000"/><rect x="385" y="235" width="1" height="19" fill="#8B0000"/><rect x="384" y="237" width="3" height="9" fill="#8B0000"/><rect x="385" y="238" width="1" height="7" fill="#FF0000"/><rect x="389" y="237" width="1" height="24" fill="#2F4F4F"/><rect x="388" y="237" width="3" height="16" fill="#2F4F4F"/><rect x="389" y="238" width="1" height="14" fill="#90EE90"/><rect x="393" y="231" width="1" height="23" fill="#8B0000"/><rect x="392" y="234" width="3" height="19" fill="#8B0000"/><rect x="393" y="235" width="1" height="17" fill="#FF0000"/><rect x="397" y="222" width="1" height="21" fill="#8B0000"/><rect x="396" y="225" width="3" height="10" fill="#8B0000"/><rect x="397" y="226" width="1" height="8" fill="#FF0000"/><rect x="401" y="221" width="1" height="9" fill="#2F4F4F"/><rect x="400" y="225" width="3" height="3" fill="#2F4F4F"/><rect x="401" y="226" width="1" height="1" fill="#90EE90"/><rect x="405" y="223" width="1" height="18" fill="#2F4F4F"/><rect x="404" y="227" width="3" height="11" fill="#2F4F4F"/><rect x="405" y="228" width="1" height="9" fill="#90EE90"/><rect x="409" y="229" width="1" height="20" fill="#2F4F4F"/><rect x="408" y="237" width="3" height="4" fill="#2F4F4F"/><rect x="409" y="238" width="1" height="2" fill="#90EE90"/><rect x="413" y="223" width="1" height="22" fill="#8B0000"/><rect x="412" y="231" width="3" height="10" fill="#8B0000"/><rect x="413" y="232" width="1" height="8" fill="#FF0000"/><rect x="417" y="228" width="1" height="10" fill="#2F4F4F"/><rect x="416" y="231" width="3" height="4" fill="#2F4F4F"/><rect x="417" y="232" width="1" height="2" fill="#90EE90"/><rect x="421" y="231" width="1" height="19" fill="#2F4F4F"/><rect x="420" y="234" width="3" height="11" fill="#2F4F4F"/><rect x="421" y="235" width="1" height="9" fill="#90EE90"/><rect x="425" y="236" width="1" height="12" fill="#8B0000"/><rect x="424" y="239" width="3" height="6" fill="#8B0000"/><rect x="425" y="240" width="1" height="4" fill="#FF0000"/><rect x="429" y="219" width="1" height="27" fill="#8B0000"/><rect x="428" y="227" width="3" height="13" fill="#8B0000"/><rect x="429" y="228" width="1" height="11" fill="#FF0000"/><rect x="433" y="220" width="1" height="8" fill="#8B0000"/><rect x="432" y="224" width="3" height="4" fill="#8B0000"/><rect x="433" y="225" width="1" height="2" fill="#FF0000"/><rect x="437" y="212" width="1" height="16" fill="#8B0000"/><rect x="436" y="212" width="3" height="13" fill="#8B0000"/><rect x="437" y="213" width="1" height="11" fill="#FF0000"/><rect x="441" y="205" width="1" height="25" fill="#2F4F4F"/><rect x="440" y="212" width="3" height="15" fill="#2F4F4F"/><rect x="441" y="213" width="1" height="13" fill="#90EE90"/><rect x="445" y="216" width="1" height="15" fill="#8B0000"/><rect x="444" y="219" width="3" height="8" fill="#8B0000"/><rect x="445" y="220" width="1" height="6" fill="#FF0000"/><rect x="449" y="209" width="1" height="15" fill="#8B0000"/><rect x="448" y="215" width="3" height="5" fill="#8B0000"/><rect x="449" y="216" width="1" height="3" fill="#FF0000"/><rect x="453" y="211" width="1" height="15" fill="#2F4F4F"/><rect x="452" y="215" width="3" height="10" fill="#2F4F4F"/><rect x="453" y="216" width="1" height="8" fill="#90EE90"/><rect x="457" y="221" width="1" height="7" fill="#2F4F4F"/><rect x="456" y="224" width="3" height="3" fill="#2F4F4F"/><rect x="457" y="225" width="1" height="1" fill="#90EE90"/><rect x="461" y="219" width="1" height="14" fill="#8B0000"/><rect x="460" y="222" width="3" height="5" fill="#8B0000"/><rect x="461" y="223" width="1" height="3" fill="#FF0000"/><rect x="465" y="219" width="1" height="18" fill="#2F4F4F"/><rect x="464" y="222" width="3" height="11" fill="#2F4F4F"/><rect x="465" y="223" width="1" height="9" fill="#90EE90"/><rect x="469" y="229" width="1" height="64" fill="#2F4F4F"/><rect x="468" y="232" width="3" height="41" fill="#2F4F4F"/><rect x="469" y="233" width="1" height="39" fill="#90EE90"/><rect x="473" y="272" width="1" height="12" fill="#2F4F4F"/><rect x="472" y="272" width="3" height="6" fill="#2F4F4F"/><rect x="473" y="273" width="1" height="4" fill="#90EE90"/><rect x="477" y="247" width="1" height="44" fill="#8B0000"/><rect x="476" y="251" width="3" height="27" fill="#8B0000"/><rect x="477" y="252" width="1" height="25" fill="#FF0000"/><rect x="481" y="250" width="1" height="16" fill="#2F4F4F"/><rect x="480" y="251" width="3" height="10" fill="#2F4F4F"/><rect x="481" y="252" width="1" height="8" fill="#90EE90"/><rect x="485" y="257" width="1" height="17" fill="#2F4F4F"/><rect x="484" y="260" width="3" height="8" fill="#2F4F4F"/><rect x="485" y="261" width="1" height="6" fill="#90EE90"/><rect x="489" y="243" width="1" height="30" fill="#8B0000"/><rect x="488" y="245" width="3" height="23" fill="#8B0000"/><rect x="489" y="246" width="1" height="21" fill="#FF0000"/><rect x="493" y="232" width="1" height="15" fill="#8B0000"/><rect x="492" y="236" width="3" height="10" fill="#8B0000"/><rect x="493" y="237" width="1" height="8" fill="#FF0000"/><rect x="497" y="226" width="1" height="17" fill="#8B0000"/><rect x="496" y="231" width="3" height="6" fill="#8B0000"/><rect x="497" y="232" width="1" height="4" fill="#FF0000"/><rect x="501" y="226" width="1" height="26" fill="#2F4F4F"/><rect x="500" y="231" width="3" height="20" fill="#2F4F4F"/><rect x="501" y="232" width="1" height="18" fill="#90EE90"/><rect x="505" y="247" width="1" height="6" fill="#8B0000"/><rect x="504" y="249" width="3" height="2" fill="#8B0000"/><rect x="509" y="243" width="1" height="7" fill="#8B0000"/><rect x="508" y="245" width="3" height="5" fill="#8B0000"/><rect x="509" y="246" width="1" height="3" fill="#FF0000"/><rect x="513" y="243" width="1" height="18" fill="#2F4F4F"/><rect x="512" y="245" width="3" height="10" fill="#2F4F4F"/><rect x="513" y="246" width="1" height="8" fill="#90EE90"/><rect x="517" y="248" width="1" height="13" fill="#8B0000"/><rect x="516" y="250" width="3" height="5" fill="#8B0000"/><rect x="517" y="251" width="1" height="3" fill="#FF0000"/><rect x="521" y="246" width="1" height="7" fill="#8B0000"/><rect x="520" y="250" width="3" height="1" fill="#8B0000"/><rect x="525" y="242" width="1" height="27" fill="#2F4F4F"/><rect x="524" y="250" width="3" height="11" fill="#2F4F4F"/><rect x="525" y="251" width="1" height="9" fill="#90EE90"/><rect x="529" y="258" width="1" height="25" fill="#2F4F4F"/><rect x="528" y="260" width="3" height="23" fill="#2F4F4F"/><rect x="529" y="261" width="1" height="21" fill="#90EE90"/><rect x="533" y="280" width="1" height="4" fill="#8B0000"/><rect x="532" y="280" width="3" height="3" fill="#8B0000"/><rect x="533" y="281" width="1" height="1" fill="#FF0000"/><rect x="537" y="272" width="1" height="36" fill="#2F4F4F"/><rect x="536" y="280" width="3" height="21" fill="#2F4F4F"/><rect x="537" y="281" width="1" height="19" fill="#90EE90"/><rect x="541" y="280" width="1" height="24" fill="#8B0000"/><rect x="540" y="285" width="3" height="16" fill="#8B0000"/><rect x="541" y="286" width="1" height="14" fill="#FF0000"/><rect x="545" y="282" width="1" height="14" fill="#2F4F4F"/><rect x="544" y="285" width="3" height="11" fill="#2F4F4F"/><rect x="545" y="286" width="1" height="9" fill="#90EE90"/><rect x="549" y="281" width="1" height="18" fill="#8B0000"/><rect x="548" y="284" width="3" height="12" fill="#8B0000"/><rect x="549" y="285" width="1" height="10" fill="#FF0000"/><rect x="553" y="271" width="1" height="22" fill="#8B0000"/><rect x="552" y="274" width="3" height="11" fill="#8B0000"/><rect x="553" y="275" width="1" height="9" fill="#FF0000"/><rect x="557" y="271" width="1" height="15" fill="#2F4F4F"/><rect x="556" y="274" width="3" height="8" fill="#2F4F4F"/><rect x="557" y="275" width="1" height="6" fill="#90EE90"/><rect x="561" y="248" width="1" height="42" fill="#8B0000"/><rect x="560" y="251" width="3" height="31" fill="#8B0000"/><rect x="561" y="252" width="1" height="29" fill="#FF0000"/><rect x="565" y="246" width="1" height="12" fill="#2F4F4F"/><rect x="564" y="251" width="3" height="5" fill="#2F4F4F"/><rect x="565" y="252" width="1" height="3" fill="#90EE90"/><rect x="569" y="255" width="1" height="7" fill="#2F4F4F"/><rect x="568" y="255" width="3" height="3" fill="#2F4F4F"/><rect x="569" y="256" width="1" height="1" fill="#90EE90"/><rect x="573" y="251" width="1" height="16" fill="#2F4F4F"/><rect x="572" y="257" width="3" height="2" fill="#2F4F4F"/><rect x="577" y="236" width="1" height="31" fill="#8B0000"/><rect x="576" y="241" width="3" height="18" fill="#8B0000"/><rect x="577" y="242" width="1" height="16" fill="#FF0000"/><rect x="581" y="239" width="1" height="22" fill="#2F4F4F"/><rect x="580" y="241" width="3" height="12" fill="#2F4F4F"/><rect x="581" y="242" width="1" height="10" fill="#90EE90"/><rect x="585" y="243" width="1" height="18" fill="#8B0000"/><rect x="584" y="245" width="3" height="8" fill="#8B0000"/><rect x="585" y="246" width="1" height="6" fill="#FF0000"/><rect x="589" y="237" width="1" height="19" fill="#2F4F4F"/><rect x="588" y="245" width="3" height="11" fill="#2F4F4F"/><rect x="589" y="246" width="1" height="9" fill="#90EE90"/><rect x="593" y="244" width="1" height="14" fill="#8B0000"/><rect x="592" y="250" width="3" height="6" fill="#8B0000"/><rect x="593" y="251" width="1" height="4" fill="#FF0000"/><rect x="597" y="245" width="1" height="8" fill="#8B0000"/><rect x="596" y="245" width="3" height="6" fill="#8B0000"/><rect x="597" y="246" width="1" height="4" fill="#FF0000"/><rect x="601" y="237" width="1" height="11" fill="#8B0000"/><rect x="600" y="239" width="3" height="7" fill="#8B0000"/><rect x="601" y="240" width="1" height="5" fill="#FF0000"/><rect x="605" y="229" width="1" height="12" fill="#8B0000"/><rect x="604" y="235" width="3" height="5" fill="#8B0000"/><rect x="605" y="236" width="1" height="3" fill="#FF0000"/><rect x="609" y="219" width="1" height="17" fill="#8B0000"/><rect x="608" y="227" width="3" height="9" fill="#8B0000"/><rect x="609" y="228" width="1" height="7" fill="#FF0000"/><rect x="613" y="217" width="1" height="19" fill="#8B0000"/><rect x="612" y="221" width="3" height="7" fill="#8B0000"/><rect x="613" y="222" width="1" height="5" fill="#FF0000"/><rect x="617" y="202" width="1" height="28" fill="#8B0000"/><rect x="616" y="210" width="3" height="12" fill="#8B0000"/><rect x="617" y="211" width="1" height="10" fill="#FF0000"/><rect x="621" y="178" width="1" height="34" fill="#8B0000"/><rect x="620" y="184" width="3" height="27" fill="#8B0000"/><rect x="621" y="185" width="1" height="25" fill="#FF0000"/><rect x="625" y="176" width="1" height="19" fill="#2F4F4F"/><rect x="624" y="184" width="3" height="11" fill="#2F4F4F"/><rect x="625" y="185" width="1" height="9" fill="#90EE90"/><rect x="629" y="185" width="1" height="13" fill="#8B0000"/><rect x="628" y="188" width="3" height="7" fill="#8B0000"/><rect x="629" y="189" width="1" height="5" fill="#FF0000"/><rect x="633" y="173" width="1" height="16" fill="#8B0000"/><rect x="632" y="176" width="3" height="13" fill="#8B0000"/><rect x="633" y="177" width="1" height="11" fill="#FF0000"/><rect x="637" y="170" width="1" height="15" fill="#8B0000"/><rect x="636" y="171" width="3" height="6" fill="#8B0000"/><rect x="637" y="172" width="1" height="4" fill="#FF0000"/><rect x="641" y="158" width="1" height="22" fill="#8B0000"/><rect x="640" y="164" width="3" height="8" fill="#8B0000"/><rect x="641" y="165" width="1" height="6" fill="#FF0000"/><rect x="645" y="164" width="1" height="17" fill="#2F4F4F"/><rect x="644" y="164" width="3" height="16" fill="#2F4F4F"/><rect x="645" y="165" width="1" height="14" fill="#90EE90"/><rect x="649" y="173" width="1" height="16" fill="#2F4F4F"/><rect x="648" y="179" width="3" height="6" fill="#2F4F4F"/><rect x="649" y="180" width="1" height="4" fill="#90EE90"/><rect x="653" y="176" width="1" height="17" fill="#8B0000"/><rect x="652" y="184" width="3" height="1" fill="#8B0000"/><rect x="657" y="181" width="1" height="24" fill="#2F4F4F"/><rect x="656" y="184" width="3" height="18" fill="#2F4F4F"/><rect x="657" y="185" width="1" height="16" fill="#90EE90"/><rect x="661" y="182" width="1" height="28" fill="#8B0000"/><rect x="660" y="188" width="3" height="14" fill="#8B0000"/><rect x="661" y="189" width="1" height="12" fill="#FF0000"/><rect x="665" y="180" width="1" height="23" fill="#2F4F4F"/><rect x="664" y="188" width="3" height="9" fill="#2F4F4F"/><rect x="665" y="189" width="1" height="7" fill="#90EE90"/><rect x="669" y="172" width="1" height="28" fill="#8B0000"/><rect x="668" y="180" width="3" height="17" fill="#8B0000"/><rect x="669" y="181" width="1" height="15" fill="#FF0000"/><rect x="673" y="167" width="1" height="17" fill="#8B0000"/><rect x="672" y="175" width="3" height="6" fill="#8B0000"/><rect x="673" y="176" width="1" height="4" fill="#FF0000"/><rect x="677" y="167" width="1" height="19" fill="#2F4F4F"/><rect x="676" y="175" width="3" height="8" fill="#2F4F4F"/><rect x="677" y="176" width="1" height="6" fill="#90EE90"/><rect x="681" y="172" width="1" height="13" fill="#8B0000"/><rect x="680" y="178" width="3" height="5" fill="#8B0000"/><rect x="681" y="179" width="1" height="3" fill="#FF0000"/><rect x="685" y="167" width="1" height="13" fill="#8B0000"/><rect x="684" y="172" width="3" height="7" fill="#8B0000"/><rect x="685" y="173" width="1" height="5" fill="#FF0000"/><rect x="689" y="167" width="1" height="27" fill="#2F4F4F"/><rect x="688" y="172" width="3" height="16" fill="#2F4F4F"/><rect x="689" y="173" width="1" height="14" fill="#90EE90"/><rect x="693" y="176" width="1" height="13" fill="#8B0000"/><rect x="692" y="180" width="3" height="8" fill="#8B0000"/><rect x="693" y="181" width="1" height="6" fill="#FF0000"/><rect x="697" y="173" width="1" height="13" fill="#8B0000"/><rect x="696" y="176" width="3" height="5" fill="#8B0000"/><rect x="697" y="177" width="1" height="3" fill="#FF0000"/><rect x="701" y="175" width="1" height="14" fill="#2F4F4F"/><rect x="700" y="176" width="3" height="10" fill="#2F4F4F"/><rect x="701" y="177" width="1" height="8" fill="#90EE90"/><rect x="705" y="182" width="1" height="5" fill="#8B0000"/><rect x="704" y="185" width="3" height="1" fill="#8B0000"/><rect x="709" y="179" width="1" height="11" fill="#8B0000"/><rect x="708" y="181" width="3" height="5" fill="#8B0000"/><rect x="709" y="182" width="1" height="3" fill="#FF0000"/><rect x="713" y="179" width="1" height="6" fill="#8B0000"/><rect x="712" y="181" width="3" height="1" fill="#8B0000"/><rect x="717" y="179" width="1" height="9" fill="#8B0000"/><rect x="716" y="181" width="3" height="1" fill="#8B0000"/><rect x="721" y="176" width="1" height="7" fill="#8B0000"/><rect x="720" y="179" width="3" height="3" fill="#8B0000"/><rect x="721" y="180" width="1" height="1" fill="#FF0000"/><rect x="725" y="174" width="1" height="15" fill="#2F4F4F"/><rect x="724" y="179" width="3" height="4" fill="#2F4F4F"/><rect x="725" y="180" width="1" height="2" fill="#90EE90"/><rect x="729" y="163" width="1" height="23" fill="#8B0000"/><rect x="728" y="165" width="3" height="18" fill="#8B0000"/><rect x="729" y="166" width="1" height="16" fill="#FF0000"/><rect x="733" y="155" width="1" height="16" fill="#8B0000"/><rect x="732" y="157" width="3" height="9" fill="#8B0000"/><rect x="733" y="158" width="1" height="7" fill="#FF0000"/><rect x="737" y="136" width="1" height="27" fill="#8B0000"/><rect x="736" y="144" width="3" height="14" fill="#8B0000"/><rect x="737" y="145" width="1" height="12" fill="#FF0000"/><rect x="741" y="99" width="1" height="51" fill="#8B0000"/><rect x="740" y="120" width="3" height="25" fill="#8B0000"/><rect x="741" y="121" width="1" height="23" fill="#FF0000"/><rect x="745" y="101" width="1" height="24" fill="#8B0000"/><rect x="744" y="104" width="3" height="17" fill="#8B0000"/><rect x="745" y="105" width="1" height="15" fill="#FF0000"/><rect x="749" y="93" width="1" height="13" fill="#8B0000"/><rect x="748" y="104" width="3" height="1" fill="#8B0000"/><rect x="753" y="94" width="1" height="43" fill="#2F4F4F"/><rect x="752" y="104" width="3" height="22" fill="#2F4F4F"/><rect x="753" y="105" width="1" height="20" fill="#90EE90"/><rect x="757" y="121" width="1" height="32" fill="#2F4F4F"/><rect x="756" y="125" width="3" height="8" fill="#2F4F4F"/><rect x="757" y="126" width="1" height="6" fill="#90EE90"/><rect x="761" y="123" width="1" height="16" fill="#8B0000"/><rect x="760" y="129" width="3" height="4" fill="#8B0000"/><rect x="761" y="130" width="1" height="2" fill="#FF0000"/><rect x="765" y="112" width="1" height="23" fill="#8B0000"/><rect x="764" y="112" width="3" height="18" fill="#8B0000"/><rect x="765" y="113" width="1" height="16" fill="#FF0000"/><rect x="769" y="108" width="1" height="34" fill="#2F4F4F"/><rect x="768" y="112" width="3" height="22" fill="#2F4F4F"/><rect x="769" y="113" width="1" height="20" fill="#90EE90"/><rect x="773" y="130" width="1" height="35" fill="#2F4F4F"/><rect x="772" y="133" width="3" height="24" fill="#2F4F4F"/><rect x="773" y="134" width="1" height="22" fill="#90EE90"/><rect x="777" y="155" width="1" height="87" fill="#2F4F4F"/><rect x="776" y="156" width="3" height="69" fill="#2F4F4F"/><rect x="777" y="157" width="1" height="67" fill="#90EE90"/><rect x="781" y="194" width="1" height="32" fill="#8B0000"/><rect x="780" y="197" width="3" height="28" fill="#8B0000"/><rect x="781" y="198" width="1" height="26" fill="#FF0000"/><rect x="785" y="196" width="1" height="23" fill="#2F4F4F"/><rect x="784" y="197" width="3" height="19" fill="#2F4F4F"/><rect x="785" y="198" width="1" height="17" fill="#90EE90"/><rect x="789" y="187" width="1" height="29" fill="#8B0000"/><rect x="788" y="190" width="3" height="26" fill="#8B0000"/><rect x="789" y="191" width="1" height="24" fill="#FF0000"/><rect x="793" y="187" width="1" height="7" fill="#8B0000"/><rect x="792" y="189" width="3" height="2" fill="#8B0000"/><rect x="797" y="178" width="1" height="17" fill="#8B0000"/><rect x="796" y="180" width="3" height="10" fill="#8B0000"/><rect x="797" y="181" width="1" height="8" fill="#FF0000"/><rect x="801" y="177" width="1" height="23" fill="#2F4F4F"/><rect x="800" y="180" width="3" height="15" fill="#2F4F4F"/><rect x="801" y="181" width="1" height="13" fill="#90EE90"/><rect x="805" y="192" width="1" height="16" fill="#2F4F4F"/><rect x="804" y="194" width="3" height="6" fill="#2F4F4F"/><rect x="805" y="195" width="1" height="4" fill="#90EE90"/><rect x="809" y="188" width="1" height="18" fill="#8B0000"/><rect x="808" y="196" width="3" height="4" fill="#8B0000"/><rect x="809" y="197" width="1" height="2" fill="#FF0000"/><rect x="813" y="172" width="1" height="26" fill="#8B0000"/><rect x="812" y="176" width="3" height="21" fill="#8B0000"/><rect x="813" y="177" width="1" height="19" fill="#FF0000"/><rect x="817" y="173" width="1" height="15" fill="#2F4F4F"/><rect x="816" y="176" width="3" height="12" fill="#2F4F4F"/><rect x="817" y="177" width="1" height="10" fill="#90EE90"/><rect x="821" y="185" width="1" height="8" fill="#8B0000"/><rect x="820" y="187" width="3" height="1" fill="#8B0000"/><rect x="825" y="186" width="1" height="28" fill="#2F4F4F"/><rect x="824" y="187" width="3" height="24" fill="#2F4F4F"/><rect x="825" y="188" width="1" height="22" fill="#90EE90"/><rect x="829" y="210" width="1" height="14" fill="#2F4F4F"/><rect x="828" y="210" width="3" height="13" fill="#2F4F4F"/><rect x="829" y="211" width="1" height="11" fill="#90EE90"/><rect x="833" y="213" width="1" height="11" fill="#8B0000"/><rect x="832" y="216" width="3" height="7" fill="#8B0000"/><rect x="833" y="217" width="1" height="5" fill="#FF0000"/><rect x="837" y="197" width="1" height="21" fill="#8B0000"/><rect x="836" y="200" width="3" height="17" fill="#8B0000"/><rect x="837" y="201" width="1" height="15" fill="#FF0000"/><rect x="841" y="197" width="1" height="10" fill="#2F4F4F"/><rect x="840" y="200" width="3" height="6" fill="#2F4F4F"/><rect x="841" y="201" width="1" height="4" fill="#90EE90"/><rect x="845" y="199" width="1" height="16" fill="#2F4F4F"/><rect x="844" y="205" width="3" height="10" fill="#2F4F4F"/><rect x="845" y="206" width="1" height="8" fill="#90EE90"/><rect x="849" y="201" width="1" height="22" fill="#8B0000"/><rect x="848" y="205" width="3" height="10" fill="#8B0000"/><rect x="849" y="206" width="1" height="8" fill="#FF0000"/><rect x="853" y="182" width="1" height="27" fill="#8B0000"/><rect x="852" y="187" width="3" height="19" fill="#8B0000"/><rect x="853" y="188" width="1" height="17" fill="#FF0000"/><rect x="857" y="183" width="1" height="5" fill="#8B0000"/><rect x="856" y="185" width="3" height="3" fill="#8B0000"/><rect x="857" y="186" width="1" height="1" fill="#FF0000"/><rect x="861" y="177" width="1" height="69" fill="#2F4F4F"/><rect x="860" y="185" width="3" height="38" fill="#2F4F4F"/><rect x="861" y="186" width="1" height="36" fill="#90EE90"/><rect x="865" y="200" width="1" height="25" fill="#8B0000"/><rect x="864" y="201" width="3" height="22" fill="#8B0000"/><rect x="865" y="202" width="1" height="20" fill="#FF0000"/><rect x="869" y="198" width="1" height="12" fill="#2F4F4F"/><rect x="868" y="201" width="3" height="9" fill="#2F4F4F"/><rect x="869" y="202" width="1" height="7" fill="#90EE90"/><rect x="873" y="207" width="1" height="19" fill="#2F4F4F"/><rect x="872" y="209" width="3" height="14" fill="#2F4F4F"/><rect x="873" y="210" width="1" height="12" fill="#90EE90"/><rect x="877" y="209" width="1" height="17" fill="#8B0000"/><rect x="876" y="212" width="3" height="11" fill="#8B0000"/><rect x="877" y="213" width="1" height="9" fill="#FF0000"/><rect x="881" y="189" width="1" height="27" fill="#8B0000"/><rect x="880" y="197" width="3" height="16" fill="#8B0000"/><rect x="881" y="198" width="1" height="14" fill="#FF0000"/><rect x="885" y="182" width="1" height="22" fill="#8B0000"/><rect x="884" y="185" width="3" height="13" fill="#8B0000"/><rect x="885" y="186" width="1" height="11" fill="#FF0000"/><rect x="889" y="173" width="1" height="15" fill="#8B0000"/><rect x="888" y="181" width="3" height="5" fill="#8B0000"/><rect x="889" y="182" width="1" height="3" fill="#FF0000"/><rect x="893" y="173" width="1" height="13" fill="#8B0000"/><rect x="892" y="176" width="3" height="6" fill="#8B0000"/><rect x="893" y="177" width="1" height="4" fill="#FF0000"/><rect x="897" y="171" width="1" height="9" fill="#8B0000"/><rect x="896" y="171" width="3" height="6" fill="#8B0000"/><rect x="897" y="172" width="1" height="4" fill="#FF0000"/><rect x="901" y="162" width="1" height="10" fill="#8B0000"/><rect x="900" y="162" width="3" height="10" fill="#8B0000"/><rect x="901" y="163" width="1" height="8" fill="#FF0000"/><rect x="905" y="162" width="1" height="22" fill="#2F4F4F"/><rect x="904" y="162" width="3" height="14" fill="#2F4F4F"/><rect x="905" y="163" width="1" height="12" fill="#90EE90"/><rect x="909" y="163" width="1" height="16" fill="#8B0000"/><rect x="908" y="171" width="3" height="5" fill="#8B0000"/><rect x="909" y="172" width="1" height="3" fill="#FF0000"/><rect x="913" y="163" width="1" height="19" fill="#2F4F4F"/><rect x="912" y="171" width="3" height="5" fill="#2F4F4F"/><rect x="913" y="172" width="1" height="3" fill="#90EE90"/><rect x="917" y="172" width="1" height="15" fill="#2F4F4F"/><rect x="916" y="175" width="3" height="6" fill="#2F4F4F"/><rect x="917" y="176" width="1" height="4" fill="#90EE90"/><rect x="921" y="179" width="1" height="11" fill="#2F4F4F"/><rect x="920" y="180" width="3" height="5" fill="#2F4F4F"/><rect x="921" y="181" width="1" height="3" fill="#90EE90"/><rect x="925" y="178" width="1" height="16" fill="#2F4F4F"/><rect x="924" y="184" width="3" height="2" fill="#2F4F4F"/><rect x="929" y="176" width="1" height="18" fill="#8B0000"/><rect x="928" y="181" width="3" height="5" fill="#8B0000"/><rect x="929" y="182" width="1" height="3" fill="#FF0000"/><rect x="933" y="178" width="1" height="25" fill="#2F4F4F"/><rect x="932" y="181" width="3" height="5" fill="#2F4F4F"/><rect x="933" y="182" width="1" height="3" fill="#90EE90"/><rect x="937" y="182" width="1" height="13" fill="#2F4F4F"/><rect x="936" y="185" width="3" height="6" fill="#2F4F4F"/><rect x="937" y="186" width="1" height="4" fill="#90EE90"/><rect x="941" y="176" width="1" height="17" fill="#8B0000"/><rect x="940" y="179" width="3" height="12" fill="#8B0000"/><rect x="941" y="180" width="1" height="10" fill="#FF0000"/><rect x="945" y="174" width="1" height="23" fill="#2F4F4F"/><rect x="944" y="179" width="3" height="14" fill="#2F4F4F"/><rect x="945" y="180" width="1" height="12" fill="#90EE90"/><rect x="949" y="192" width="1" height="21" fill="#2F4F4F"/><rect x="948" y="192" width="3" height="19" fill="#2F4F4F"/><rect x="949" y="193" width="1" height="17" fill="#90EE90"/><rect x="953" y="210" width="1" height="12" fill="#2F4F4F"/><rect x="952" y="210" width="3" height="11" fill="#2F4F4F"/><rect x="953" y="211" width="1" height="9" fill="#90EE90"/><rect x="957" y="199" width="1" height="27" fill="#8B0000"/><rect x="956" y="202" width="3" height="19" fill="#8B0000"/><rect x="957" y="203" width="1" height="17" fill="#FF0000"/><rect x="961" y="200" width="1" height="12" fill="#2F4F4F"/><rect x="960" y="202" width="3" height="10" fill="#2F4F4F"/><rect x="961" y="203" width="1" height="8" fill="#90EE90"/><rect x="965" y="210" width="1" height="11" fill="#2F4F4F"/><rect x="964" y="211" width="3" height="5" fill="#2F4F4F"/><rect x="965" y="212" width="1" height="3" fill="#90EE90"/><rect x="969" y="202" width="1" height="17" fill="#8B0000"/><rect x="968" y="210" width="3" height="6" fill="#8B0000"/><rect x="969" y="211" width="1" height="4" fill="#FF0000"/><rect x="973" y="207" width="1" height="28" fill="#2F4F4F"/><rect x="972" y="210" width="3" height="22" fill="#2F4F4F"/><rect x="973" y="211" width="1" height="20" fill="#90EE90"/><rect x="977" y="231" width="1" height="16" fill="#2F4F4F"/><rect x="976" y="231" width="3" height="10" fill="#2F4F4F"/><rect x="977" y="232" width="1" height="8" fill="#90EE90"/><rect x="981" y="238" width="1" height="23" fill="#2F4F4F"/><rect x="980" y="240" width="3" height="3" fill="#2F4F4F"/><rect x="981" y="241" width="1" height="1" fill="#90EE90"/><rect x="985" y="239" width="1" height="11" fill="#2F4F4F"/><rect x="984" y="242" width="3" height="2" fill="#2F4F4F"/><rect x="989" y="243" width="1" height="18" fill="#2F4F4F"/><rect x="988" y="243" width="3" height="15" fill="#2F4F4F"/><rect x="989" y="244" width="1" height="13" fill="#90EE90"/><rect x="993" y="232" width="1" height="30" fill="#8B0000"/><rect x="992" y="236" width="3" height="22" fill="#8B0000"/><rect x="993" y="237" width="1" height="20" fill="#FF0000"/><rect x="997" y="228" width="1" height="28" fill="#2F4F4F"/><rect x="996" y="236" width="3" height="16" fill="#2F4F4F"/><rect x="997" y="237" width="1" height="14" fill="#90EE90"/><rect x="1001" y="243" width="1" height="9" fill="#8B0000"/><rect x="1000" y="246" width="3" height="6" fill="#8B0000"/><rect x="1001" y="247" width="1" height="4" fill="#FF0000"/><rect x="1005" y="236" width="1" height="14" fill="#8B0000"/><rect x="1004" y="239" width="3" height="8" fill="#8B0000"/><rect x="1005" y="240" width="1" height="6" fill="#FF0000"/><rect x="1009" y="235" width="1" height="9" fill="#2F4F4F"/><rect x="1008" y="239" width="3" height="3" fill="#2F4F4F"/><rect x="1009" y="240" width="1" height="1" fill="#90EE90"/><rect x="1013" y="241" width="1" height="8" fill="#2F4F4F"/><rect x="1012" y="241" width="3" height="4" fill="#2F4F4F"/><rect x="1013" y="242" width="1" height="2" fill="#90EE90"/><rect x="1017" y="236" width="1" height="10" fill="#8B0000"/><rect x="1016" y="241" width="3" height="4" fill="#8B0000"/><rect x="1017" y="242" width="1" height="2" fill="#FF0000"/><rect x="1021" y="235" width="1" height="16" fill="#2F4F4F"/><rect x="1020" y="241" width="3" height="7" fill="#2F4F4F"/><rect x="1021" y="242" width="1" height="5" fill="#90EE90"/><rect x="1025" y="237" width="1" height="14" fill="#8B0000"/><rect x="1024" y="245" width="3" height="3" fill="#8B0000"/><rect x="1025" y="246" width="1" height="1" fill="#FF0000"/><rect x="1029" y="242" width="1" height="16" fill="#2F4F4F"/><rect x="1028" y="245" width="3" height="5" fill="#2F4F4F"/><rect x="1029" y="246" width="1" height="3" fill="#90EE90"/><rect x="1033" y="249" width="1" height="2" fill="#8B0000"/><rect x="1032" y="249" width="3" height="1" fill="#8B0000"/><rect x="1037" y="246" width="1" height="7" fill="#2F4F4F"/><rect x="1036" y="249" width="3" height="3" fill="#2F4F4F"/><rect x="1037" y="250" width="1" height="1" fill="#90EE90"/><rect x="1041" y="249" width="1" height="51" fill="#2F4F4F"/><rect x="1040" y="251" width="3" height="44" fill="#2F4F4F"/><rect x="1041" y="252" width="1" height="42" fill="#90EE90"/><rect x="1045" y="289" width="1" height="11" fill="#8B0000"/><rect x="1044" y="289" width="3" height="6" fill="#8B0000"/><rect x="1045" y="290" width="1" height="4" fill="#FF0000"/><rect x="1049" y="289" width="1" height="30" fill="#2F4F4F"/><rect x="1048" y="289" width="3" height="27" fill="#2F4F4F"/><rect x="1049" y="290" width="1" height="25" fill="#90EE90"/><rect x="1053" y="301" width="1" height="18" fill="#8B0000"/><rect x="1052" y="304" width="3" height="12" fill="#8B0000"/><rect x="1053" y="305" width="1" height="10" fill="#FF0000"/><rect x="1057" y="303" width="1" height="18" fill="#2F4F4F"/><rect x="1056" y="304" width="3" height="9" fill="#2F4F4F"/><rect x="1057" y="305" width="1" height="7" fill="#90EE90"/><rect x="1061" y="310" width="1" height="58" fill="#2F4F4F"/><rect x="1060" y="312" width="3" height="51" fill="#2F4F4F"/><rect x="1061" y="313" width="1" height="49" fill="#90EE90"/><rect x="1065" y="358" width="1" height="75" fill="#2F4F4F"/><rect x="1064" y="362" width="3" height="29" fill="#2F4F4F"/><rect x="1065" y="363" width="1" height="27" fill="#90EE90"/><rect x="1069" y="388" width="1" height="6" fill="#8B0000"/><rect x="1068" y="390" width="3" height="1" fill="#8B0000"/><rect x="1073" y="377" width="1" height="14" fill="#8B0000"/><rect x="1072" y="379" width="3" height="12" fill="#8B0000"/><rect x="1073" y="380" width="1" height="10" fill="#FF0000"/><rect x="1077" y="361" width="1" height="24" fill="#8B0000"/><rect x="1076" y="369" width="3" height="11" fill="#8B0000"/><rect x="1077" y="370" width="1" height="9" fill="#FF0000"/><rect x="1081" y="347" width="1" height="25" fill="#8B0000"/><rect x="1080" y="364" width="3" height="6" fill="#8B0000"/><rect x="1081" y="365" width="1" height="4" fill="#FF0000"/><rect x="1085" y="356" width="1" height="24" fill="#2F4F4F"/><rect x="1084" y="364" width="3" height="8" fill="#2F4F4F"/><rect x="1085" y="365" width="1" height="6" fill="#90EE90"/><rect x="1089" y="371" width="1" height="24" fill="#2F4F4F"/><rect x="1088" y="371" width="3" height="21" fill="#2F4F4F"/><rect x="1089" y="372" width="1" height="19" fill="#90EE90"/><rect x="1093" y="390" width="1" height="17" fill="#2F4F4F"/><rect x="1092" y="391" width="3" height="16" fill="#2F4F4F"/><rect x="1093" y="392" width="1" height="14" fill="#90EE90"/><rect x="1097" y="406" width="1" height="32" fill="#2F4F4F"/><rect x="1096" y="406" width="3" height="30" fill="#2F4F4F"/><rect x="1097" y="407" width="1" height="28" fill="#90EE90"/><rect x="1101" y="431" width="1" height="46" fill="#2F4F4F"/><rect x="1100" y="435" width="3" height="41" fill="#2F4F4F"/><rect x="1101" y="436" width="1" height="39" fill="#90EE90"/><rect x="1105" y="470" width="1" height="40" fill="#2F4F4F"/><rect x="1104" y="475" width="3" height="29" fill="#2F4F4F"/><rect x="1105" y="476" width="1" height="27" fill="#90EE90"/><rect x="1109" y="495" width="1" height="88" fill="#2F4F4F"/><rect x="1108" y="503" width="3" height="23" fill="#2F4F4F"/><rect x="1109" y="504" width="1" height="21" fill="#90EE90"/><rect x="1113" y="452" width="1" height="82" fill="#8B0000"/><rect x="1112" y="452" width="3" height="74" fill="#8B0000"/><rect x="1113" y="453" width="1" height="72" fill="#FF0000"/><rect x="1117" y="449" width="1" height="19" fill="#2F4F4F"/><rect x="1116" y="452" width="3" height="10" fill="#2F4F4F"/><rect x="1117" y="453" width="1" height="8" fill="#90EE90"/><rect x="1121" y="458" width="1" height="11" fill="#2F4F4F"/><rect x="1120" y="461" width="3" height="8" fill="#2F4F4F"/><rect x="1121" y="462" width="1" height="6" fill="#90EE90"/><rect x="1125" y="462" width="1" height="40" fill="#2F4F4F"/><rect x="1124" y="468" width="3" height="33" fill="#2F4F4F"/><rect x="1125" y="469" width="1" height="31" fill="#90EE90"/><rect x="1129" y="482" width="1" height="27" fill="#8B0000"/><rect x="1128" y="490" width="3" height="11" fill="#8B0000"/><rect x="1129" y="491" width="1" height="9" fill="#FF0000"/><rect x="1133" y="461" width="1" height="38" fill="#8B0000"/><rect x="1132" y="462" width="3" height="29" fill="#8B0000"/><rect x="1133" y="463" width="1" height="27" fill="#FF0000"/><rect x="1137" y="461" width="1" height="8" fill="#8B0000"/><rect x="1136" y="462" width="3" height="1" fill="#8B0000"/><rect x="1141" y="459" width="1" height="18" fill="#2F4F4F"/><rect x="1140" y="462" width="3" height="14" fill="#2F4F4F"/><rect x="1141" y="463" width="1" height="12" fill="#90EE90"/><rect x="1145" y="449" width="1" height="30" fill="#8B0000"/><rect x="1144" y="452" width="3" height="24" fill="#8B0000"/><rect x="1145" y="453" width="1" height="22" fill="#FF0000"/><rect x="1149" y="394" width="1" height="62" fill="#8B0000"/><rect x="1148" y="397" width="3" height="56" fill="#8B0000"/><rect x="1149" y="398" width="1" height="54" fill="#FF0000"/><rect x="1153" y="391" width="1" height="18" fill="#2F4F4F"/><rect x="1152" y="397" width="3" height="6" fill="#2F4F4F"/><rect x="1153" y="398" width="1" height="4" fill="#90EE90"/><rect x="1157" y="397" width="1" height="15" fill="#2F4F4F"/><rect x="1156" y="402" width="3" height="9" fill="#2F4F4F"/><rect x="1157" y="403" width="1" height="7" fill="#90EE90"/><rect x="1161" y="404" width="1" height="16" fill="#2F4F4F"/><rect x="1160" y="410" width="3" height="7" fill="#2F4F4F"/><rect x="1161" y="411" width="1" height="5" fill="#90EE90"/><rect x="1165" y="412" width="1" height="8" fill="#8B0000"/><rect x="1164" y="412" width="3" height="5" fill="#8B0000"/><rect x="1165" y="413" width="1" height="3" fill="#FF0000"/><rect x="1169" y="411" width="1" height="24" fill="#2F4F4F"/><rect x="1168" y="412" width="3" height="21" fill="#2F4F4F"/><rect x="1169" y="413" width="1" height="19" fill="#90EE90"/><rect x="1173" y="417" width="1" height="19" fill="#8B0000"/><rect x="1172" y="421" width="3" height="12" fill="#8B0000"/><rect x="1173" y="422" width="1" height="10" fill="#FF0000"/><rect x="1177" y="418" width="1" height="40" fill="#2F4F4F"/><rect x="1176" y="421" width="3" height="35" fill="#2F4F4F"/><rect x="1177" y="422" width="1" height="33" fill="#90EE90"/><rect x="1181" y="455" width="1" height="14" fill="#2F4F4F"/><rect x="1180" y="455" width="3" height="8" fill="#2F4F4F"/><rect x="1181" y="456" width="1" height="6" fill="#90EE90"/><rect x="1185" y="450" width="1" height="19" fill="#8B0000"/><rect x="1184" y="450" width="3" height="13" fill="#8B0000"/><rect x="1185" y="451" width="1" height="11" fill="#FF0000"/><rect x="1189" y="447" width="1" height="32" fill="#2F4F4F"/><rect x="1188" y="450" width="3" height="28" fill="#2F4F4F"/><rect x="1189" y="451" width="1" height="26" fill="#90EE90"/><rect x="1193" y="474" width="1" height="16" fill="#2F4F4F"/><rect x="1192" y="477" width="3" height="2" fill="#2F4F4F"/><rect x="1197" y="462" width="1" height="25" fill="#8B0000"/><rect x="1196" y="465" width="3" height="14" fill="#8B0000"/><rect x="1197" y="466" width="1" height="12" fill="#FF0000"/><rect x="1201" y="447" width="1" height="25" fill="#8B0000"/><rect x="1200" y="450" width="3" height="16" fill="#8B0000"/><rect x="1201" y="451" width="1" height="14" fill="#FF0000"/><rect x="1205" y="444" width="1" height="23" fill="#2F4F4F"/><rect x="1204" y="450" width="3" height="11" fill="#2F4F4F"/><rect x="1205" y="451" width="1" height="9" fill="#90EE90"/><rect x="1209" y="459" width="1" height="11" fill="#8B0000"/><rect x="1208" y="460" width="3" height="1" fill="#8B0000"/><rect x="1213" y="414" width="1" height="50" fill="#8B0000"/><rect x="1212" y="440" width="3" height="21" fill="#8B0000"/><rect x="1213" y="441" width="1" height="19" fill="#FF0000"/><rect x="1217" y="435" width="1" height="12" fill="#8B0000"/><rect x="1216" y="436" width="3" height="5" fill="#8B0000"/><rect x="1217" y="437" width="1" height="3" fill="#FF0000"/><rect x="1221" y="436" width="1" height="13" fill="#2F4F4F"/><rect x="1220" y="436" width="3" height="10" fill="#2F4F4F"/><rect x="1221" y="437" width="1" height="8" fill="#90EE90"/><rect x="1225" y="424" width="1" height="23" fill="#8B0000"/><rect x="1224" y="430" width="3" height="16" fill="#8B0000"/><rect x="1225" y="431" width="1" height="14" fill="#FF0000"/></g><g shape-rendering="crispEdges"><rect x="0" y="362" width="1292" height="2" fill="#FF0000"/><rect x="0" y="377" width="1292" height="1" fill="#FF0000"/><rect x="0" y="430" width="1292" height="1" fill="#4169E1"/><rect x="0" y="488" width="1292" height="1" fill="#FF0000"/><rect x="0" y="501" width="1292" height="2" fill="#FF0000"/></g><path d="M0.0,408.0 L13.5,420.0 L213.0,26.0 L265.0,470.0 L316.0,215.0 L357.0,376.0 L441.0,204.5 L537.5,307.0 L749.0,93.5 L782.0,250.0 L901.0,161.0 L1109.0,582.0 L1155.0,400.0 L1193.0,489.0" fill="none" stroke="#FF0000" stroke-width="2" stroke-linejoin="round" shape-rendering="crispEdges"/></g><polygon points="748.5,93.6 773.0,224.8 766.7,226.1 782.0,250.5 786.2,222.0 779.9,223.4 749.5,93.4" fill="#FF5252"/><polygon points="782.3,250.4 878.4,182.9 882.3,188.1 898.0,164.0 870.4,172.0 874.2,177.3 781.7,249.6" fill="#FF5252"/><polygon points="900.6,161.2 1093.9,558.6 1088.5,561.3 1109.5,581.0 1106.5,552.4 1101.1,555.0 901.4,160.8" fill="#FF5252"/><polygon points="1111.0,580.1 1151.9,426.6 1158.2,428.1 1155.0,399.5 1138.8,423.3 1145.1,424.9 1110.0,579.9" fill="#FF5252"/><polygon points="1155.6,400.4 1214.1,464.2 1209.5,468.7 1235.5,481.0 1223.7,454.7 1219.1,459.3 1156.4,399.6" fill="#FF5252"/><polygon points="1238.0,478.1 1258.8,413.0 1265.1,414.7 1262.5,386.0 1245.8,409.4 1252.0,411.1 1237.0,477.9" fill="#FF5252"/><g clip-path="url(#c2)"><g shape-rendering="crispEdges"><line x1="0" y1="630.5" x2="1292" y2="630.5" stroke="#FF0000"/><line x1="0" y1="648.5" x2="1292" y2="648.5" stroke="#FF0000" stroke-dasharray="9 3 3 3" stroke-dashoffset="-1"/><line x1="0" y1="671.5" x2="1292" y2="671.5" stroke="#808080" stroke-dasharray="3 3" stroke-dashoffset="-2"/><line x1="0" y1="694.5" x2="1292" y2="694.5" stroke="#0000FF" stroke-dasharray="9 3 3 3" stroke-dashoffset="-1"/><line x1="0" y1="712.5" x2="1292" y2="712.5" stroke="#0000FF"/></g><path d="M-2.5,659.1 L1.5,658.6 L5.5,657.8 L9.5,654.6 L13.5,667.5 L17.5,665.3 L21.5,651.2 L25.5,648.7 L29.5,655.0 L33.5,652.7 L37.5,650.4 L41.5,651.9 L45.5,651.3 L49.5,644.6 L53.5,643.0 L57.5,641.1 L61.5,638.9 L65.5,639.1 L69.5,632.8 L73.5,632.7 L77.5,631.9 L81.5,637.3 L85.5,636.8 L89.5,643.8 L93.5,654.0 L97.5,648.7 L101.5,647.8 L105.5,646.0 L109.5,637.7 L113.5,635.3 L117.5,633.3 L121.5,634.5 L125.5,639.2 L129.5,638.0 L133.5,636.4 L137.5,634.7 L141.5,629.4 L145.5,631.3 L149.5,630.5 L153.5,630.4 L157.5,636.4 L161.5,647.4 L165.5,642.5 L169.5,641.8 L173.5,641.9 L177.5,647.8 L181.5,645.4 L185.5,639.4 L189.5,637.0 L193.5,635.6 L197.5,635.7 L201.5,635.0 L205.5,635.7 L209.5,630.6 L213.5,627.5 L217.5,627.8 L221.5,640.2 L225.5,641.6 L229.5,659.4 L233.5,657.1 L237.5,667.9 L241.5,671.5 L245.5,673.0 L249.5,677.1 L253.5,683.4 L257.5,682.6 L261.5,688.3 L265.5,693.7 L269.5,682.3 L273.5,681.8 L277.5,684.2 L281.5,684.1 L285.5,678.1 L289.5,673.5 L293.5,672.8 L297.5,672.5 L301.5,673.1 L305.5,671.0 L309.5,667.3 L313.5,666.1 L317.5,667.8 L321.5,671.0 L325.5,674.3 L329.5,672.5 L333.5,679.6 L337.5,674.9 L341.5,676.9 L345.5,679.4 L349.5,679.8 L353.5,684.1 L357.5,683.0 L361.5,680.3 L365.5,677.2 L369.5,672.5 L373.5,670.5 L377.5,669.2 L381.5,665.5 L385.5,664.2 L389.5,666.6 L393.5,663.9 L397.5,662.6 L401.5,662.9 L405.5,664.8 L409.5,665.4 L413.5,664.1 L417.5,664.8 L421.5,666.8 L425.5,665.9 L429.5,663.8 L433.5,663.2 L437.5,661.1 L441.5,664.3 L445.5,663.0 L449.5,662.1 L453.5,663.8 L457.5,663.8 L461.5,662.5 L465.5,665.3 L469.5,676.3 L473.5,679.5 L477.5,673.6 L481.5,675.0 L485.5,675.9 L489.5,670.5 L493.5,668.1 L497.5,666.6 L501.5,671.2 L505.5,671.3 L509.5,670.6 L513.5,673.1 L517.5,672.4 L521.5,672.6 L525.5,675.4 L529.5,680.7 L533.5,680.3 L537.5,684.8 L541.5,680.7 L545.5,683.1 L549.5,679.1 L553.5,675.5 L557.5,676.2 L561.5,667.7 L565.5,667.8 L569.5,668.5 L573.5,669.1 L577.5,665.2 L581.5,668.5 L585.5,667.0 L589.5,670.1 L593.5,669.1 L597.5,668.1 L601.5,666.8 L605.5,666.1 L609.5,664.3 L613.5,663.1 L617.5,658.1 L621.5,650.0 L625.5,653.1 L629.5,651.6 L633.5,648.9 L637.5,647.6 L641.5,646.1 L645.5,652.0 L649.5,654.0 L653.5,654.3 L657.5,660.5 L661.5,657.4 L665.5,660.3 L669.5,656.6 L673.5,655.6 L677.5,658.2 L681.5,657.4 L685.5,655.9 L689.5,661.3 L693.5,659.6 L697.5,658.6 L701.5,661.9 L705.5,661.9 L709.5,660.8 L713.5,660.9 L717.5,661.0 L721.5,660.4 L725.5,661.8 L729.5,656.1 L733.5,653.7 L737.5,650.0 L741.5,644.5 L745.5,641.4 L749.5,641.7 L753.5,653.2 L757.5,657.1 L761.5,655.7 L765.5,651.1 L769.5,660.9 L773.5,670.6 L777.5,688.5 L781.5,684.3 L785.5,685.7 L789.5,678.3 L793.5,676.3 L797.5,672.5 L801.5,674.6 L805.5,675.8 L809.5,675.3 L813.5,671.0 L817.5,673.6 L821.5,673.8 L825.5,678.9 L829.5,681.4 L833.5,680.0 L837.5,675.9 L841.5,676.9 L845.5,678.7 L849.5,676.3 L853.5,671.8 L857.5,671.2 L861.5,679.9 L865.5,675.7 L869.5,678.1 L873.5,681.3 L877.5,679.6 L881.5,675.4 L885.5,671.8 L889.5,670.0 L893.5,667.9 L897.5,665.8 L901.5,662.8 L905.5,665.7 L909.5,664.7 L913.5,665.7 L917.5,666.9 L921.5,667.9 L925.5,668.5 L929.5,667.6 L933.5,669.1 L937.5,670.9 L941.5,667.8 L945.5,672.3 L949.5,678.5 L953.5,682.2 L957.5,677.8 L961.5,680.7 L965.5,681.8 L969.5,680.3 L973.5,685.7 L977.5,687.8 L981.5,688.5 L985.5,689.2 L989.5,692.8 L993.5,685.9 L997.5,689.7 L1001.5,688.5 L1005.5,686.1 L1009.5,683.3 L1013.5,684.4 L1017.5,684.1 L1021.5,686.2 L1025.5,685.3 L1029.5,686.3 L1033.5,686.1 L1037.5,686.6 L1041.5,697.5 L1045.5,697.1 L1049.5,703.8 L1053.5,701.1 L1057.5,699.4 L1061.5,707.3 L1065.5,711.0 L1069.5,709.8 L1073.5,704.6 L1077.5,699.9 L1081.5,696.9 L1085.5,698.1 L1089.5,701.2 L1093.5,703.4 L1097.5,707.0 L1101.5,710.9 L1105.5,713.3 L1109.5,715.1 L1113.5,693.7 L1117.5,692.2 L1121.5,693.2 L1125.5,696.7 L1129.5,694.6 L1133.5,688.6 L1137.5,688.7 L1141.5,690.4 L1145.5,685.5 L1149.5,675.6 L1153.5,676.4 L1157.5,677.3 L1161.5,677.9 L1165.5,676.8 L1169.5,679.5 L1173.5,677.0 L1177.5,682.2 L1181.5,684.0 L1185.5,682.4 L1189.5,686.9 L1193.5,687.8 L1197.5,684.7 L1201.5,681.0 L1205.5,681.9 L1209.5,681.3 L1213.5,676.4 L1217.5,675.5 L1221.5,678.2 L1225.5,675.8" fill="none" stroke="#FF0000" stroke-width="1" shape-rendering="crispEdges"/><path d="M-2.5,662.4 L1.5,662.3 L5.5,662.8 L9.5,659.3 L13.5,678.8 L17.5,671.0 L21.5,648.2 L25.5,644.8 L29.5,652.7 L33.5,649.5 L37.5,647.3 L41.5,650.1 L45.5,649.8 L49.5,640.7 L53.5,638.2 L57.5,636.1 L61.5,633.6 L65.5,633.8 L69.5,627.2 L73.5,627.1 L77.5,624.6 L81.5,630.5 L85.5,631.1 L89.5,641.8 L93.5,656.1 L97.5,648.9 L101.5,648.1 L105.5,646.1 L109.5,636.0 L113.5,633.7 L117.5,631.9 L121.5,634.0 L125.5,640.1 L129.5,638.2 L133.5,635.8 L137.5,633.4 L141.5,626.7 L145.5,629.0 L149.5,627.8 L153.5,627.4 L157.5,635.6 L161.5,649.9 L165.5,642.2 L169.5,640.5 L173.5,640.1 L177.5,649.1 L181.5,647.0 L185.5,638.4 L189.5,635.2 L193.5,633.2 L197.5,633.2 L201.5,632.6 L205.5,633.9 L209.5,628.1 L213.5,625.1 L217.5,624.6 L221.5,638.0 L225.5,637.1 L229.5,663.7 L233.5,660.8 L237.5,673.6 L241.5,677.6 L245.5,679.4 L249.5,684.2 L253.5,691.2 L257.5,690.5 L261.5,696.6 L265.5,701.9 L269.5,686.2 L273.5,685.3 L277.5,687.8 L281.5,687.8 L285.5,679.7 L289.5,673.7 L293.5,672.8 L297.5,672.2 L301.5,672.8 L305.5,669.7 L309.5,664.4 L313.5,662.7 L317.5,665.0 L321.5,669.8 L325.5,674.6 L329.5,673.1 L333.5,684.3 L337.5,678.5 L341.5,677.9 L345.5,681.8 L349.5,682.7 L353.5,689.3 L357.5,686.1 L361.5,678.6 L365.5,675.4 L369.5,669.9 L373.5,668.3 L377.5,666.7 L381.5,661.5 L385.5,659.1 L389.5,662.7 L393.5,658.5 L397.5,656.5 L401.5,657.1 L405.5,661.4 L409.5,662.6 L413.5,659.9 L417.5,661.0 L421.5,665.2 L425.5,664.0 L429.5,660.7 L433.5,660.2 L437.5,657.0 L441.5,661.8 L445.5,658.2 L449.5,655.7 L453.5,659.9 L457.5,660.8 L461.5,658.7 L465.5,664.2 L469.5,682.6 L473.5,687.3 L477.5,676.6 L481.5,679.1 L485.5,682.7 L489.5,676.0 L493.5,669.6 L497.5,664.5 L501.5,673.0 L505.5,674.1 L509.5,672.4 L513.5,675.4 L517.5,673.2 L521.5,673.5 L525.5,678.1 L529.5,686.5 L533.5,687.3 L537.5,695.4 L541.5,689.6 L545.5,693.4 L549.5,687.8 L553.5,678.3 L557.5,677.1 L561.5,663.3 L565.5,662.9 L569.5,665.1 L573.5,667.3 L577.5,659.5 L581.5,663.5 L585.5,661.4 L589.5,666.4 L593.5,664.9 L597.5,663.4 L601.5,661.4 L605.5,660.3 L609.5,657.6 L613.5,655.0 L617.5,649.1 L621.5,638.8 L625.5,644.2 L629.5,644.9 L633.5,641.5 L637.5,640.1 L641.5,638.3 L645.5,647.8 L649.5,650.8 L653.5,651.1 L657.5,661.1 L661.5,656.9 L665.5,662.0 L669.5,656.9 L673.5,652.9 L677.5,657.5 L681.5,656.5 L685.5,653.9 L689.5,660.8 L693.5,658.0 L697.5,656.6 L701.5,663.5 L705.5,665.5 L709.5,663.3 L713.5,659.9 L717.5,661.3 L721.5,660.8 L725.5,663.4 L729.5,656.1 L733.5,652.7 L737.5,647.0 L741.5,639.2 L745.5,634.9 L749.5,634.4 L753.5,651.6 L757.5,657.6 L761.5,656.1 L765.5,649.8 L769.5,660.0 L773.5,671.1 L777.5,692.7 L781.5,691.6 L785.5,693.2 L789.5,683.2 L793.5,680.2 L797.5,674.1 L801.5,676.9 L805.5,679.5 L809.5,679.6 L813.5,673.9 L817.5,676.8 L821.5,675.8 L825.5,683.3 L829.5,687.4 L833.5,685.2 L837.5,677.7 L841.5,677.8 L845.5,681.6 L849.5,679.3 L853.5,671.4 L857.5,669.4 L861.5,681.0 L865.5,674.6 L869.5,678.4 L873.5,683.4 L877.5,680.8 L881.5,673.8 L885.5,668.1 L889.5,665.3 L893.5,663.0 L897.5,660.7 L901.5,657.0 L905.5,661.7 L909.5,659.2 L913.5,659.8 L917.5,663.9 L921.5,667.5 L925.5,669.2 L929.5,668.6 L933.5,672.0 L937.5,673.4 L941.5,666.3 L945.5,673.1 L949.5,683.3 L953.5,689.0 L957.5,679.6 L961.5,683.2 L965.5,686.0 L969.5,681.3 L973.5,689.4 L977.5,693.5 L981.5,694.8 L985.5,692.8 L989.5,697.4 L993.5,687.2 L997.5,694.2 L1001.5,693.6 L1005.5,687.6 L1009.5,683.0 L1013.5,685.1 L1017.5,685.1 L1021.5,689.7 L1025.5,687.8 L1029.5,688.4 L1033.5,688.0 L1037.5,688.6 L1041.5,704.5 L1045.5,703.9 L1049.5,713.0 L1053.5,708.6 L1057.5,705.3 L1061.5,713.8 L1065.5,717.1 L1069.5,716.3 L1073.5,709.6 L1077.5,702.0 L1081.5,696.4 L1085.5,697.1 L1089.5,701.0 L1093.5,704.0 L1097.5,708.6 L1101.5,713.4 L1105.5,716.4 L1109.5,718.8 L1113.5,693.6 L1117.5,690.9 L1121.5,691.7 L1125.5,696.6 L1129.5,694.1 L1133.5,687.4 L1137.5,686.6 L1141.5,687.6 L1145.5,680.8 L1149.5,667.9 L1153.5,669.0 L1157.5,670.8 L1161.5,671.8 L1165.5,670.6 L1169.5,675.9 L1173.5,673.4 L1177.5,681.2 L1181.5,683.3 L1185.5,681.7 L1189.5,688.5 L1193.5,689.8 L1197.5,684.5 L1201.5,678.5 L1205.5,680.6 L1209.5,680.1 L1213.5,671.3 L1217.5,669.5 L1221.5,676.1 L1225.5,672.2" fill="none" stroke="#0000FF" stroke-width="1" shape-rendering="crispEdges"/><path d="M-2.5,672.2 L1.5,672.4 L5.5,675.5 L9.5,667.4 L13.5,701.9 L17.5,679.6 L21.5,641.3 L25.5,636.6 L29.5,648.3 L33.5,643.4 L37.5,641.2 L41.5,647.1 L45.5,647.2 L49.5,632.3 L53.5,628.4 L57.5,625.7 L61.5,622.9 L65.5,623.1 L69.5,617.0 L73.5,617.0 L77.5,611.6 L81.5,620.8 L85.5,623.4 L89.5,643.8 L93.5,667.5 L97.5,653.1 L101.5,652.3 L105.5,649.1 L109.5,631.9 L113.5,629.7 L117.5,628.1 L121.5,632.9 L125.5,644.1 L129.5,639.8 L133.5,634.9 L137.5,630.2 L141.5,620.3 L145.5,624.2 L149.5,622.1 L153.5,621.3 L157.5,637.2 L161.5,660.7 L165.5,643.5 L169.5,639.5 L173.5,638.0 L177.5,655.2 L181.5,651.0 L185.5,634.8 L189.5,629.7 L193.5,626.5 L197.5,626.2 L201.5,625.8 L205.5,628.7 L209.5,621.5 L213.5,619.6 L217.5,617.8 L221.5,636.6 L225.5,630.9 L229.5,676.1 L233.5,671.1 L237.5,687.8 L241.5,692.3 L245.5,694.4 L249.5,700.1 L253.5,707.3 L257.5,706.8 L261.5,712.4 L265.5,716.3 L269.5,689.0 L273.5,686.9 L277.5,690.4 L281.5,690.4 L285.5,675.4 L289.5,665.5 L293.5,664.1 L297.5,662.8 L301.5,664.0 L305.5,657.9 L309.5,648.7 L313.5,645.8 L317.5,651.8 L321.5,663.9 L325.5,675.0 L329.5,672.0 L333.5,695.6 L337.5,684.1 L341.5,679.5 L345.5,687.0 L349.5,688.5 L353.5,701.4 L357.5,691.8 L361.5,673.7 L365.5,668.7 L369.5,659.5 L373.5,658.5 L377.5,656.2 L381.5,646.8 L385.5,642.2 L389.5,653.2 L393.5,644.3 L397.5,640.5 L401.5,642.6 L405.5,655.1 L409.5,658.6 L413.5,651.2 L417.5,654.5 L421.5,666.8 L425.5,663.2 L429.5,654.5 L433.5,653.4 L437.5,646.6 L441.5,660.5 L445.5,651.1 L449.5,644.8 L453.5,657.3 L457.5,660.5 L461.5,655.4 L465.5,669.4 L469.5,701.6 L473.5,708.5 L477.5,682.7 L481.5,687.6 L485.5,696.4 L489.5,684.3 L493.5,669.9 L497.5,657.7 L501.5,676.4 L505.5,679.3 L509.5,674.7 L513.5,680.5 L517.5,674.3 L521.5,674.8 L525.5,685.3 L529.5,700.7 L533.5,702.7 L537.5,716.9 L541.5,703.8 L545.5,710.9 L549.5,700.2 L553.5,678.2 L557.5,674.9 L561.5,649.5 L565.5,649.0 L569.5,654.6 L573.5,660.2 L577.5,644.1 L581.5,652.6 L585.5,648.5 L589.5,660.0 L593.5,656.6 L597.5,653.2 L601.5,649.2 L605.5,646.9 L609.5,641.6 L613.5,636.2 L617.5,628.9 L621.5,617.1 L625.5,629.9 L629.5,634.7 L633.5,630.2 L637.5,628.5 L641.5,626.2 L645.5,647.3 L649.5,653.0 L653.5,653.3 L657.5,672.7 L661.5,662.5 L665.5,672.6 L669.5,661.7 L673.5,651.3 L677.5,660.9 L681.5,658.7 L685.5,652.7 L689.5,665.5 L693.5,658.6 L697.5,655.6 L701.5,671.2 L705.5,676.6 L709.5,670.7 L713.5,661.0 L717.5,664.8 L721.5,662.9 L725.5,670.2 L729.5,652.7 L733.5,647.1 L737.5,638.0 L741.5,628.6 L745.5,623.5 L749.5,621.3 L753.5,653.7 L757.5,664.2 L761.5,662.0 L765.5,650.3 L769.5,663.2 L773.5,676.4 L777.5,701.4 L781.5,704.6 L785.5,706.4 L789.5,690.1 L793.5,685.1 L797.5,674.0 L801.5,679.4 L805.5,684.8 L809.5,685.6 L813.5,674.4 L817.5,679.6 L821.5,676.5 L825.5,691.4 L829.5,699.3 L833.5,694.1 L837.5,676.8 L841.5,676.2 L845.5,685.5 L849.5,680.9 L853.5,663.9 L857.5,659.1 L861.5,682.9 L865.5,669.7 L869.5,677.1 L873.5,686.9 L877.5,680.7 L881.5,667.1 L885.5,656.5 L889.5,651.7 L893.5,648.6 L897.5,645.5 L901.5,640.0 L905.5,653.1 L909.5,647.2 L913.5,648.8 L917.5,660.1 L921.5,669.9 L925.5,674.3 L929.5,671.9 L933.5,681.0 L937.5,684.0 L941.5,663.1 L945.5,678.3 L949.5,697.3 L953.5,706.5 L957.5,682.4 L961.5,688.1 L965.5,694.5 L969.5,682.2 L973.5,696.9 L977.5,704.7 L981.5,707.2 L985.5,700.1 L989.5,706.6 L993.5,684.5 L997.5,699.0 L1001.5,698.8 L1005.5,685.0 L1009.5,677.5 L1013.5,682.3 L1017.5,681.8 L1021.5,693.2 L1025.5,688.2 L1029.5,689.9 L1033.5,688.8 L1037.5,690.6 L1041.5,717.5 L1045.5,715.1 L1049.5,727.9 L1053.5,718.5 L1057.5,712.5 L1061.5,722.1 L1065.5,724.1 L1069.5,724.2 L1073.5,713.4 L1077.5,699.3 L1081.5,688.1 L1085.5,689.0 L1089.5,696.1 L1093.5,701.6 L1097.5,708.8 L1101.5,715.1 L1105.5,719.2 L1109.5,722.8 L1113.5,687.9 L1117.5,683.5 L1121.5,684.3 L1125.5,693.8 L1129.5,690.1 L1133.5,680.3 L1137.5,677.9 L1141.5,679.4 L1145.5,667.0 L1149.5,648.3 L1153.5,650.6 L1157.5,655.7 L1161.5,658.6 L1165.5,656.9 L1169.5,671.1 L1173.5,667.0 L1177.5,684.1 L1181.5,687.4 L1185.5,683.4 L1189.5,697.0 L1193.5,698.8 L1197.5,686.5 L1201.5,673.6 L1205.5,679.9 L1209.5,679.4 L1213.5,659.8 L1217.5,656.0 L1221.5,672.8 L1225.5,663.5" fill="none" stroke="#000000" stroke-width="1" shape-rendering="crispEdges"/></g><g clip-path="url(#c3)"><g shape-rendering="crispEdges"><rect x="0" y="778" width="3" height="1" fill="#FFA07A"/><rect x="4" y="778" width="3" height="1" fill="#FFA07A"/><rect x="8" y="778" width="3" height="0" fill="#FFA07A"/><rect x="12" y="778" width="3" height="2" fill="#FFA07A"/><rect x="16" y="778" width="3" height="1" fill="#FFA07A"/><rect x="20" y="773" width="3" height="5" fill="#1E90FF"/><rect x="24" y="772" width="3" height="6" fill="#1E90FF"/><rect x="28" y="774" width="3" height="4" fill="#1E90FF"/><rect x="32" y="776" width="3" height="3" fill="#1E90FF"/><rect x="36" y="776" width="3" height="2" fill="#1E90FF"/><rect x="40" y="778" width="3" height="0" fill="#1E90FF"/><rect x="44" y="778" width="3" height="1" fill="#FFA07A"/><rect x="48" y="776" width="3" height="2" fill="#1E90FF"/><rect x="52" y="775" width="3" height="3" fill="#1E90FF"/><rect x="56" y="775" width="3" height="3" fill="#1E90FF"/><rect x="60" y="775" width="3" height="4" fill="#1E90FF"/><rect x="64" y="776" width="3" height="2" fill="#1E90FF"/><rect x="68" y="771" width="3" height="7" fill="#1E90FF"/><rect x="72" y="772" width="3" height="6" fill="#1E90FF"/><rect x="76" y="774" width="3" height="5" fill="#1E90FF"/><rect x="80" y="777" width="3" height="1" fill="#1E90FF"/><rect x="84" y="778" width="3" height="1" fill="#FFA07A"/><rect x="88" y="778" width="3" height="4" fill="#FFA07A"/><rect x="92" y="778" width="3" height="8" fill="#FFA07A"/><rect x="96" y="778" width="3" height="6" fill="#FFA07A"/><rect x="100" y="778" width="3" height="4" fill="#FFA07A"/><rect x="104" y="778" width="3" height="3" fill="#FFA07A"/><rect x="108" y="774" width="3" height="4" fill="#1E90FF"/><rect x="112" y="772" width="3" height="6" fill="#1E90FF"/><rect x="116" y="772" width="3" height="6" fill="#1E90FF"/><rect x="120" y="775" width="3" height="3" fill="#1E90FF"/><rect x="124" y="778" width="3" height="1" fill="#FFA07A"/><rect x="128" y="778" width="3" height="2" fill="#FFA07A"/><rect x="132" y="778" width="3" height="1" fill="#FFA07A"/><rect x="136" y="777" width="3" height="1" fill="#1E90FF"/><rect x="140" y="771" width="3" height="7" fill="#1E90FF"/><rect x="144" y="772" width="3" height="6" fill="#1E90FF"/><rect x="148" y="774" width="3" height="4" fill="#1E90FF"/><rect x="152" y="777" width="3" height="2" fill="#1E90FF"/><rect x="156" y="778" width="3" height="3" fill="#FFA07A"/><rect x="160" y="778" width="3" height="9" fill="#FFA07A"/><rect x="164" y="778" width="3" height="5" fill="#FFA07A"/><rect x="168" y="778" width="3" height="3" fill="#FFA07A"/><rect x="172" y="778" width="3" height="2" fill="#FFA07A"/><rect x="176" y="778" width="3" height="5" fill="#FFA07A"/><rect x="180" y="778" width="3" height="3" fill="#FFA07A"/><rect x="184" y="773" width="3" height="5" fill="#1E90FF"/><rect x="188" y="769" width="3" height="9" fill="#1E90FF"/><rect x="192" y="768" width="3" height="10" fill="#1E90FF"/><rect x="196" y="771" width="3" height="7" fill="#1E90FF"/><rect x="200" y="774" width="3" height="5" fill="#1E90FF"/><rect x="204" y="777" width="3" height="1" fill="#1E90FF"/><rect x="208" y="770" width="3" height="8" fill="#1E90FF"/><rect x="212" y="762" width="3" height="16" fill="#1E90FF"/><rect x="216" y="763" width="3" height="15" fill="#1E90FF"/><rect x="220" y="775" width="3" height="3" fill="#1E90FF"/><rect x="224" y="778" width="3" height="3" fill="#FFA07A"/><rect x="228" y="778" width="3" height="18" fill="#FFA07A"/><rect x="232" y="778" width="3" height="18" fill="#FFA07A"/><rect x="236" y="778" width="3" height="27" fill="#FFA07A"/><rect x="240" y="778" width="3" height="29" fill="#FFA07A"/><rect x="244" y="778" width="3" height="27" fill="#FFA07A"/><rect x="248" y="778" width="3" height="26" fill="#FFA07A"/><rect x="252" y="778" width="3" height="31" fill="#FFA07A"/><rect x="256" y="778" width="3" height="24" fill="#FFA07A"/><rect x="260" y="778" width="3" height="27" fill="#FFA07A"/><rect x="264" y="778" width="3" height="35" fill="#FFA07A"/><rect x="268" y="778" width="3" height="11" fill="#FFA07A"/><rect x="272" y="775" width="3" height="3" fill="#1E90FF"/><rect x="276" y="772" width="3" height="6" fill="#1E90FF"/><rect x="280" y="769" width="3" height="9" fill="#1E90FF"/><rect x="284" y="758" width="3" height="20" fill="#1E90FF"/><rect x="288" y="749" width="3" height="30" fill="#1E90FF"/><rect x="292" y="748" width="3" height="30" fill="#1E90FF"/><rect x="296" y="752" width="3" height="26" fill="#1E90FF"/><rect x="300" y="759" width="3" height="19" fill="#1E90FF"/><rect x="304" y="761" width="3" height="17" fill="#1E90FF"/><rect x="308" y="759" width="3" height="19" fill="#1E90FF"/><rect x="312" y="760" width="3" height="18" fill="#1E90FF"/><rect x="316" y="767" width="3" height="11" fill="#1E90FF"/><rect x="320" y="777" width="3" height="1" fill="#1E90FF"/><rect x="324" y="778" width="3" height="8" fill="#FFA07A"/><rect x="328" y="778" width="3" height="6" fill="#FFA07A"/><rect x="332" y="778" width="3" height="17" fill="#FFA07A"/><rect x="336" y="778" width="3" height="9" fill="#FFA07A"/><rect x="340" y="778" width="3" height="7" fill="#FFA07A"/><rect x="344" y="778" width="3" height="8" fill="#FFA07A"/><rect x="348" y="778" width="3" height="5" fill="#FFA07A"/><rect x="352" y="778" width="3" height="9" fill="#FFA07A"/><rect x="356" y="778" width="3" height="4" fill="#FFA07A"/><rect x="360" y="777" width="3" height="1" fill="#1E90FF"/><rect x="364" y="773" width="3" height="5" fill="#1E90FF"/><rect x="368" y="767" width="3" height="11" fill="#1E90FF"/><rect x="372" y="766" width="3" height="12" fill="#1E90FF"/><rect x="376" y="769" width="3" height="9" fill="#1E90FF"/><rect x="380" y="768" width="3" height="10" fill="#1E90FF"/><rect x="384" y="769" width="3" height="9" fill="#1E90FF"/><rect x="388" y="775" width="3" height="3" fill="#1E90FF"/><rect x="392" y="774" width="3" height="4" fill="#1E90FF"/><rect x="396" y="774" width="3" height="4" fill="#1E90FF"/><rect x="400" y="776" width="3" height="2" fill="#1E90FF"/><rect x="404" y="778" width="3" height="2" fill="#FFA07A"/><rect x="408" y="778" width="3" height="4" fill="#FFA07A"/><rect x="412" y="778" width="3" height="3" fill="#FFA07A"/><rect x="416" y="778" width="3" height="3" fill="#FFA07A"/><rect x="420" y="778" width="3" height="5" fill="#FFA07A"/><rect x="424" y="778" width="3" height="4" fill="#FFA07A"/><rect x="428" y="778" width="3" height="1" fill="#FFA07A"/><rect x="432" y="778" width="3" height="0" fill="#1E90FF"/><rect x="436" y="775" width="3" height="3" fill="#1E90FF"/><rect x="440" y="778" width="3" height="0" fill="#FFA07A"/><rect x="444" y="778" width="3" height="0" fill="#FFA07A"/><rect x="448" y="778" width="3" height="0" fill="#1E90FF"/><rect x="452" y="778" width="3" height="2" fill="#FFA07A"/><rect x="456" y="778" width="3" height="3" fill="#FFA07A"/><rect x="460" y="778" width="3" height="2" fill="#FFA07A"/><rect x="464" y="778" width="3" height="4" fill="#FFA07A"/><rect x="468" y="778" width="3" height="12" fill="#FFA07A"/><rect x="472" y="778" width="3" height="12" fill="#FFA07A"/><rect x="476" y="778" width="3" height="4" fill="#FFA07A"/><rect x="480" y="778" width="3" height="2" fill="#FFA07A"/><rect x="484" y="778" width="3" height="2" fill="#FFA07A"/><rect x="488" y="775" width="3" height="3" fill="#1E90FF"/><rect x="492" y="772" width="3" height="6" fill="#1E90FF"/><rect x="496" y="771" width="3" height="7" fill="#1E90FF"/><rect x="500" y="776" width="3" height="2" fill="#1E90FF"/><rect x="504" y="778" width="3" height="1" fill="#1E90FF"/><rect x="508" y="777" width="3" height="1" fill="#1E90FF"/><rect x="512" y="778" width="3" height="1" fill="#FFA07A"/><rect x="516" y="778" width="3" height="0" fill="#FFA07A"/><rect x="520" y="778" width="3" height="0" fill="#FFA07A"/><rect x="524" y="778" width="3" height="2" fill="#FFA07A"/><rect x="528" y="778" width="3" height="6" fill="#FFA07A"/><rect x="532" y="778" width="3" height="6" fill="#FFA07A"/><rect x="536" y="778" width="3" height="8" fill="#FFA07A"/><rect x="540" y="778" width="3" height="3" fill="#FFA07A"/><rect x="544" y="778" width="3" height="2" fill="#FFA07A"/><rect x="548" y="777" width="3" height="1" fill="#1E90FF"/><rect x="552" y="773" width="3" height="5" fill="#1E90FF"/><rect x="556" y="774" width="3" height="4" fill="#1E90FF"/><rect x="560" y="769" width="3" height="9" fill="#1E90FF"/><rect x="564" y="770" width="3" height="8" fill="#1E90FF"/><rect x="568" y="772" width="3" height="6" fill="#1E90FF"/><rect x="572" y="774" width="3" height="4" fill="#1E90FF"/><rect x="576" y="773" width="3" height="5" fill="#1E90FF"/><rect x="580" y="776" width="3" height="2" fill="#1E90FF"/><rect x="584" y="776" width="3" height="2" fill="#1E90FF"/><rect x="588" y="778" width="3" height="1" fill="#FFA07A"/><rect x="592" y="778" width="3" height="1" fill="#FFA07A"/><rect x="596" y="778" width="3" height="0" fill="#1E90FF"/><rect x="600" y="777" width="3" height="1" fill="#1E90FF"/><rect x="604" y="776" width="3" height="2" fill="#1E90FF"/><rect x="608" y="775" width="3" height="3" fill="#1E90FF"/><rect x="612" y="775" width="3" height="3" fill="#1E90FF"/><rect x="616" y="774" width="3" height="4" fill="#1E90FF"/><rect x="620" y="770" width="3" height="8" fill="#1E90FF"/><rect x="624" y="773" width="3" height="5" fill="#1E90FF"/><rect x="628" y="775" width="3" height="3" fill="#1E90FF"/><rect x="632" y="775" width="3" height="3" fill="#1E90FF"/><rect x="636" y="775" width="3" height="3" fill="#1E90FF"/><rect x="640" y="776" width="3" height="2" fill="#1E90FF"/><rect x="644" y="778" width="3" height="3" fill="#FFA07A"/><rect x="648" y="778" width="3" height="6" fill="#FFA07A"/><rect x="652" y="778" width="3" height="6" fill="#FFA07A"/><rect x="656" y="778" width="3" height="9" fill="#FFA07A"/><rect x="660" y="778" width="3" height="6" fill="#FFA07A"/><rect x="664" y="778" width="3" height="6" fill="#FFA07A"/><rect x="668" y="778" width="3" height="2" fill="#FFA07A"/><rect x="672" y="777" width="3" height="1" fill="#1E90FF"/><rect x="676" y="778" width="3" height="1" fill="#FFA07A"/><rect x="680" y="778" width="3" height="0" fill="#FFA07A"/><rect x="684" y="777" width="3" height="1" fill="#1E90FF"/><rect x="688" y="778" width="3" height="2" fill="#FFA07A"/><rect x="692" y="778" width="3" height="2" fill="#FFA07A"/><rect x="696" y="778" width="3" height="1" fill="#FFA07A"/><rect x="700" y="778" width="3" height="2" fill="#FFA07A"/><rect x="704" y="778" width="3" height="2" fill="#FFA07A"/><rect x="708" y="778" width="3" height="1" fill="#FFA07A"/><rect x="712" y="778" width="3" height="1" fill="#FFA07A"/><rect x="716" y="778" width="3" height="0" fill="#FFA07A"/><rect x="720" y="778" width="3" height="0" fill="#1E90FF"/><rect x="724" y="778" width="3" height="1" fill="#FFA07A"/><rect x="728" y="775" width="3" height="3" fill="#1E90FF"/><rect x="732" y="773" width="3" height="5" fill="#1E90FF"/><rect x="736" y="772" width="3" height="7" fill="#1E90FF"/><rect x="740" y="768" width="3" height="10" fill="#1E90FF"/><rect x="744" y="766" width="3" height="12" fill="#1E90FF"/><rect x="748" y="769" width="3" height="9" fill="#1E90FF"/><rect x="752" y="777" width="3" height="1" fill="#1E90FF"/><rect x="756" y="778" width="3" height="4" fill="#FFA07A"/><rect x="760" y="778" width="3" height="5" fill="#FFA07A"/><rect x="764" y="778" width="3" height="2" fill="#FFA07A"/><rect x="768" y="778" width="3" height="5" fill="#FFA07A"/><rect x="772" y="778" width="3" height="11" fill="#FFA07A"/><rect x="776" y="778" width="3" height="24" fill="#FFA07A"/><rect x="780" y="778" width="3" height="17" fill="#FFA07A"/><rect x="784" y="778" width="3" height="15" fill="#FFA07A"/><rect x="788" y="778" width="3" height="5" fill="#FFA07A"/><rect x="792" y="778" width="3" height="0" fill="#1E90FF"/><rect x="796" y="774" width="3" height="4" fill="#1E90FF"/><rect x="800" y="775" width="3" height="3" fill="#1E90FF"/><rect x="804" y="777" width="3" height="1" fill="#1E90FF"/><rect x="808" y="776" width="3" height="2" fill="#1E90FF"/><rect x="812" y="772" width="3" height="6" fill="#1E90FF"/><rect x="816" y="774" width="3" height="5" fill="#1E90FF"/><rect x="820" y="775" width="3" height="3" fill="#1E90FF"/><rect x="824" y="778" width="3" height="2" fill="#FFA07A"/><rect x="828" y="778" width="3" height="5" fill="#FFA07A"/><rect x="832" y="778" width="3" height="3" fill="#FFA07A"/><rect x="836" y="776" width="3" height="2" fill="#1E90FF"/><rect x="840" y="776" width="3" height="2" fill="#1E90FF"/><rect x="844" y="777" width="3" height="1" fill="#1E90FF"/><rect x="848" y="776" width="3" height="2" fill="#1E90FF"/><rect x="852" y="772" width="3" height="6" fill="#1E90FF"/><rect x="856" y="771" width="3" height="7" fill="#1E90FF"/><rect x="860" y="778" width="3" height="2" fill="#FFA07A"/><rect x="864" y="778" width="3" height="0" fill="#1E90FF"/><rect x="868" y="778" width="3" height="1" fill="#FFA07A"/><rect x="872" y="778" width="3" height="3" fill="#FFA07A"/><rect x="876" y="778" width="3" height="1" fill="#FFA07A"/><rect x="880" y="775" width="3" height="3" fill="#1E90FF"/><rect x="884" y="772" width="3" height="6" fill="#1E90FF"/><rect x="888" y="771" width="3" height="7" fill="#1E90FF"/><rect x="892" y="772" width="3" height="6" fill="#1E90FF"/><rect x="896" y="773" width="3" height="6" fill="#1E90FF"/><rect x="900" y="773" width="3" height="6" fill="#1E90FF"/><rect x="904" y="777" width="3" height="1" fill="#1E90FF"/><rect x="908" y="778" width="3" height="0" fill="#FFA07A"/><rect x="912" y="778" width="3" height="2" fill="#FFA07A"/><rect x="916" y="778" width="3" height="3" fill="#FFA07A"/><rect x="920" y="778" width="3" height="4" fill="#FFA07A"/><rect x="924" y="778" width="3" height="4" fill="#FFA07A"/><rect x="928" y="778" width="3" height="3" fill="#FFA07A"/><rect x="932" y="778" width="3" height="3" fill="#FFA07A"/><rect x="936" y="778" width="3" height="3" fill="#FFA07A"/><rect x="940" y="778" width="3" height="0" fill="#FFA07A"/><rect x="944" y="778" width="3" height="2" fill="#FFA07A"/><rect x="948" y="778" width="3" height="6" fill="#FFA07A"/><rect x="952" y="778" width="3" height="7" fill="#FFA07A"/><rect x="956" y="778" width="3" height="2" fill="#FFA07A"/><rect x="960" y="778" width="3" height="2" fill="#FFA07A"/><rect x="964" y="778" width="3" height="2" fill="#FFA07A"/><rect x="968" y="778" width="3" height="0" fill="#1E90FF"/><rect x="972" y="778" width="3" height="3" fill="#FFA07A"/><rect x="976" y="778" width="3" height="5" fill="#FFA07A"/><rect x="980" y="778" width="3" height="4" fill="#FFA07A"/><rect x="984" y="778" width="3" height="2" fill="#FFA07A"/><rect x="988" y="778" width="3" height="3" fill="#FFA07A"/><rect x="992" y="776" width="3" height="2" fill="#1E90FF"/><rect x="996" y="777" width="3" height="1" fill="#1E90FF"/><rect x="1000" y="776" width="3" height="2" fill="#1E90FF"/><rect x="1004" y="774" width="3" height="4" fill="#1E90FF"/><rect x="1008" y="774" width="3" height="4" fill="#1E90FF"/><rect x="1012" y="775" width="3" height="3" fill="#1E90FF"/><rect x="1016" y="775" width="3" height="3" fill="#1E90FF"/><rect x="1020" y="776" width="3" height="2" fill="#1E90FF"/><rect x="1024" y="777" width="3" height="2" fill="#1E90FF"/><rect x="1028" y="777" width="3" height="1" fill="#1E90FF"/><rect x="1032" y="777" width="3" height="1" fill="#1E90FF"/><rect x="1036" y="778" width="3" height="0" fill="#1E90FF"/><rect x="1040" y="778" width="3" height="8" fill="#FFA07A"/><rect x="1044" y="778" width="3" height="8" fill="#FFA07A"/><rect x="1048" y="778" width="3" height="10" fill="#FFA07A"/><rect x="1052" y="778" width="3" height="6" fill="#FFA07A"/><rect x="1056" y="778" width="3" height="4" fill="#FFA07A"/><rect x="1060" y="778" width="3" height="11" fill="#FFA07A"/><rect x="1064" y="778" width="3" height="15" fill="#FFA07A"/><rect x="1068" y="778" width="3" height="12" fill="#FFA07A"/><rect x="1072" y="778" width="3" height="4" fill="#FFA07A"/><rect x="1076" y="775" width="3" height="3" fill="#1E90FF"/><rect x="1080" y="770" width="3" height="8" fill="#1E90FF"/><rect x="1084" y="770" width="3" height="8" fill="#1E90FF"/><rect x="1088" y="775" width="3" height="4" fill="#1E90FF"/><rect x="1092" y="778" width="3" height="0" fill="#FFA07A"/><rect x="1096" y="778" width="3" height="5" fill="#FFA07A"/><rect x="1100" y="778" width="3" height="12" fill="#FFA07A"/><rect x="1104" y="778" width="3" height="15" fill="#FFA07A"/><rect x="1108" y="778" width="3" height="15" fill="#FFA07A"/><rect x="1112" y="773" width="3" height="5" fill="#1E90FF"/><rect x="1116" y="767" width="3" height="11" fill="#1E90FF"/><rect x="1120" y="767" width="3" height="11" fill="#1E90FF"/><rect x="1124" y="774" width="3" height="4" fill="#1E90FF"/><rect x="1128" y="773" width="3" height="5" fill="#1E90FF"/><rect x="1132" y="766" width="3" height="12" fill="#1E90FF"/><rect x="1136" y="766" width="3" height="12" fill="#1E90FF"/><rect x="1140" y="769" width="3" height="9" fill="#1E90FF"/><rect x="1144" y="767" width="3" height="11" fill="#1E90FF"/><rect x="1148" y="757" width="3" height="21" fill="#1E90FF"/><rect x="1152" y="759" width="3" height="19" fill="#1E90FF"/><rect x="1156" y="766" width="3" height="12" fill="#1E90FF"/><rect x="1160" y="772" width="3" height="6" fill="#1E90FF"/><rect x="1164" y="775" width="3" height="3" fill="#1E90FF"/><rect x="1168" y="778" width="3" height="3" fill="#FFA07A"/><rect x="1172" y="778" width="3" height="3" fill="#FFA07A"/><rect x="1176" y="778" width="3" height="9" fill="#FFA07A"/><rect x="1180" y="778" width="3" height="11" fill="#FFA07A"/><rect x="1184" y="778" width="3" height="7" fill="#FFA07A"/><rect x="1188" y="778" width="3" height="9" fill="#FFA07A"/><rect x="1192" y="778" width="3" height="8" fill="#FFA07A"/><rect x="1196" y="778" width="3" height="3" fill="#FFA07A"/><rect x="1200" y="775" width="3" height="3" fill="#1E90FF"/><rect x="1204" y="775" width="3" height="3" fill="#1E90FF"/><rect x="1208" y="776" width="3" height="2" fill="#1E90FF"/><rect x="1212" y="772" width="3" height="6" fill="#1E90FF"/><rect x="1216" y="771" width="3" height="7" fill="#1E90FF"/><rect x="1220" y="774" width="3" height="4" fill="#1E90FF"/><rect x="1224" y="773" width="3" height="5" fill="#1E90FF"/></g><path d="M-2.5,777.2 L1.5,777.5 L5.5,777.7 L9.5,777.6 L13.5,778.6 L17.5,778.5 L21.5,775.0 L25.5,772.4 L29.5,771.9 L33.5,771.5 L37.5,771.2 L41.5,771.5 L45.5,772.0 L49.5,770.6 L53.5,769.4 L57.5,768.2 L61.5,766.9 L65.5,766.6 L69.5,762.9 L73.5,761.0 L77.5,760.0 L81.5,761.0 L85.5,762.2 L89.5,764.7 L93.5,768.7 L97.5,769.6 L101.5,770.5 L105.5,771.0 L109.5,767.6 L113.5,765.0 L117.5,763.1 L121.5,763.1 L125.5,764.6 L129.5,765.4 L133.5,765.3 L137.5,764.6 L141.5,760.1 L145.5,758.6 L149.5,757.7 L153.5,758.1 L157.5,760.5 L161.5,765.6 L165.5,766.0 L169.5,766.1 L173.5,766.7 L177.5,769.1 L181.5,769.4 L185.5,765.1 L189.5,760.7 L193.5,757.0 L197.5,755.8 L201.5,755.0 L205.5,755.7 L209.5,750.6 L213.5,742.8 L217.5,738.3 L221.5,741.2 L225.5,743.9 L229.5,754.8 L233.5,761.0 L237.5,772.7 L241.5,783.3 L245.5,791.4 L249.5,800.0 L253.5,811.8 L257.5,817.4 L261.5,827.5 L265.5,841.7 L269.5,837.5 L273.5,831.7 L277.5,829.0 L281.5,824.9 L285.5,814.4 L289.5,801.4 L293.5,791.5 L297.5,784.2 L301.5,779.9 L305.5,774.9 L309.5,767.7 L313.5,762.1 L317.5,760.9 L321.5,763.8 L325.5,769.3 L329.5,771.0 L333.5,779.9 L337.5,780.2 L341.5,782.0 L345.5,784.6 L349.5,785.4 L353.5,789.5 L357.5,789.5 L361.5,787.6 L365.5,784.3 L369.5,778.6 L373.5,774.5 L377.5,772.2 L381.5,768.8 L385.5,766.0 L389.5,766.9 L393.5,765.6 L397.5,764.1 L401.5,764.0 L405.5,766.0 L409.5,768.1 L413.5,768.6 L417.5,769.7 L421.5,772.1 L425.5,773.2 L429.5,772.4 L433.5,771.8 L437.5,770.1 L441.5,771.3 L445.5,771.4 L449.5,771.2 L453.5,772.6 L457.5,773.9 L461.5,774.4 L465.5,776.2 L469.5,782.7 L473.5,787.1 L477.5,785.9 L481.5,786.0 L485.5,786.7 L489.5,783.8 L493.5,780.5 L497.5,777.8 L501.5,778.7 L505.5,779.1 L509.5,778.8 L513.5,779.7 L517.5,779.7 L521.5,779.6 L525.5,780.9 L529.5,784.4 L533.5,786.0 L537.5,789.3 L541.5,788.8 L545.5,789.4 L549.5,787.8 L553.5,785.0 L557.5,784.0 L561.5,779.1 L565.5,776.6 L569.5,775.4 L573.5,775.0 L577.5,772.6 L581.5,772.8 L585.5,772.3 L589.5,773.5 L593.5,773.8 L597.5,773.5 L601.5,772.7 L605.5,772.0 L609.5,770.7 L613.5,769.4 L617.5,767.6 L621.5,763.5 L625.5,762.9 L629.5,762.5 L633.5,761.3 L637.5,760.6 L641.5,760.1 L645.5,762.5 L649.5,765.4 L653.5,767.6 L657.5,771.8 L661.5,772.8 L665.5,774.7 L669.5,773.9 L673.5,772.9 L677.5,773.5 L681.5,773.5 L685.5,772.9 L689.5,774.8 L693.5,775.1 L697.5,774.9 L701.5,776.1 L705.5,777.0 L709.5,777.0 L713.5,777.0 L717.5,777.1 L721.5,776.9 L725.5,777.3 L729.5,775.3 L733.5,773.1 L737.5,770.2 L741.5,765.7 L745.5,761.3 L749.5,759.4 L753.5,761.9 L757.5,765.0 L761.5,767.1 L765.5,766.6 L769.5,769.6 L773.5,774.8 L777.5,787.3 L781.5,790.8 L785.5,794.7 L789.5,793.1 L793.5,791.2 L797.5,788.4 L801.5,788.1 L805.5,788.1 L809.5,787.3 L813.5,783.7 L817.5,782.8 L821.5,782.0 L825.5,784.4 L829.5,787.2 L833.5,787.7 L837.5,785.5 L841.5,784.4 L845.5,784.7 L849.5,783.4 L853.5,780.0 L857.5,777.6 L861.5,781.1 L865.5,780.3 L869.5,780.7 L873.5,782.6 L877.5,782.3 L881.5,779.8 L885.5,776.7 L889.5,774.3 L893.5,772.4 L897.5,770.8 L901.5,768.9 L905.5,770.0 L909.5,770.4 L913.5,771.5 L917.5,773.2 L921.5,774.9 L925.5,776.3 L929.5,776.6 L933.5,777.4 L937.5,778.6 L941.5,777.8 L945.5,779.1 L949.5,782.3 L953.5,785.3 L957.5,784.4 L961.5,784.8 L965.5,785.3 L969.5,784.6 L973.5,786.7 L977.5,788.8 L981.5,789.9 L985.5,790.1 L989.5,791.6 L993.5,789.1 L997.5,789.2 L1001.5,788.0 L1005.5,785.9 L1009.5,784.6 L1013.5,783.9 L1017.5,782.9 L1021.5,782.8 L1025.5,782.3 L1029.5,782.3 L1033.5,782.2 L1037.5,782.2 L1041.5,787.7 L1045.5,790.0 L1049.5,794.4 L1053.5,794.8 L1057.5,795.4 L1061.5,801.7 L1065.5,808.2 L1069.5,810.8 L1073.5,809.5 L1077.5,806.0 L1081.5,802.0 L1085.5,799.4 L1089.5,799.6 L1093.5,800.8 L1097.5,804.4 L1101.5,810.8 L1105.5,817.0 L1109.5,821.9 L1113.5,813.2 L1117.5,807.6 L1121.5,803.9 L1125.5,804.8 L1129.5,802.8 L1133.5,796.8 L1137.5,792.3 L1141.5,790.7 L1145.5,786.1 L1149.5,775.6 L1153.5,770.1 L1157.5,768.1 L1161.5,768.2 L1165.5,768.1 L1169.5,771.2 L1173.5,771.9 L1177.5,777.2 L1181.5,781.3 L1185.5,782.1 L1189.5,786.0 L1193.5,788.1 L1197.5,787.2 L1201.5,784.3 L1205.5,783.6 L1209.5,782.9 L1213.5,779.6 L1217.5,777.0 L1221.5,776.7 L1225.5,774.5" fill="none" stroke="#0000CD" stroke-width="2" stroke-linejoin="round" shape-rendering="crispEdges"/><path d="M-2.5,776.8 L1.5,777.1 L5.5,777.4 L9.5,777.5 L13.5,778.0 L17.5,778.3 L21.5,776.6 L25.5,774.5 L29.5,773.2 L33.5,772.4 L37.5,771.8 L41.5,771.6 L45.5,771.8 L49.5,771.2 L53.5,770.3 L57.5,769.2 L61.5,768.1 L65.5,767.3 L69.5,765.1 L73.5,763.0 L77.5,761.5 L81.5,761.2 L85.5,761.7 L89.5,763.2 L93.5,765.9 L97.5,767.8 L101.5,769.2 L105.5,770.1 L109.5,768.9 L113.5,766.9 L117.5,765.0 L121.5,764.0 L125.5,764.3 L129.5,764.9 L133.5,765.1 L137.5,764.8 L141.5,762.5 L145.5,760.5 L149.5,759.1 L153.5,758.6 L157.5,759.5 L161.5,762.6 L165.5,764.3 L169.5,765.2 L173.5,765.9 L177.5,767.5 L181.5,768.5 L185.5,766.8 L189.5,763.7 L193.5,760.4 L197.5,758.1 L201.5,756.6 L205.5,756.1 L209.5,753.4 L213.5,748.1 L217.5,743.2 L221.5,742.2 L225.5,743.0 L229.5,748.9 L233.5,754.9 L237.5,763.8 L241.5,773.6 L245.5,782.5 L249.5,791.3 L253.5,801.5 L257.5,809.4 L261.5,818.5 L265.5,830.1 L269.5,833.8 L273.5,832.7 L277.5,830.9 L281.5,827.9 L285.5,821.2 L289.5,811.3 L293.5,801.4 L297.5,792.8 L301.5,786.4 L305.5,780.6 L309.5,774.1 L313.5,768.1 L317.5,764.5 L321.5,764.1 L325.5,766.7 L329.5,768.8 L333.5,774.4 L337.5,777.3 L341.5,779.6 L345.5,782.1 L349.5,783.8 L353.5,786.6 L357.5,788.1 L361.5,787.8 L365.5,786.0 L369.5,782.3 L373.5,778.4 L377.5,775.3 L381.5,772.1 L385.5,769.0 L389.5,768.0 L393.5,766.8 L397.5,765.4 L401.5,764.7 L405.5,765.4 L409.5,766.7 L413.5,767.7 L417.5,768.7 L421.5,770.4 L425.5,771.8 L429.5,772.1 L433.5,771.9 L437.5,771.0 L441.5,771.1 L445.5,771.3 L449.5,771.2 L453.5,771.9 L457.5,772.9 L461.5,773.7 L465.5,774.9 L469.5,778.8 L473.5,783.0 L477.5,784.4 L481.5,785.2 L485.5,786.0 L489.5,784.9 L493.5,782.7 L497.5,780.3 L501.5,779.5 L505.5,779.3 L509.5,779.0 L513.5,779.4 L517.5,779.6 L521.5,779.6 L525.5,780.2 L529.5,782.3 L533.5,784.2 L537.5,786.8 L541.5,787.8 L545.5,788.6 L549.5,788.2 L553.5,786.6 L557.5,785.3 L561.5,782.2 L565.5,779.4 L569.5,777.4 L573.5,776.2 L577.5,774.4 L581.5,773.6 L585.5,773.0 L589.5,773.3 L593.5,773.5 L597.5,773.5 L601.5,773.1 L605.5,772.6 L609.5,771.6 L613.5,770.5 L617.5,769.1 L621.5,766.3 L625.5,764.6 L629.5,763.5 L633.5,762.4 L637.5,761.5 L641.5,760.8 L645.5,761.7 L649.5,763.5 L653.5,765.6 L657.5,768.7 L661.5,770.7 L665.5,772.7 L669.5,773.3 L673.5,773.1 L677.5,773.3 L681.5,773.4 L685.5,773.1 L689.5,773.9 L693.5,774.5 L697.5,774.7 L701.5,775.4 L705.5,776.2 L709.5,776.6 L713.5,776.8 L717.5,777.0 L721.5,777.0 L725.5,777.1 L729.5,776.2 L733.5,774.6 L737.5,772.4 L741.5,769.0 L745.5,765.2 L749.5,762.3 L753.5,762.1 L757.5,763.5 L761.5,765.3 L765.5,765.9 L769.5,767.8 L773.5,771.3 L777.5,779.3 L781.5,785.0 L785.5,789.9 L789.5,791.5 L793.5,791.4 L797.5,789.9 L801.5,789.0 L805.5,788.5 L809.5,787.9 L813.5,785.8 L817.5,784.3 L821.5,783.1 L825.5,783.8 L829.5,785.5 L833.5,786.6 L837.5,786.0 L841.5,785.2 L845.5,785.0 L849.5,784.2 L853.5,782.1 L857.5,779.8 L861.5,780.5 L865.5,780.4 L869.5,780.5 L873.5,781.6 L877.5,781.9 L881.5,780.9 L885.5,778.8 L889.5,776.5 L893.5,774.5 L897.5,772.6 L901.5,770.8 L905.5,770.4 L909.5,770.4 L913.5,771.0 L917.5,772.1 L921.5,773.5 L925.5,774.9 L929.5,775.8 L933.5,776.6 L937.5,777.6 L941.5,777.7 L945.5,778.4 L949.5,780.3 L953.5,782.8 L957.5,783.6 L961.5,784.2 L965.5,784.8 L969.5,784.7 L973.5,785.7 L977.5,787.3 L981.5,788.6 L985.5,789.4 L989.5,790.5 L993.5,789.8 L997.5,789.5 L1001.5,788.8 L1005.5,787.3 L1009.5,786.0 L1013.5,785.0 L1017.5,783.9 L1021.5,783.4 L1025.5,782.8 L1029.5,782.6 L1033.5,782.4 L1037.5,782.3 L1041.5,785.0 L1045.5,787.5 L1049.5,790.9 L1053.5,792.9 L1057.5,794.1 L1061.5,797.9 L1065.5,803.1 L1069.5,807.0 L1073.5,808.2 L1077.5,807.1 L1081.5,804.5 L1085.5,802.0 L1089.5,800.8 L1093.5,800.8 L1097.5,802.6 L1101.5,806.7 L1105.5,811.8 L1109.5,816.9 L1113.5,815.1 L1117.5,811.4 L1121.5,807.6 L1125.5,806.2 L1129.5,804.5 L1133.5,800.6 L1137.5,796.5 L1141.5,793.6 L1145.5,789.9 L1149.5,782.7 L1153.5,776.4 L1157.5,772.3 L1161.5,770.2 L1165.5,769.2 L1169.5,770.2 L1173.5,771.0 L1177.5,774.1 L1181.5,777.7 L1185.5,779.9 L1189.5,782.9 L1193.5,785.5 L1197.5,786.4 L1201.5,785.3 L1205.5,784.4 L1209.5,783.7 L1213.5,781.6 L1217.5,779.3 L1221.5,778.0 L1225.5,776.3" fill="none" stroke="#FF8C00" stroke-width="2" stroke-linejoin="round" shape-rendering="crispEdges"/><ellipse cx="1224" cy="777" rx="39.5" ry="36" fill="none" stroke="#EE5555" stroke-width="2"/></g><g shape-rendering="crispEdges" fill="#000"><rect x="1292" y="0" width="1" height="610"/><rect x="1292" y="611" width="1" height="120"/><rect x="1292" y="732" width="1" height="116"/><rect x="0" y="609" width="1293" height="1"/><rect x="0" y="611" width="1293" height="1"/><rect x="0" y="730" width="1293" height="1"/><rect x="0" y="732" width="1293" height="1"/><rect x="0" y="847" width="1293" height="1"/></g><g shape-rendering="crispEdges" fill="#000"><rect x="1293" y="12" width="2" height="1"/><rect x="1293" y="45" width="2" height="1"/><rect x="1293" y="78" width="2" height="1"/><rect x="1293" y="111" width="2" height="1"/><rect x="1293" y="144" width="2" height="1"/><rect x="1293" y="177" width="2" height="1"/><rect x="1293" y="210" width="2" height="1"/><rect x="1293" y="243" width="2" height="1"/><rect x="1293" y="276" width="2" height="1"/><rect x="1293" y="309" width="2" height="1"/><rect x="1293" y="342" width="2" height="1"/><rect x="1293" y="375" width="2" height="1"/><rect x="1293" y="408" width="2" height="1"/><rect x="1293" y="441" width="2" height="1"/><rect x="1293" y="474" width="2" height="1"/><rect x="1293" y="507" width="2" height="1"/><rect x="1293" y="540" width="2" height="1"/><rect x="1293" y="573" width="2" height="1"/><rect x="1293" y="606" width="2" height="1"/></g><g font-family="Liberation Sans, sans-serif" font-size="10px" letter-spacing="-0.4px" fill="#000"><text x="1298" y="16">5637.05</text><text x="1298" y="49">5546.95</text><text x="1298" y="82">5459.50</text><text x="1298" y="115">5369.40</text><text x="1298" y="148">5281.95</text><text x="1298" y="181">5191.85</text><text x="1298" y="214">5104.40</text><text x="1298" y="247">5014.30</text><text x="1298" y="280">4924.20</text><text x="1298" y="313">4836.75</text><text x="1298" y="346">4746.65</text><text x="1298" y="379">4659.20</text><text x="1298" y="412">4569.10</text><text x="1298" y="445">4479.00</text><text x="1298" y="478">4391.55</text><text x="1298" y="511">4301.45</text><text x="1298" y="544">4214.00</text><text x="1298" y="577">4123.90</text><text x="1298" y="610">4036.45</text></g><rect x="1294" y="357" width="41" height="11" fill="#FF0000" shape-rendering="crispEdges"/><text x="1298" y="366" fill="#FFF" font-family="Liberation Sans, sans-serif" font-size="10px" letter-spacing="-0.4px">4690.84</text><rect x="1294" y="371" width="41" height="11" fill="#FF0000" shape-rendering="crispEdges"/><text x="1298" y="380" fill="#FFF" font-family="Liberation Sans, sans-serif" font-size="10px" letter-spacing="-0.4px">4653.15</text><rect x="1294" y="425" width="41" height="11" fill="#000000" shape-rendering="crispEdges"/><text x="1298" y="434" fill="#FFF" font-family="Liberation Sans, sans-serif" font-size="10px" letter-spacing="-0.4px">4510.24</text><rect x="1294" y="482" width="41" height="11" fill="#FF0000" shape-rendering="crispEdges"/><text x="1298" y="491" fill="#FFF" font-family="Liberation Sans, sans-serif" font-size="10px" letter-spacing="-0.4px">4354.29</text><rect x="1294" y="496" width="41" height="11" fill="#FF0000" shape-rendering="crispEdges"/><text x="1298" y="505" fill="#FFF" font-family="Liberation Sans, sans-serif" font-size="10px" letter-spacing="-0.4px">4316.59</text><g font-family="Liberation Sans, sans-serif" font-size="10px" letter-spacing="-0.4px" fill="#000"><text x="1296" y="622">100</text><text x="1295" y="675">50</text><text x="1296" y="727">0</text><text x="1296" y="743">119.5334</text><text x="1296" y="782">0.00</text><text x="1296" y="845">-182.6615</text></g><g shape-rendering="crispEdges" fill="#000"><rect x="1293" y="612" width="2" height="1"/><rect x="1293" y="729" width="2" height="1"/><rect x="1293" y="734" width="2" height="1"/><rect x="1293" y="778" width="2" height="1"/><rect x="1293" y="846" width="2" height="1"/></g><rect x="1294" y="624" width="41" height="11" fill="#FF0000" shape-rendering="crispEdges"/><text x="1298" y="633" fill="#FFF" font-family="Liberation Sans, sans-serif" font-size="10px" letter-spacing="-0.4px">85.0000</text><rect x="1294" y="642" width="41" height="11" fill="#FF0000" shape-rendering="crispEdges"/><text x="1298" y="651" fill="#FFF" font-family="Liberation Sans, sans-serif" font-size="10px" letter-spacing="-0.4px">70.0000</text><rect x="1294" y="688" width="41" height="11" fill="#0000FF" shape-rendering="crispEdges"/><text x="1298" y="697" fill="#FFF" font-family="Liberation Sans, sans-serif" font-size="10px" letter-spacing="-0.4px">30.0000</text><rect x="1294" y="706" width="41" height="11" fill="#0000FF" shape-rendering="crispEdges"/><text x="1298" y="715" fill="#FFF" font-family="Liberation Sans, sans-serif" font-size="10px" letter-spacing="-0.4px">15.0000</text><g shape-rendering="crispEdges" fill="#000"><rect x="1" y="848" width="1" height="3"/><rect x="65" y="848" width="1" height="3"/><rect x="129" y="848" width="1" height="3"/><rect x="193" y="848" width="1" height="3"/><rect x="257" y="848" width="1" height="3"/><rect x="321" y="848" width="1" height="3"/><rect x="385" y="848" width="1" height="3"/><rect x="449" y="848" width="1" height="3"/><rect x="513" y="848" width="1" height="3"/><rect x="577" y="848" width="1" height="3"/><rect x="641" y="848" width="1" height="3"/><rect x="705" y="848" width="1" height="3"/><rect x="769" y="848" width="1" height="3"/><rect x="833" y="848" width="1" height="3"/><rect x="897" y="848" width="1" height="3"/><rect x="961" y="848" width="1" height="3"/><rect x="1025" y="848" width="1" height="3"/><rect x="1089" y="848" width="1" height="3"/><rect x="1153" y="848" width="1" height="3"/><rect x="1217" y="848" width="1" height="3"/></g><g font-family="Liberation Sans, sans-serif" font-size="10px" letter-spacing="-0.4px" fill="#000"><text x="0" y="860">16 Jan 05:00</text><text x="64" y="860">20 Jan 21:00</text><text x="128" y="860">23 Jan 13:00</text><text x="192" y="860">28 Jan 05:00</text><text x="256" y="860">30 Jan 21:00</text><text x="320" y="860">4 Feb 13:00</text><text x="384" y="860">9 Feb 05:00</text><text x="448" y="860">11 Feb 21:00</text><text x="512" y="860">16 Feb 13:00</text><text x="576" y="860">19 Feb 05:00</text><text x="640" y="860">23 Feb 21:00</text><text x="704" y="860">26 Feb 13:00</text><text x="768" y="860">3 Mar 05:00</text><text x="832" y="860">5 Mar 21:00</text><text x="896" y="860">10 Mar 13:00</text><text x="960" y="860">13 Mar 05:00</text><text x="1024" y="860">17 Mar 21:00</text><text x="1088" y="860">20 Mar 13:00</text><text x="1152" y="860">25 Mar 05:00</text><text x="1216" y="860">27 Mar 21:00</text></g></svg></body></html>
